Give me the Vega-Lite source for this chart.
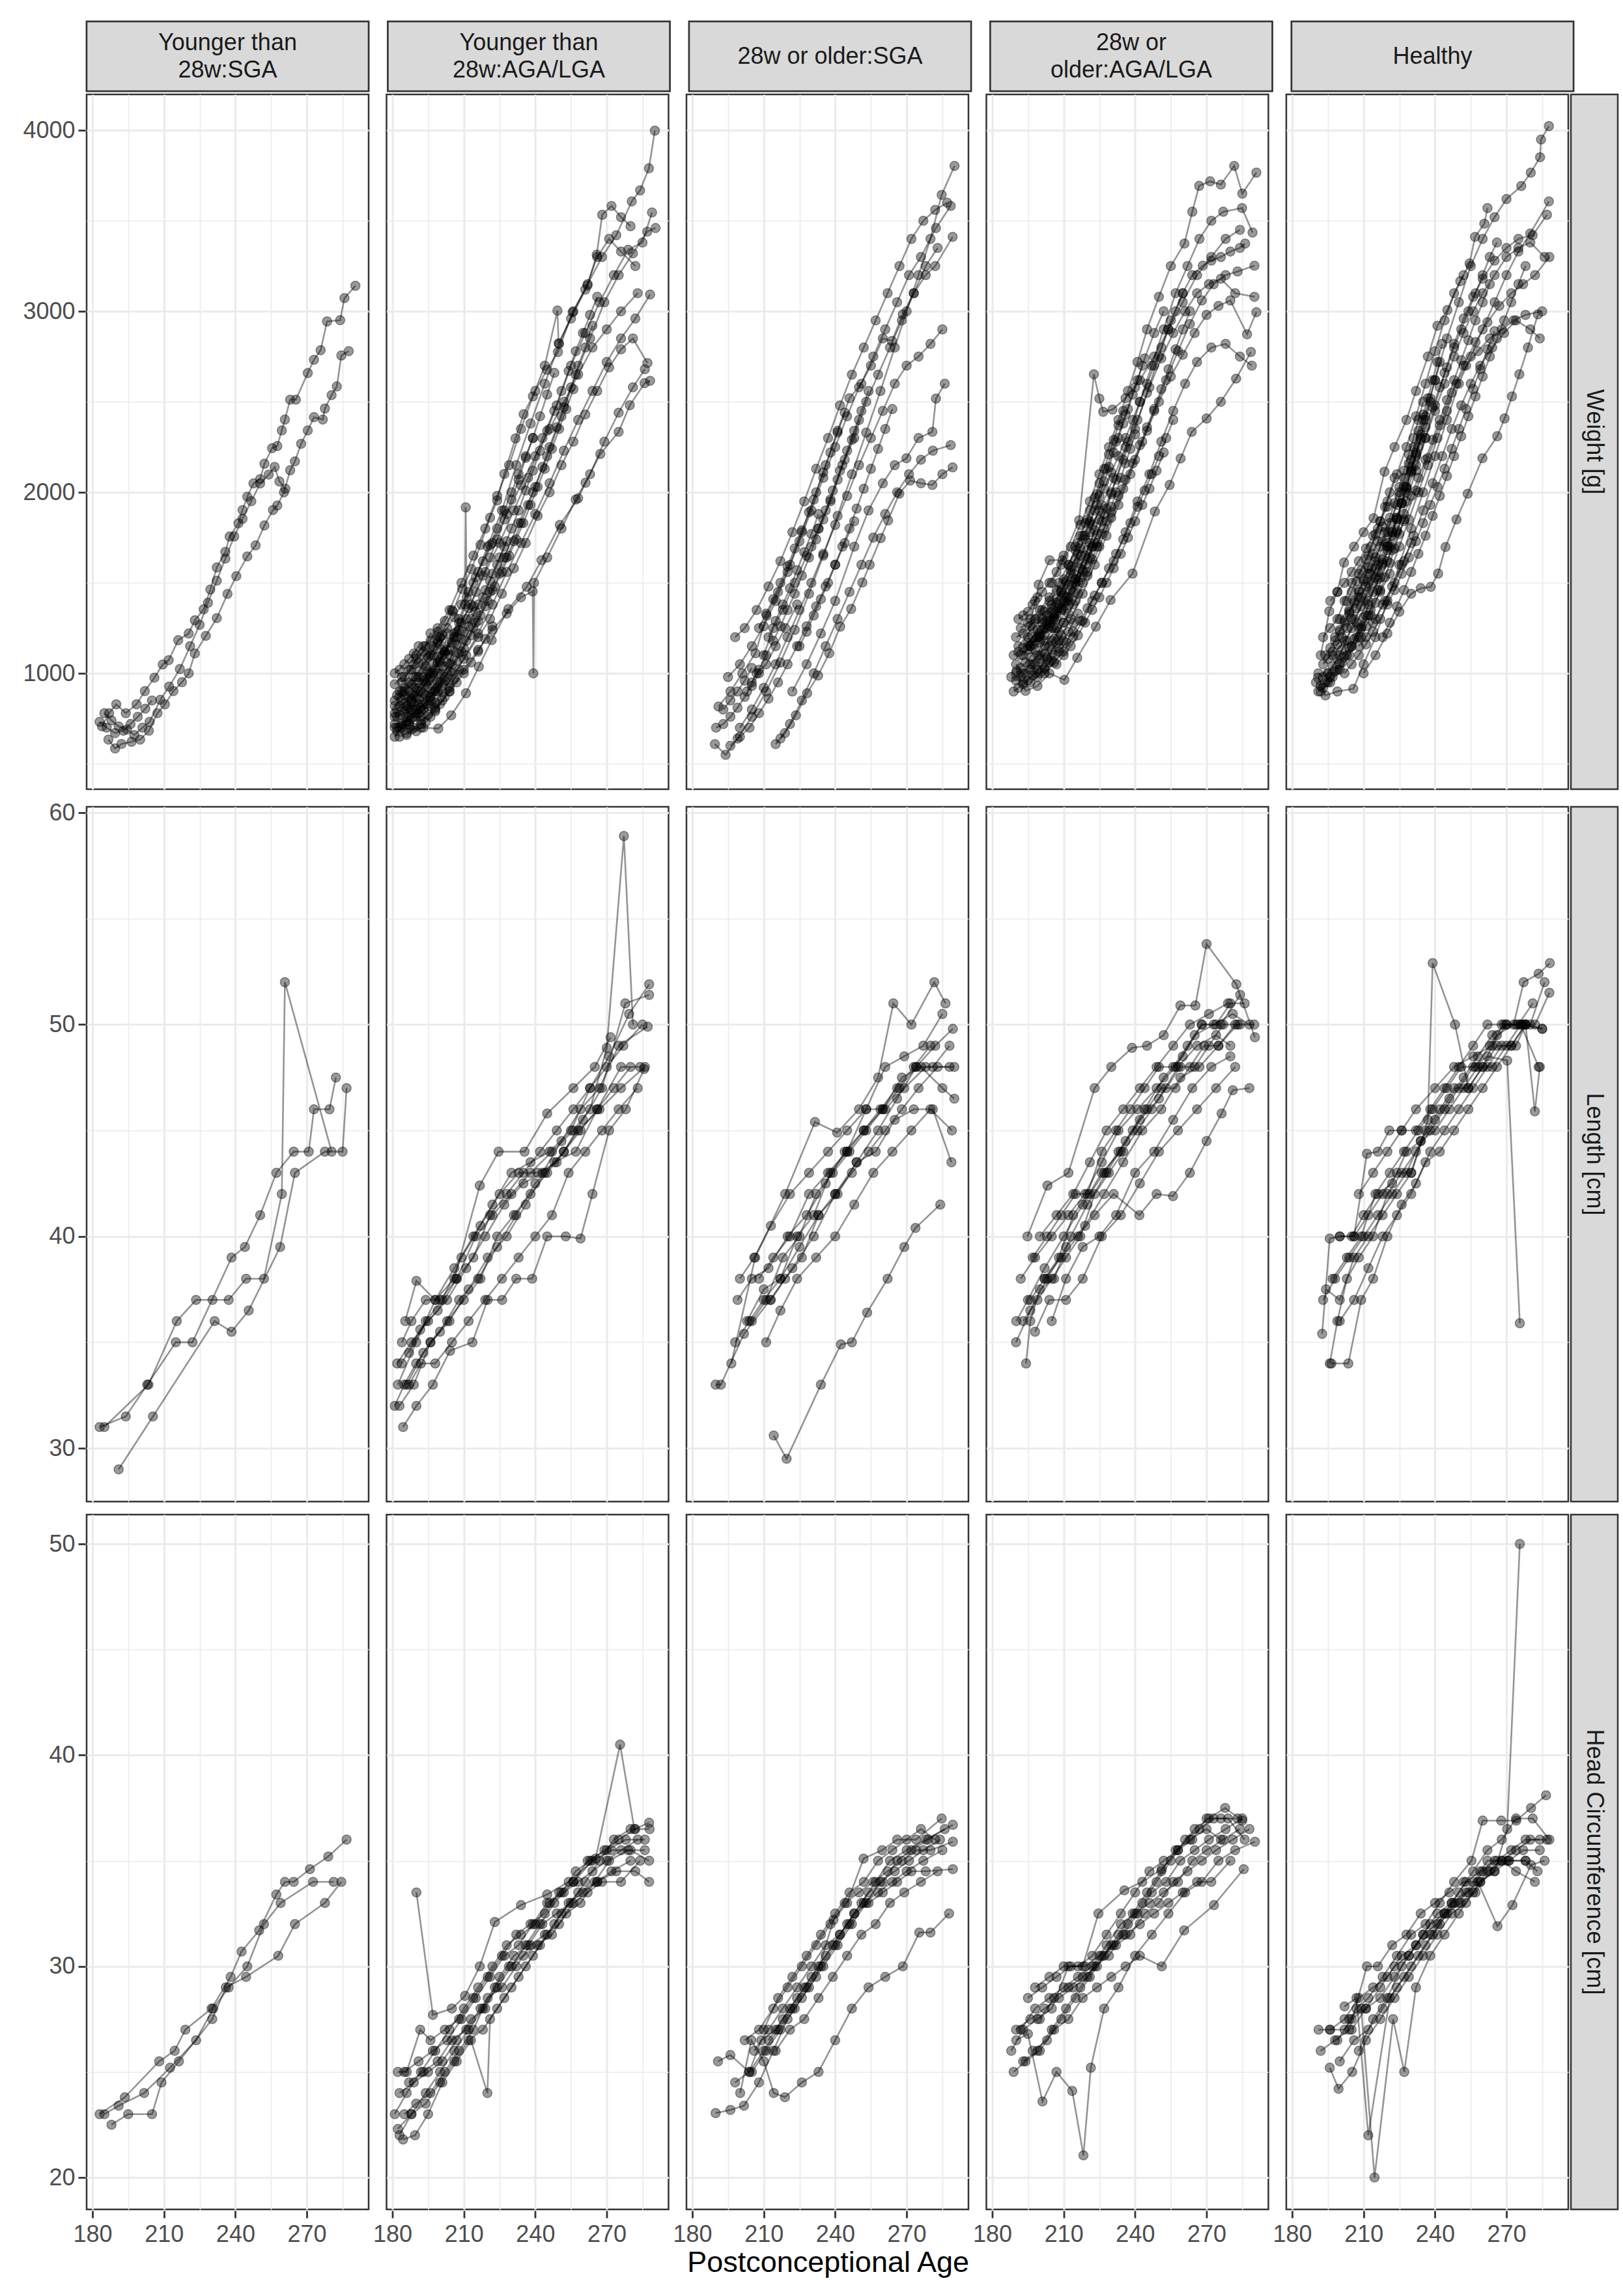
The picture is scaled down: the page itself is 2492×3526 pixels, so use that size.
{
"$schema":"https://vega.github.io/schema/vega-lite/v6.json",
"background":"white",
"padding":{"left":30,"top":30,"right":0,"bottom":0},
"config":{"font":"Liberation Sans","view":{"stroke":"#333333","strokeWidth":2.5},
"axis":{"gridColor":"#ebebeb","labelFont":"Liberation Sans","labelFontSize":36,"labelColor":"#4d4d4d","tickColor":"#333333","tickWidth":2.8,"tickSize":11,"domain":false,"labelOverlap":false,"labelFlush":false,"labelPadding":5}},
"title":{"text":"Postconceptional Age","orient":"bottom","anchor":"middle","fontSize":45,"fontWeight":"normal","color":"#000000","font":"Liberation Sans","offset":4,"dx":14},
"datasets":{
"top":[{"c":1,"lab":"Younger than\n28w:SGA"},{"c":2,"lab":"Younger than\n28w:AGA/LGA"},{"c":3,"lab":"28w or older:SGA"},{"c":4,"lab":"28w or\nolder:AGA/LGA"},{"c":5,"lab":"Healthy"}],
"side":[{"m":1,"lab":"Weight [g]"},{"m":2,"lab":"Length [cm]"},{"m":3,"lab":"Head Circumference [cm]"}],
"pts":[
{"c":1,"m":1,"s":1,"x":184,"y":707},{"c":1,"m":1,"s":1,"x":187,"y":780},{"c":1,"m":1,"s":1,"x":190,"y":829},{"c":1,"m":1,"s":1,"x":194,"y":780},{"c":1,"m":1,"s":1,"x":198.5,"y":829},{"c":1,"m":1,"s":1,"x":202,"y":902},{"c":1,"m":1,"s":1,"x":206,"y":976},{"c":1,"m":1,"s":1,"x":209.5,"y":1049},{"c":1,"m":1,"s":1,"x":212,"y":1073},{"c":1,"m":1,"s":1,"x":216,"y":1183},{"c":1,"m":1,"s":1,"x":220.4,"y":1220},{"c":1,"m":1,"s":1,"x":223,"y":1293},{"c":1,"m":1,"s":1,"x":226.7,"y":1354},{"c":1,"m":1,"s":1,"x":229.5,"y":1463},{"c":1,"m":1,"s":1,"x":232.2,"y":1585},{"c":1,"m":1,"s":1,"x":235.8,"y":1671},{"c":1,"m":1,"s":1,"x":237.6,"y":1756},{"c":1,"m":1,"s":1,"x":241.3,"y":1829},{"c":1,"m":1,"s":1,"x":243,"y":1902},{"c":1,"m":1,"s":1,"x":245,"y":1976},{"c":1,"m":1,"s":1,"x":247.6,"y":2049},{"c":1,"m":1,"s":1,"x":250.4,"y":2073},{"c":1,"m":1,"s":1,"x":252.2,"y":2158},{"c":1,"m":1,"s":1,"x":255.4,"y":2244},{"c":1,"m":1,"s":1,"x":257.6,"y":2256},{"c":1,"m":1,"s":1,"x":259.5,"y":2342},{"c":1,"m":1,"s":1,"x":260.8,"y":2402},{"c":1,"m":1,"s":1,"x":263,"y":2512},{"c":1,"m":1,"s":1,"x":265.4,"y":2512},{"c":1,"m":1,"s":1,"x":270.4,"y":2659},{"c":1,"m":1,"s":1,"x":273,"y":2732},{"c":1,"m":1,"s":1,"x":275.8,"y":2785},{"c":1,"m":1,"s":1,"x":278.5,"y":2944},{"c":1,"m":1,"s":1,"x":284,"y":2951},{"c":1,"m":1,"s":1,"x":285.8,"y":3073},{"c":1,"m":1,"s":1,"x":290.4,"y":3141},
{"c":1,"m":1,"s":2,"x":186.7,"y":634},{"c":1,"m":1,"s":2,"x":189.5,"y":585},{"c":1,"m":1,"s":2,"x":192.2,"y":610},{"c":1,"m":1,"s":2,"x":196.4,"y":622},{"c":1,"m":1,"s":2,"x":200,"y":634},{"c":1,"m":1,"s":2,"x":203.7,"y":683},{"c":1,"m":1,"s":2,"x":207.3,"y":780},{"c":1,"m":1,"s":2,"x":210.4,"y":829},{"c":1,"m":1,"s":2,"x":214,"y":902},{"c":1,"m":1,"s":2,"x":217.6,"y":951},{"c":1,"m":1,"s":2,"x":220.4,"y":1000},{"c":1,"m":1,"s":2,"x":223,"y":1110},{"c":1,"m":1,"s":2,"x":227.6,"y":1207},{"c":1,"m":1,"s":2,"x":232.2,"y":1305},{"c":1,"m":1,"s":2,"x":236.7,"y":1439},{"c":1,"m":1,"s":2,"x":240.4,"y":1537},{"c":1,"m":1,"s":2,"x":245,"y":1646},{"c":1,"m":1,"s":2,"x":248.5,"y":1707},{"c":1,"m":1,"s":2,"x":252.2,"y":1817},{"c":1,"m":1,"s":2,"x":255.8,"y":1902},{"c":1,"m":1,"s":2,"x":257.6,"y":1927},{"c":1,"m":1,"s":2,"x":260.4,"y":2000},{"c":1,"m":1,"s":2,"x":263,"y":2122},{"c":1,"m":1,"s":2,"x":265,"y":2171},{"c":1,"m":1,"s":2,"x":267.6,"y":2268},{"c":1,"m":1,"s":2,"x":270.4,"y":2342},{"c":1,"m":1,"s":2,"x":273,"y":2415},{"c":1,"m":1,"s":2,"x":276.7,"y":2402},{"c":1,"m":1,"s":2,"x":277.6,"y":2463},{"c":1,"m":1,"s":2,"x":280.4,"y":2537},{"c":1,"m":1,"s":2,"x":282.6,"y":2585},{"c":1,"m":1,"s":2,"x":284.5,"y":2756},{"c":1,"m":1,"s":2,"x":287.6,"y":2780},
{"c":1,"m":1,"s":3,"x":185,"y":780},{"c":1,"m":1,"s":3,"x":188,"y":740},{"c":1,"m":1,"s":3,"x":191,"y":707},{"c":1,"m":1,"s":3,"x":194.5,"y":690},{"c":1,"m":1,"s":3,"x":197.6,"y":659},{"c":1,"m":1,"s":3,"x":201,"y":700},{"c":1,"m":1,"s":3,"x":204,"y":732},{"c":1,"m":1,"s":3,"x":208.5,"y":854},{"c":1,"m":1,"s":3,"x":212.2,"y":927},{"c":1,"m":1,"s":3,"x":216.7,"y":1024},{"c":1,"m":1,"s":3,"x":221,"y":1150},{"c":1,"m":1,"s":3,"x":225,"y":1268},{"c":1,"m":1,"s":3,"x":228.5,"y":1390},{"c":1,"m":1,"s":3,"x":232.2,"y":1512},{"c":1,"m":1,"s":3,"x":235.8,"y":1634},{"c":1,"m":1,"s":3,"x":239.5,"y":1756},{"c":1,"m":1,"s":3,"x":243,"y":1854},{"c":1,"m":1,"s":3,"x":246.7,"y":1951},{"c":1,"m":1,"s":3,"x":250.4,"y":2049},{"c":1,"m":1,"s":3,"x":254,"y":2098},{"c":1,"m":1,"s":3,"x":256.5,"y":2140},{"c":1,"m":1,"s":3,"x":258.5,"y":2060},{"c":1,"m":1,"s":3,"x":261,"y":2020},
{"c":1,"m":1,"s":4,"x":183,"y":732},{"c":1,"m":1,"s":4,"x":186,"y":700},{"c":1,"m":1,"s":4,"x":189.5,"y":670},{"c":1,"m":1,"s":4,"x":193,"y":683},{"c":1,"m":1,"s":4,"x":196,"y":720},{"c":1,"m":1,"s":4,"x":199,"y":760},{"c":1,"m":1,"s":4,"x":202.2,"y":805},{"c":1,"m":1,"s":4,"x":205,"y":850},
{"c":1,"m":2,"s":1,"x":183,"y":31},{"c":1,"m":2,"s":1,"x":194,"y":31.5},{"c":1,"m":2,"s":1,"x":203,"y":33},{"c":1,"m":2,"s":1,"x":215,"y":35},{"c":1,"m":2,"s":1,"x":222,"y":35},{"c":1,"m":2,"s":1,"x":238.4,"y":39},{"c":1,"m":2,"s":1,"x":244,"y":39.5},{"c":1,"m":2,"s":1,"x":250.4,"y":41},{"c":1,"m":2,"s":1,"x":257.2,"y":43},{"c":1,"m":2,"s":1,"x":264.5,"y":44},{"c":1,"m":2,"s":1,"x":270.8,"y":44},{"c":1,"m":2,"s":1,"x":273,"y":46},{"c":1,"m":2,"s":1,"x":279.5,"y":46},{"c":1,"m":2,"s":1,"x":282.2,"y":47.5},
{"c":1,"m":2,"s":2,"x":185,"y":31},{"c":1,"m":2,"s":2,"x":203.5,"y":33},{"c":1,"m":2,"s":2,"x":215.4,"y":36},{"c":1,"m":2,"s":2,"x":223.5,"y":37},{"c":1,"m":2,"s":2,"x":230.4,"y":37},{"c":1,"m":2,"s":2,"x":237.2,"y":37},{"c":1,"m":2,"s":2,"x":244.5,"y":38},{"c":1,"m":2,"s":2,"x":252,"y":38},{"c":1,"m":2,"s":2,"x":259.5,"y":42},{"c":1,"m":2,"s":2,"x":260.8,"y":52},{"c":1,"m":2,"s":2,"x":280.4,"y":44},
{"c":1,"m":2,"s":3,"x":191,"y":29},{"c":1,"m":2,"s":3,"x":205.4,"y":31.5},{"c":1,"m":2,"s":3,"x":231.3,"y":36},{"c":1,"m":2,"s":3,"x":238.4,"y":35.5},{"c":1,"m":2,"s":3,"x":245.6,"y":36.5},{"c":1,"m":2,"s":3,"x":258.8,"y":39.5},{"c":1,"m":2,"s":3,"x":265,"y":43},{"c":1,"m":2,"s":3,"x":277.6,"y":44},{"c":1,"m":2,"s":3,"x":285,"y":44},{"c":1,"m":2,"s":3,"x":286.7,"y":47},
{"c":1,"m":3,"s":1,"x":183,"y":23},{"c":1,"m":3,"s":1,"x":193.6,"y":23.8},{"c":1,"m":3,"s":1,"x":208,"y":25.5},{"c":1,"m":3,"s":1,"x":214.5,"y":26},{"c":1,"m":3,"s":1,"x":219,"y":27},{"c":1,"m":3,"s":1,"x":230,"y":28},{"c":1,"m":3,"s":1,"x":238,"y":29.5},{"c":1,"m":3,"s":1,"x":242.6,"y":30.7},{"c":1,"m":3,"s":1,"x":250,"y":31.7},{"c":1,"m":3,"s":1,"x":257.2,"y":33.4},{"c":1,"m":3,"s":1,"x":260.8,"y":34},{"c":1,"m":3,"s":1,"x":264.5,"y":34},{"c":1,"m":3,"s":1,"x":271.3,"y":34.6},{"c":1,"m":3,"s":1,"x":279,"y":35.2},{"c":1,"m":3,"s":1,"x":286.7,"y":36},
{"c":1,"m":3,"s":2,"x":185,"y":23},{"c":1,"m":3,"s":2,"x":191,"y":23.4},{"c":1,"m":3,"s":2,"x":201.7,"y":24},{"c":1,"m":3,"s":2,"x":212.6,"y":25.2},{"c":1,"m":3,"s":2,"x":223.5,"y":26.5},{"c":1,"m":3,"s":2,"x":230.7,"y":28},{"c":1,"m":3,"s":2,"x":237.2,"y":29},{"c":1,"m":3,"s":2,"x":245,"y":30},{"c":1,"m":3,"s":2,"x":252,"y":32},{"c":1,"m":3,"s":2,"x":259,"y":33},{"c":1,"m":3,"s":2,"x":272.6,"y":34},{"c":1,"m":3,"s":2,"x":281.3,"y":34},
{"c":1,"m":3,"s":3,"x":188,"y":22.5},{"c":1,"m":3,"s":3,"x":195,"y":23},{"c":1,"m":3,"s":3,"x":205,"y":23},{"c":1,"m":3,"s":3,"x":209,"y":24.5},{"c":1,"m":3,"s":3,"x":216.3,"y":25.5},{"c":1,"m":3,"s":3,"x":230.3,"y":27.5},{"c":1,"m":3,"s":3,"x":236,"y":29},{"c":1,"m":3,"s":3,"x":244.5,"y":29.5},{"c":1,"m":3,"s":3,"x":258,"y":30.5},{"c":1,"m":3,"s":3,"x":265,"y":32},{"c":1,"m":3,"s":3,"x":277.6,"y":33},{"c":1,"m":3,"s":3,"x":284.5,"y":34},
{"c":2,"m":1,"s":1,"x":184,"y":900},{"c":2,"m":1,"s":1,"x":190,"y":980},{"c":2,"m":1,"s":1,"x":196,"y":1100},{"c":2,"m":1,"s":1,"x":200,"y":1200},{"c":2,"m":1,"s":1,"x":205.4,"y":1343},{"c":2,"m":1,"s":1,"x":209.3,"y":1466},{"c":2,"m":1,"s":1,"x":213.2,"y":1576},{"c":2,"m":1,"s":1,"x":217,"y":1710},{"c":2,"m":1,"s":1,"x":221,"y":1860},{"c":2,"m":1,"s":1,"x":224,"y":1955},{"c":2,"m":1,"s":1,"x":227,"y":2102},{"c":2,"m":1,"s":1,"x":231.7,"y":2298},{"c":2,"m":1,"s":1,"x":235.1,"y":2432},{"c":2,"m":1,"s":1,"x":240,"y":2560},{"c":2,"m":1,"s":1,"x":244.9,"y":2677},{"c":2,"m":1,"s":1,"x":249.5,"y":2775},{"c":2,"m":1,"s":1,"x":255.7,"y":2995},{"c":2,"m":1,"s":1,"x":261.9,"y":3142},{"c":2,"m":1,"s":1,"x":265.8,"y":3313},{"c":2,"m":1,"s":1,"x":268.1,"y":3533},{"c":2,"m":1,"s":1,"x":272,"y":3582},{"c":2,"m":1,"s":1,"x":276,"y":3520},{"c":2,"m":1,"s":1,"x":280,"y":3470},
{"c":2,"m":1,"s":2,"x":188,"y":850},{"c":2,"m":1,"s":2,"x":195,"y":960},{"c":2,"m":1,"s":2,"x":202,"y":1120},{"c":2,"m":1,"s":2,"x":208,"y":1300},{"c":2,"m":1,"s":2,"x":214,"y":1500},{"c":2,"m":1,"s":2,"x":220,"y":1700},{"c":2,"m":1,"s":2,"x":226,"y":1900},{"c":2,"m":1,"s":2,"x":232,"y":2150},{"c":2,"m":1,"s":2,"x":238,"y":2380},{"c":2,"m":1,"s":2,"x":244,"y":2600},{"c":2,"m":1,"s":2,"x":250,"y":2820},{"c":2,"m":1,"s":2,"x":256,"y":3000},{"c":2,"m":1,"s":2,"x":262,"y":3150},{"c":2,"m":1,"s":2,"x":268,"y":3300},{"c":2,"m":1,"s":2,"x":274,"y":3420},{"c":2,"m":1,"s":2,"x":280.5,"y":3607},{"c":2,"m":1,"s":2,"x":284,"y":3668},{"c":2,"m":1,"s":2,"x":287.7,"y":3790},{"c":2,"m":1,"s":2,"x":290.2,"y":3998},
{"c":2,"m":1,"s":3,"x":183,"y":700},{"c":2,"m":1,"s":3,"x":188,"y":690},{"c":2,"m":1,"s":3,"x":193,"y":700},{"c":2,"m":1,"s":3,"x":199.3,"y":695},{"c":2,"m":1,"s":3,"x":204.7,"y":768},{"c":2,"m":1,"s":3,"x":210.9,"y":890},{"c":2,"m":1,"s":3,"x":216.3,"y":1037},{"c":2,"m":1,"s":3,"x":221.7,"y":1184},{"c":2,"m":1,"s":3,"x":228.7,"y":1355},{"c":2,"m":1,"s":3,"x":236.4,"y":1478},{"c":2,"m":1,"s":3,"x":242.6,"y":1625},{"c":2,"m":1,"s":3,"x":250.3,"y":1820},{"c":2,"m":1,"s":3,"x":258,"y":1967},{"c":2,"m":1,"s":3,"x":261.1,"y":2053},{"c":2,"m":1,"s":3,"x":267.3,"y":2212},{"c":2,"m":1,"s":3,"x":275,"y":2334},{"c":2,"m":1,"s":3,"x":279.7,"y":2481},{"c":2,"m":1,"s":3,"x":285.9,"y":2603},{"c":2,"m":1,"s":3,"x":288.2,"y":2616},
{"c":2,"m":1,"s":4,"x":181,"y":780},{"c":2,"m":1,"s":4,"x":186,"y":800},{"c":2,"m":1,"s":4,"x":191,"y":830},{"c":2,"m":1,"s":4,"x":197,"y":900},{"c":2,"m":1,"s":4,"x":203,"y":1000},{"c":2,"m":1,"s":4,"x":209,"y":1120},{"c":2,"m":1,"s":4,"x":215,"y":1280},{"c":2,"m":1,"s":4,"x":221,"y":1450},{"c":2,"m":1,"s":4,"x":227,"y":1640},{"c":2,"m":1,"s":4,"x":233,"y":1830},{"c":2,"m":1,"s":4,"x":239,"y":2000},{"c":2,"m":1,"s":4,"x":245,"y":2200},{"c":2,"m":1,"s":4,"x":251,"y":2420},{"c":2,"m":1,"s":4,"x":257,"y":2650},{"c":2,"m":1,"s":4,"x":263,"y":2850},{"c":2,"m":1,"s":4,"x":269,"y":3050},{"c":2,"m":1,"s":4,"x":275,"y":3200},{"c":2,"m":1,"s":4,"x":281,"y":3320},{"c":2,"m":1,"s":4,"x":287,"y":3440},{"c":2,"m":1,"s":4,"x":290.5,"y":3460},
{"c":2,"m":1,"s":5,"x":182,"y":680},{"c":2,"m":1,"s":5,"x":187,"y":720},{"c":2,"m":1,"s":5,"x":192,"y":760},{"c":2,"m":1,"s":5,"x":198,"y":840},{"c":2,"m":1,"s":5,"x":204,"y":950},{"c":2,"m":1,"s":5,"x":210,"y":1080},{"c":2,"m":1,"s":5,"x":216,"y":1220},{"c":2,"m":1,"s":5,"x":222,"y":1380},{"c":2,"m":1,"s":5,"x":228,"y":1560},{"c":2,"m":1,"s":5,"x":234,"y":1720},{"c":2,"m":1,"s":5,"x":240,"y":1880},{"c":2,"m":1,"s":5,"x":246,"y":2050},{"c":2,"m":1,"s":5,"x":252,"y":2230},{"c":2,"m":1,"s":5,"x":258,"y":2400},{"c":2,"m":1,"s":5,"x":264,"y":2560},{"c":2,"m":1,"s":5,"x":270,"y":2720},{"c":2,"m":1,"s":5,"x":276,"y":2850},{"c":2,"m":1,"s":5,"x":282,"y":2960},{"c":2,"m":1,"s":5,"x":288.2,"y":3093},
{"c":2,"m":1,"s":6,"x":183,"y":820},{"c":2,"m":1,"s":6,"x":189,"y":880},{"c":2,"m":1,"s":6,"x":195,"y":1000},{"c":2,"m":1,"s":6,"x":201,"y":1100},{"c":2,"m":1,"s":6,"x":207,"y":1230},{"c":2,"m":1,"s":6,"x":213,"y":1380},{"c":2,"m":1,"s":6,"x":219,"y":1560},{"c":2,"m":1,"s":6,"x":225,"y":1720},{"c":2,"m":1,"s":6,"x":231,"y":1900},{"c":2,"m":1,"s":6,"x":237,"y":2080},{"c":2,"m":1,"s":6,"x":243,"y":2300},{"c":2,"m":1,"s":6,"x":249,"y":2480},{"c":2,"m":1,"s":6,"x":255,"y":2700},{"c":2,"m":1,"s":6,"x":261,"y":2880},{"c":2,"m":1,"s":6,"x":267,"y":3050},{"c":2,"m":1,"s":6,"x":273,"y":3200},{"c":2,"m":1,"s":6,"x":279,"y":3340},{"c":2,"m":1,"s":6,"x":285,"y":3380},{"c":2,"m":1,"s":6,"x":289,"y":3546},
{"c":2,"m":1,"s":7,"x":181,"y":720},{"c":2,"m":1,"s":7,"x":186,"y":740},{"c":2,"m":1,"s":7,"x":191,"y":780},{"c":2,"m":1,"s":7,"x":196,"y":820},{"c":2,"m":1,"s":7,"x":201,"y":900},{"c":2,"m":1,"s":7,"x":206,"y":1000},{"c":2,"m":1,"s":7,"x":211,"y":1100},{"c":2,"m":1,"s":7,"x":216,"y":1200},{"c":2,"m":1,"s":7,"x":221,"y":1300},{"c":2,"m":1,"s":7,"x":226,"y":1440},{"c":2,"m":1,"s":7,"x":231,"y":1580},{"c":2,"m":1,"s":7,"x":236,"y":1720},{"c":2,"m":1,"s":7,"x":241,"y":1870},{"c":2,"m":1,"s":7,"x":246,"y":2000},{"c":2,"m":1,"s":7,"x":251,"y":2150},{"c":2,"m":1,"s":7,"x":256,"y":2280},{"c":2,"m":1,"s":7,"x":261,"y":2430},{"c":2,"m":1,"s":7,"x":266,"y":2560},{"c":2,"m":1,"s":7,"x":271,"y":2690},{"c":2,"m":1,"s":7,"x":276,"y":2790},{"c":2,"m":1,"s":7,"x":281,"y":2850},{"c":2,"m":1,"s":7,"x":287.1,"y":2714},
{"c":2,"m":1,"s":8,"x":184,"y":950},{"c":2,"m":1,"s":8,"x":189,"y":1050},{"c":2,"m":1,"s":8,"x":194,"y":1150},{"c":2,"m":1,"s":8,"x":199,"y":1250},{"c":2,"m":1,"s":8,"x":204,"y":1350},{"c":2,"m":1,"s":8,"x":209,"y":1500},{"c":2,"m":1,"s":8,"x":214,"y":1650},{"c":2,"m":1,"s":8,"x":219,"y":1800},{"c":2,"m":1,"s":8,"x":224,"y":1980},{"c":2,"m":1,"s":8,"x":229,"y":2150},{"c":2,"m":1,"s":8,"x":234,"y":2350},{"c":2,"m":1,"s":8,"x":239,"y":2530},{"c":2,"m":1,"s":8,"x":244,"y":2700},{"c":2,"m":1,"s":8,"x":249.3,"y":3004},{"c":2,"m":1,"s":8,"x":249.8,"y":2824},{"c":2,"m":1,"s":8,"x":255,"y":2960},{"c":2,"m":1,"s":8,"x":261,"y":3120},{"c":2,"m":1,"s":8,"x":266,"y":3300},{"c":2,"m":1,"s":8,"x":271,"y":3400},{"c":2,"m":1,"s":8,"x":276,"y":3330},{"c":2,"m":1,"s":8,"x":282,"y":3250},
{"c":2,"m":1,"s":9,"x":182,"y":760},{"c":2,"m":1,"s":9,"x":188,"y":800},{"c":2,"m":1,"s":9,"x":194,"y":880},{"c":2,"m":1,"s":9,"x":199,"y":950},{"c":2,"m":1,"s":9,"x":204,"y":1050},{"c":2,"m":1,"s":9,"x":207,"y":1200},{"c":2,"m":1,"s":9,"x":210.5,"y":1381},{"c":2,"m":1,"s":9,"x":210.8,"y":1917},{"c":2,"m":1,"s":9,"x":211.2,"y":1420},{"c":2,"m":1,"s":9,"x":216,"y":1560},{"c":2,"m":1,"s":9,"x":222,"y":1720},{"c":2,"m":1,"s":9,"x":228,"y":1880},{"c":2,"m":1,"s":9,"x":234,"y":2040},{"c":2,"m":1,"s":9,"x":240,"y":2200},{"c":2,"m":1,"s":9,"x":246,"y":2350},{"c":2,"m":1,"s":9,"x":252,"y":2500},{"c":2,"m":1,"s":9,"x":258,"y":2650},{"c":2,"m":1,"s":9,"x":264,"y":2800},{"c":2,"m":1,"s":9,"x":270,"y":2900},{"c":2,"m":1,"s":9,"x":276,"y":3000},{"c":2,"m":1,"s":9,"x":283,"y":3100},
{"c":2,"m":1,"s":10,"x":186,"y":660},{"c":2,"m":1,"s":10,"x":192,"y":720},{"c":2,"m":1,"s":10,"x":198,"y":800},{"c":2,"m":1,"s":10,"x":204,"y":900},{"c":2,"m":1,"s":10,"x":210,"y":1020},{"c":2,"m":1,"s":10,"x":216,"y":1130},{"c":2,"m":1,"s":10,"x":222,"y":1240},{"c":2,"m":1,"s":10,"x":228,"y":1330},{"c":2,"m":1,"s":10,"x":234,"y":1420},{"c":2,"m":1,"s":10,"x":238.9,"y":1453},{"c":2,"m":1,"s":10,"x":239.2,"y":1000},{"c":2,"m":1,"s":10,"x":239.5,"y":1500},{"c":2,"m":1,"s":10,"x":245,"y":1640},{"c":2,"m":1,"s":10,"x":251,"y":1800},{"c":2,"m":1,"s":10,"x":257,"y":1960},{"c":2,"m":1,"s":10,"x":263,"y":2100},{"c":2,"m":1,"s":10,"x":269,"y":2280},{"c":2,"m":1,"s":10,"x":275,"y":2440},{"c":2,"m":1,"s":10,"x":281,"y":2580},{"c":2,"m":1,"s":10,"x":286,"y":2680},
{"c":2,"m":1,"s":11,"x":181,"y":650},{"c":2,"m":1,"s":11,"x":184,"y":700},{"c":2,"m":1,"s":11,"x":187,"y":720},{"c":2,"m":1,"s":11,"x":190,"y":760},{"c":2,"m":1,"s":11,"x":193,"y":800},{"c":2,"m":1,"s":11,"x":196,"y":850},{"c":2,"m":1,"s":11,"x":199,"y":900},{"c":2,"m":1,"s":11,"x":202,"y":960},
{"c":2,"m":1,"s":12,"x":182,"y":880},{"c":2,"m":1,"s":12,"x":185,"y":900},{"c":2,"m":1,"s":12,"x":188,"y":940},{"c":2,"m":1,"s":12,"x":191,"y":980},{"c":2,"m":1,"s":12,"x":194,"y":1040},{"c":2,"m":1,"s":12,"x":197,"y":1100},{"c":2,"m":1,"s":12,"x":200,"y":1160},{"c":2,"m":1,"s":12,"x":203,"y":1220},
{"c":2,"m":1,"s":13,"x":181,"y":940},{"c":2,"m":1,"s":13,"x":184,"y":980},{"c":2,"m":1,"s":13,"x":187,"y":1020},{"c":2,"m":1,"s":13,"x":190,"y":1080},{"c":2,"m":1,"s":13,"x":193,"y":1120},{"c":2,"m":1,"s":13,"x":196,"y":1221},{"c":2,"m":1,"s":13,"x":199,"y":1180},
{"c":2,"m":1,"s":14,"x":181,"y":700},{"c":2,"m":1,"s":14,"x":184,"y":720},{"c":2,"m":1,"s":14,"x":187,"y":760},{"c":2,"m":1,"s":14,"x":190,"y":800},{"c":2,"m":1,"s":14,"x":193,"y":830},{"c":2,"m":1,"s":14,"x":196,"y":870},{"c":2,"m":1,"s":14,"x":199,"y":920},{"c":2,"m":1,"s":14,"x":202,"y":980},{"c":2,"m":1,"s":14,"x":205,"y":1050},{"c":2,"m":1,"s":14,"x":208,"y":1110},{"c":2,"m":1,"s":14,"x":211,"y":1180},{"c":2,"m":1,"s":14,"x":214,"y":1250},{"c":2,"m":1,"s":14,"x":217,"y":1320},{"c":2,"m":1,"s":14,"x":220,"y":1400},{"c":2,"m":1,"s":14,"x":223,"y":1480},{"c":2,"m":1,"s":14,"x":226,"y":1560},{"c":2,"m":1,"s":14,"x":229,"y":1650},{"c":2,"m":1,"s":14,"x":232,"y":1740},{"c":2,"m":1,"s":14,"x":235,"y":1830},{"c":2,"m":1,"s":14,"x":238,"y":1930},{"c":2,"m":1,"s":14,"x":241,"y":2030},{"c":2,"m":1,"s":14,"x":244,"y":2130},{"c":2,"m":1,"s":14,"x":247,"y":2240},{"c":2,"m":1,"s":14,"x":250,"y":2350},{"c":2,"m":1,"s":14,"x":253,"y":2460},{"c":2,"m":1,"s":14,"x":256,"y":2570},
{"c":2,"m":1,"s":15,"x":182,"y":800},{"c":2,"m":1,"s":15,"x":185,"y":830},{"c":2,"m":1,"s":15,"x":188,"y":860},{"c":2,"m":1,"s":15,"x":191,"y":900},{"c":2,"m":1,"s":15,"x":194,"y":950},{"c":2,"m":1,"s":15,"x":197,"y":1000},{"c":2,"m":1,"s":15,"x":200,"y":1060},{"c":2,"m":1,"s":15,"x":203,"y":1130},{"c":2,"m":1,"s":15,"x":206,"y":1200},{"c":2,"m":1,"s":15,"x":209,"y":1280},{"c":2,"m":1,"s":15,"x":212,"y":1360},{"c":2,"m":1,"s":15,"x":215,"y":1450},{"c":2,"m":1,"s":15,"x":218,"y":1540},{"c":2,"m":1,"s":15,"x":221,"y":1640},{"c":2,"m":1,"s":15,"x":224,"y":1740},{"c":2,"m":1,"s":15,"x":227,"y":1850},{"c":2,"m":1,"s":15,"x":230,"y":1960},{"c":2,"m":1,"s":15,"x":233,"y":2070},{"c":2,"m":1,"s":15,"x":236,"y":2190},{"c":2,"m":1,"s":15,"x":239,"y":2300},
{"c":2,"m":1,"s":16,"x":183,"y":650},{"c":2,"m":1,"s":16,"x":186,"y":670},{"c":2,"m":1,"s":16,"x":189,"y":700},{"c":2,"m":1,"s":16,"x":192,"y":740},{"c":2,"m":1,"s":16,"x":195,"y":770},{"c":2,"m":1,"s":16,"x":198,"y":810},{"c":2,"m":1,"s":16,"x":201,"y":850},{"c":2,"m":1,"s":16,"x":204,"y":900},{"c":2,"m":1,"s":16,"x":207,"y":950},{"c":2,"m":1,"s":16,"x":210,"y":1000},{"c":2,"m":1,"s":16,"x":213,"y":1060},{"c":2,"m":1,"s":16,"x":216,"y":1120},{"c":2,"m":1,"s":16,"x":219,"y":1190},{"c":2,"m":1,"s":16,"x":222,"y":1260},
{"c":2,"m":1,"s":17,"x":185,"y":980},{"c":2,"m":1,"s":17,"x":188,"y":1020},{"c":2,"m":1,"s":17,"x":191,"y":1060},{"c":2,"m":1,"s":17,"x":194,"y":1100},{"c":2,"m":1,"s":17,"x":197,"y":1150},{"c":2,"m":1,"s":17,"x":200,"y":1200},{"c":2,"m":1,"s":17,"x":203,"y":1250},{"c":2,"m":1,"s":17,"x":206,"y":1310},{"c":2,"m":1,"s":17,"x":209,"y":1380},{"c":2,"m":1,"s":17,"x":212,"y":1450},{"c":2,"m":1,"s":17,"x":215,"y":1530},{"c":2,"m":1,"s":17,"x":218,"y":1620},{"c":2,"m":1,"s":17,"x":221,"y":1710},{"c":2,"m":1,"s":17,"x":224,"y":1800},{"c":2,"m":1,"s":17,"x":227,"y":1900},{"c":2,"m":1,"s":17,"x":230,"y":2000},{"c":2,"m":1,"s":17,"x":233,"y":2100},{"c":2,"m":1,"s":17,"x":236,"y":2200},{"c":2,"m":1,"s":17,"x":239,"y":2300},{"c":2,"m":1,"s":17,"x":242,"y":2420},{"c":2,"m":1,"s":17,"x":245,"y":2540},{"c":2,"m":1,"s":17,"x":248,"y":2660},
{"c":2,"m":1,"s":18,"x":181,"y":850},{"c":2,"m":1,"s":18,"x":183,"y":870},{"c":2,"m":1,"s":18,"x":185,"y":880},{"c":2,"m":1,"s":18,"x":187,"y":900},{"c":2,"m":1,"s":18,"x":189,"y":920},{"c":2,"m":1,"s":18,"x":191,"y":950},{"c":2,"m":1,"s":18,"x":193,"y":980},{"c":2,"m":1,"s":18,"x":195,"y":1010},{"c":2,"m":1,"s":18,"x":197,"y":1050},{"c":2,"m":1,"s":18,"x":199,"y":1090},{"c":2,"m":1,"s":18,"x":201,"y":1130},
{"c":2,"m":1,"s":19,"x":186,"y":760},{"c":2,"m":1,"s":19,"x":189,"y":780},{"c":2,"m":1,"s":19,"x":192,"y":810},{"c":2,"m":1,"s":19,"x":195,"y":850},{"c":2,"m":1,"s":19,"x":198,"y":900},{"c":2,"m":1,"s":19,"x":201,"y":950},{"c":2,"m":1,"s":19,"x":204,"y":1010},{"c":2,"m":1,"s":19,"x":207,"y":1070},{"c":2,"m":1,"s":19,"x":210,"y":1140},{"c":2,"m":1,"s":19,"x":213,"y":1210},{"c":2,"m":1,"s":19,"x":216,"y":1290},{"c":2,"m":1,"s":19,"x":219,"y":1370},{"c":2,"m":1,"s":19,"x":222,"y":1460},{"c":2,"m":1,"s":19,"x":225,"y":1550},{"c":2,"m":1,"s":19,"x":228,"y":1640},{"c":2,"m":1,"s":19,"x":231,"y":1730},{"c":2,"m":1,"s":19,"x":234,"y":1830},{"c":2,"m":1,"s":19,"x":237,"y":1930},{"c":2,"m":1,"s":19,"x":240,"y":2030},{"c":2,"m":1,"s":19,"x":243,"y":2140},{"c":2,"m":1,"s":19,"x":246,"y":2250},{"c":2,"m":1,"s":19,"x":249,"y":2360},{"c":2,"m":1,"s":19,"x":252,"y":2470},{"c":2,"m":1,"s":19,"x":255,"y":2580},{"c":2,"m":1,"s":19,"x":258,"y":2700},{"c":2,"m":1,"s":19,"x":261,"y":2800},{"c":2,"m":1,"s":19,"x":264,"y":2920},
{"c":2,"m":1,"s":20,"x":190,"y":1100},{"c":2,"m":1,"s":20,"x":193,"y":1150},{"c":2,"m":1,"s":20,"x":196,"y":1180},{"c":2,"m":1,"s":20,"x":199,"y":1230},{"c":2,"m":1,"s":20,"x":202,"y":1290},{"c":2,"m":1,"s":20,"x":205,"y":1350},
{"c":2,"m":1,"s":21,"x":200,"y":1000},{"c":2,"m":1,"s":21,"x":203,"y":1060},{"c":2,"m":1,"s":21,"x":206,"y":1120},{"c":2,"m":1,"s":21,"x":209,"y":1190},{"c":2,"m":1,"s":21,"x":212,"y":1260},{"c":2,"m":1,"s":21,"x":215,"y":1340},{"c":2,"m":1,"s":21,"x":218,"y":1420},{"c":2,"m":1,"s":21,"x":221,"y":1510},{"c":2,"m":1,"s":21,"x":224,"y":1600},{"c":2,"m":1,"s":21,"x":227,"y":1700},{"c":2,"m":1,"s":21,"x":230,"y":1800},{"c":2,"m":1,"s":21,"x":233,"y":1900},{"c":2,"m":1,"s":21,"x":236,"y":2010},{"c":2,"m":1,"s":21,"x":239,"y":2120},{"c":2,"m":1,"s":21,"x":242,"y":2230},{"c":2,"m":1,"s":21,"x":245,"y":2340},{"c":2,"m":1,"s":21,"x":248,"y":2450},{"c":2,"m":1,"s":21,"x":251,"y":2560},{"c":2,"m":1,"s":21,"x":254,"y":2670},{"c":2,"m":1,"s":21,"x":257,"y":2780},{"c":2,"m":1,"s":21,"x":260,"y":2880},{"c":2,"m":1,"s":21,"x":263,"y":2980},{"c":2,"m":1,"s":21,"x":266,"y":3080},
{"c":2,"m":1,"s":22,"x":181,"y":760},{"c":2,"m":1,"s":22,"x":183,"y":770},{"c":2,"m":1,"s":22,"x":185,"y":790},{"c":2,"m":1,"s":22,"x":187,"y":810},{"c":2,"m":1,"s":22,"x":189,"y":830},{"c":2,"m":1,"s":22,"x":191,"y":860},{"c":2,"m":1,"s":22,"x":193,"y":890},{"c":2,"m":1,"s":22,"x":195,"y":920},{"c":2,"m":1,"s":22,"x":197,"y":960},{"c":2,"m":1,"s":22,"x":199,"y":1000},{"c":2,"m":1,"s":22,"x":201,"y":1040},
{"c":2,"m":1,"s":23,"x":182,"y":700},{"c":2,"m":1,"s":23,"x":184,"y":710},{"c":2,"m":1,"s":23,"x":186,"y":730},{"c":2,"m":1,"s":23,"x":188,"y":750},{"c":2,"m":1,"s":23,"x":190,"y":780},{"c":2,"m":1,"s":23,"x":192,"y":800},{"c":2,"m":1,"s":23,"x":194,"y":830},{"c":2,"m":1,"s":23,"x":196,"y":870},{"c":2,"m":1,"s":23,"x":198,"y":910},{"c":2,"m":1,"s":23,"x":200,"y":950},
{"c":2,"m":1,"s":24,"x":183,"y":900},{"c":2,"m":1,"s":24,"x":185,"y":920},{"c":2,"m":1,"s":24,"x":187,"y":950},{"c":2,"m":1,"s":24,"x":189,"y":980},{"c":2,"m":1,"s":24,"x":191,"y":1010},{"c":2,"m":1,"s":24,"x":193,"y":1050},{"c":2,"m":1,"s":24,"x":195,"y":1090},{"c":2,"m":1,"s":24,"x":197,"y":1130},{"c":2,"m":1,"s":24,"x":199,"y":1170},{"c":2,"m":1,"s":24,"x":201,"y":1210},
{"c":2,"m":1,"s":25,"x":186,"y":820},{"c":2,"m":1,"s":25,"x":188,"y":840},{"c":2,"m":1,"s":25,"x":190,"y":870},{"c":2,"m":1,"s":25,"x":192,"y":900},{"c":2,"m":1,"s":25,"x":194,"y":940},{"c":2,"m":1,"s":25,"x":196,"y":980},{"c":2,"m":1,"s":25,"x":198,"y":1020},{"c":2,"m":1,"s":25,"x":200,"y":1070},{"c":2,"m":1,"s":25,"x":202,"y":1120},{"c":2,"m":1,"s":25,"x":204,"y":1170},{"c":2,"m":1,"s":25,"x":206,"y":1220},{"c":2,"m":1,"s":25,"x":208,"y":1280},
{"c":2,"m":1,"s":26,"x":190,"y":680},{"c":2,"m":1,"s":26,"x":192,"y":700},{"c":2,"m":1,"s":26,"x":194,"y":730},{"c":2,"m":1,"s":26,"x":196,"y":760},{"c":2,"m":1,"s":26,"x":198,"y":790},{"c":2,"m":1,"s":26,"x":200,"y":830},{"c":2,"m":1,"s":26,"x":202,"y":870},{"c":2,"m":1,"s":26,"x":204,"y":920},{"c":2,"m":1,"s":26,"x":206,"y":970},{"c":2,"m":1,"s":26,"x":208,"y":1020},
{"c":2,"m":1,"s":27,"x":181,"y":820},{"c":2,"m":1,"s":27,"x":184,"y":850},{"c":2,"m":1,"s":27,"x":187,"y":870},{"c":2,"m":1,"s":27,"x":190,"y":920},{"c":2,"m":1,"s":27,"x":193,"y":960},{"c":2,"m":1,"s":27,"x":196,"y":1000},{"c":2,"m":1,"s":27,"x":199,"y":1060},{"c":2,"m":1,"s":27,"x":202,"y":1110},{"c":2,"m":1,"s":27,"x":205,"y":1170},{"c":2,"m":1,"s":27,"x":208,"y":1240},{"c":2,"m":1,"s":27,"x":211,"y":1300},{"c":2,"m":1,"s":27,"x":214,"y":1370},
{"c":2,"m":1,"s":28,"x":204,"y":1100},{"c":2,"m":1,"s":28,"x":207,"y":1160},{"c":2,"m":1,"s":28,"x":210,"y":1230},{"c":2,"m":1,"s":28,"x":213,"y":1300},{"c":2,"m":1,"s":28,"x":216,"y":1380},{"c":2,"m":1,"s":28,"x":219,"y":1460},{"c":2,"m":1,"s":28,"x":222,"y":1550},{"c":2,"m":1,"s":28,"x":225,"y":1640},{"c":2,"m":1,"s":28,"x":228,"y":1730},
{"c":2,"m":1,"s":29,"x":181,"y":1000},{"c":2,"m":1,"s":29,"x":183,"y":1020},{"c":2,"m":1,"s":29,"x":185,"y":1050},{"c":2,"m":1,"s":29,"x":187,"y":1080},{"c":2,"m":1,"s":29,"x":189,"y":1110},{"c":2,"m":1,"s":29,"x":191,"y":1150},
{"c":2,"m":2,"s":1,"x":182.3,"y":33},{"c":2,"m":2,"s":1,"x":190,"y":35},{"c":2,"m":2,"s":1,"x":198,"y":37},{"c":2,"m":2,"s":1,"x":206,"y":38},{"c":2,"m":2,"s":1,"x":216.7,"y":42.4},{"c":2,"m":2,"s":1,"x":224.6,"y":44},{"c":2,"m":2,"s":1,"x":235.5,"y":44},{"c":2,"m":2,"s":1,"x":245,"y":45.8},{"c":2,"m":2,"s":1,"x":256,"y":47},{"c":2,"m":2,"s":1,"x":265,"y":48},{"c":2,"m":2,"s":1,"x":271.6,"y":49.4},
{"c":2,"m":2,"s":2,"x":183.9,"y":34},{"c":2,"m":2,"s":2,"x":191.7,"y":35.6},{"c":2,"m":2,"s":2,"x":199,"y":36.5},{"c":2,"m":2,"s":2,"x":207,"y":38},{"c":2,"m":2,"s":2,"x":215,"y":40},{"c":2,"m":2,"s":2,"x":222,"y":41},{"c":2,"m":2,"s":2,"x":230,"y":42},{"c":2,"m":2,"s":2,"x":238,"y":43},{"c":2,"m":2,"s":2,"x":247,"y":44},{"c":2,"m":2,"s":2,"x":256,"y":45},{"c":2,"m":2,"s":2,"x":263,"y":46},{"c":2,"m":2,"s":2,"x":270,"y":48.9},{"c":2,"m":2,"s":2,"x":277.2,"y":58.9},{"c":2,"m":2,"s":2,"x":281,"y":50},
{"c":2,"m":2,"s":3,"x":184.5,"y":31},{"c":2,"m":2,"s":3,"x":190.1,"y":32},{"c":2,"m":2,"s":3,"x":197,"y":33},{"c":2,"m":2,"s":3,"x":204.2,"y":34.6},{"c":2,"m":2,"s":3,"x":213.6,"y":35},{"c":2,"m":2,"s":3,"x":220,"y":37},{"c":2,"m":2,"s":3,"x":226.1,"y":37},{"c":2,"m":2,"s":3,"x":232,"y":38},{"c":2,"m":2,"s":3,"x":238.7,"y":38},{"c":2,"m":2,"s":3,"x":245,"y":40},{"c":2,"m":2,"s":3,"x":252.8,"y":40},{"c":2,"m":2,"s":3,"x":259,"y":39.9},{"c":2,"m":2,"s":3,"x":264,"y":42},{"c":2,"m":2,"s":3,"x":271,"y":45},{"c":2,"m":2,"s":3,"x":278,"y":46},{"c":2,"m":2,"s":3,"x":285.7,"y":47.9},
{"c":2,"m":2,"s":4,"x":185.4,"y":36},{"c":2,"m":2,"s":4,"x":190.1,"y":37.9},{"c":2,"m":2,"s":4,"x":198,"y":37},{"c":2,"m":2,"s":4,"x":206,"y":38.5},{"c":2,"m":2,"s":4,"x":214,"y":40},{"c":2,"m":2,"s":4,"x":222,"y":41.5},{"c":2,"m":2,"s":4,"x":230,"y":43},{"c":2,"m":2,"s":4,"x":238,"y":43.5},{"c":2,"m":2,"s":4,"x":246,"y":44},{"c":2,"m":2,"s":4,"x":255,"y":45},{"c":2,"m":2,"s":4,"x":263,"y":47},{"c":2,"m":2,"s":4,"x":271,"y":48.5},{"c":2,"m":2,"s":4,"x":279.4,"y":50.5},{"c":2,"m":2,"s":4,"x":287.8,"y":51.9},
{"c":2,"m":2,"s":5,"x":182,"y":34},{"c":2,"m":2,"s":5,"x":188,"y":35},{"c":2,"m":2,"s":5,"x":195,"y":36},{"c":2,"m":2,"s":5,"x":203,"y":37},{"c":2,"m":2,"s":5,"x":211,"y":38.5},{"c":2,"m":2,"s":5,"x":219,"y":40},{"c":2,"m":2,"s":5,"x":227,"y":41.5},{"c":2,"m":2,"s":5,"x":235,"y":42.5},{"c":2,"m":2,"s":5,"x":243,"y":43},{"c":2,"m":2,"s":5,"x":251,"y":44.5},{"c":2,"m":2,"s":5,"x":259,"y":46},{"c":2,"m":2,"s":5,"x":267,"y":47},{"c":2,"m":2,"s":5,"x":275,"y":49},{"c":2,"m":2,"s":5,"x":287.2,"y":49.9},
{"c":2,"m":2,"s":6,"x":183,"y":32},{"c":2,"m":2,"s":6,"x":189,"y":33},{"c":2,"m":2,"s":6,"x":196,"y":35},{"c":2,"m":2,"s":6,"x":204,"y":36},{"c":2,"m":2,"s":6,"x":212,"y":37.5},{"c":2,"m":2,"s":6,"x":220,"y":39},{"c":2,"m":2,"s":6,"x":228,"y":40},{"c":2,"m":2,"s":6,"x":236,"y":41.5},{"c":2,"m":2,"s":6,"x":244,"y":43},{"c":2,"m":2,"s":6,"x":252,"y":44},{"c":2,"m":2,"s":6,"x":260,"y":45.5},{"c":2,"m":2,"s":6,"x":268,"y":47},{"c":2,"m":2,"s":6,"x":277.8,"y":51},{"c":2,"m":2,"s":6,"x":287.8,"y":51.4},
{"c":2,"m":2,"s":7,"x":186,"y":33},{"c":2,"m":2,"s":7,"x":193,"y":34.5},{"c":2,"m":2,"s":7,"x":200,"y":35.5},{"c":2,"m":2,"s":7,"x":208,"y":37},{"c":2,"m":2,"s":7,"x":216,"y":38},{"c":2,"m":2,"s":7,"x":224,"y":39.5},{"c":2,"m":2,"s":7,"x":232,"y":41},{"c":2,"m":2,"s":7,"x":240,"y":42.5},{"c":2,"m":2,"s":7,"x":248,"y":43.5},{"c":2,"m":2,"s":7,"x":257,"y":44},{"c":2,"m":2,"s":7,"x":266,"y":46},{"c":2,"m":2,"s":7,"x":276,"y":48},{"c":2,"m":2,"s":7,"x":284,"y":48},
{"c":2,"m":2,"s":8,"x":187,"y":34.5},{"c":2,"m":2,"s":8,"x":194,"y":36},{"c":2,"m":2,"s":8,"x":201,"y":37},{"c":2,"m":2,"s":8,"x":209,"y":39},{"c":2,"m":2,"s":8,"x":217,"y":40.5},{"c":2,"m":2,"s":8,"x":225,"y":42},{"c":2,"m":2,"s":8,"x":233,"y":43},{"c":2,"m":2,"s":8,"x":241,"y":43},{"c":2,"m":2,"s":8,"x":249,"y":43.5},{"c":2,"m":2,"s":8,"x":258,"y":45},{"c":2,"m":2,"s":8,"x":267,"y":46},{"c":2,"m":2,"s":8,"x":276,"y":47},{"c":2,"m":2,"s":8,"x":286,"y":48},
{"c":2,"m":2,"s":9,"x":181,"y":32},{"c":2,"m":2,"s":9,"x":185,"y":33},{"c":2,"m":2,"s":9,"x":190,"y":34},{"c":2,"m":2,"s":9,"x":196,"y":35},{"c":2,"m":2,"s":9,"x":203,"y":36},{"c":2,"m":2,"s":9,"x":210,"y":37},{"c":2,"m":2,"s":9,"x":217,"y":38},{"c":2,"m":2,"s":9,"x":224,"y":40},{"c":2,"m":2,"s":9,"x":231,"y":41},{"c":2,"m":2,"s":9,"x":238,"y":42},{"c":2,"m":2,"s":9,"x":245,"y":43},{"c":2,"m":2,"s":9,"x":252,"y":44},{"c":2,"m":2,"s":9,"x":259,"y":45},{"c":2,"m":2,"s":9,"x":266,"y":46},{"c":2,"m":2,"s":9,"x":273,"y":47},{"c":2,"m":2,"s":9,"x":280,"y":48},
{"c":2,"m":2,"s":10,"x":184,"y":35},{"c":2,"m":2,"s":10,"x":188,"y":36},{"c":2,"m":2,"s":10,"x":194,"y":37},{"c":2,"m":2,"s":10,"x":200,"y":37},{"c":2,"m":2,"s":10,"x":207,"y":38},{"c":2,"m":2,"s":10,"x":214,"y":39},{"c":2,"m":2,"s":10,"x":221,"y":41},{"c":2,"m":2,"s":10,"x":228,"y":42},{"c":2,"m":2,"s":10,"x":235,"y":43},{"c":2,"m":2,"s":10,"x":242,"y":44},{"c":2,"m":2,"s":10,"x":249,"y":45},{"c":2,"m":2,"s":10,"x":256,"y":46},{"c":2,"m":2,"s":10,"x":263,"y":47},{"c":2,"m":2,"s":10,"x":270,"y":48},{"c":2,"m":2,"s":10,"x":277,"y":49},{"c":2,"m":2,"s":10,"x":285,"y":50},
{"c":2,"m":2,"s":11,"x":187,"y":33},{"c":2,"m":2,"s":11,"x":192,"y":34},{"c":2,"m":2,"s":11,"x":198,"y":34},{"c":2,"m":2,"s":11,"x":205,"y":35},{"c":2,"m":2,"s":11,"x":212,"y":36},{"c":2,"m":2,"s":11,"x":219,"y":37},{"c":2,"m":2,"s":11,"x":226,"y":38},{"c":2,"m":2,"s":11,"x":233,"y":39},{"c":2,"m":2,"s":11,"x":240,"y":40},{"c":2,"m":2,"s":11,"x":247,"y":41},{"c":2,"m":2,"s":11,"x":254,"y":43},{"c":2,"m":2,"s":11,"x":261,"y":44},{"c":2,"m":2,"s":11,"x":268,"y":45},{"c":2,"m":2,"s":11,"x":275,"y":46},{"c":2,"m":2,"s":11,"x":283,"y":47},
{"c":2,"m":3,"s":1,"x":190.1,"y":33.5},{"c":2,"m":3,"s":1,"x":197,"y":27.7},{"c":2,"m":3,"s":1,"x":205,"y":28},{"c":2,"m":3,"s":1,"x":210.5,"y":28.6},{"c":2,"m":3,"s":1,"x":216.7,"y":30},{"c":2,"m":3,"s":1,"x":223,"y":32.1},{"c":2,"m":3,"s":1,"x":234,"y":32.9},{"c":2,"m":3,"s":1,"x":245,"y":33.4},{"c":2,"m":3,"s":1,"x":254,"y":34},{"c":2,"m":3,"s":1,"x":265.3,"y":35.1},{"c":2,"m":3,"s":1,"x":275.6,"y":40.5},{"c":2,"m":3,"s":1,"x":281.6,"y":36.5},{"c":2,"m":3,"s":1,"x":287.8,"y":36.8},
{"c":2,"m":3,"s":2,"x":182.3,"y":22.3},{"c":2,"m":3,"s":2,"x":188,"y":23},{"c":2,"m":3,"s":2,"x":194,"y":24},{"c":2,"m":3,"s":2,"x":200,"y":25},{"c":2,"m":3,"s":2,"x":206,"y":26},{"c":2,"m":3,"s":2,"x":212,"y":27},{"c":2,"m":3,"s":2,"x":218,"y":28},{"c":2,"m":3,"s":2,"x":224,"y":29},{"c":2,"m":3,"s":2,"x":230,"y":30},{"c":2,"m":3,"s":2,"x":236,"y":31},{"c":2,"m":3,"s":2,"x":242,"y":32},{"c":2,"m":3,"s":2,"x":248,"y":33},{"c":2,"m":3,"s":2,"x":256,"y":34},{"c":2,"m":3,"s":2,"x":264,"y":35},{"c":2,"m":3,"s":2,"x":272,"y":35.5},{"c":2,"m":3,"s":2,"x":280,"y":35.5},{"c":2,"m":3,"s":2,"x":287.8,"y":35},
{"c":2,"m":3,"s":3,"x":184.5,"y":21.8},{"c":2,"m":3,"s":3,"x":189.5,"y":22},{"c":2,"m":3,"s":3,"x":195,"y":23},{"c":2,"m":3,"s":3,"x":201,"y":24.5},{"c":2,"m":3,"s":3,"x":207,"y":25.5},{"c":2,"m":3,"s":3,"x":213,"y":26.5},{"c":2,"m":3,"s":3,"x":219.9,"y":24},{"c":2,"m":3,"s":3,"x":221,"y":27.5},{"c":2,"m":3,"s":3,"x":227,"y":28.5},{"c":2,"m":3,"s":3,"x":233,"y":29.5},{"c":2,"m":3,"s":3,"x":239,"y":30.5},{"c":2,"m":3,"s":3,"x":245,"y":31.5},{"c":2,"m":3,"s":3,"x":251,"y":32.5},{"c":2,"m":3,"s":3,"x":258,"y":33.5},{"c":2,"m":3,"s":3,"x":266,"y":34},{"c":2,"m":3,"s":3,"x":274,"y":34.5},{"c":2,"m":3,"s":3,"x":282,"y":34.5},{"c":2,"m":3,"s":3,"x":287.8,"y":34},
{"c":2,"m":3,"s":4,"x":182.3,"y":25},{"c":2,"m":3,"s":4,"x":186,"y":25},{"c":2,"m":3,"s":4,"x":191.7,"y":27},{"c":2,"m":3,"s":4,"x":196,"y":26.5},{"c":2,"m":3,"s":4,"x":202,"y":27},{"c":2,"m":3,"s":4,"x":208,"y":27.5},{"c":2,"m":3,"s":4,"x":214,"y":28.5},{"c":2,"m":3,"s":4,"x":220,"y":29.5},{"c":2,"m":3,"s":4,"x":226,"y":30.5},{"c":2,"m":3,"s":4,"x":232,"y":31.5},{"c":2,"m":3,"s":4,"x":238,"y":32},{"c":2,"m":3,"s":4,"x":244,"y":32.5},{"c":2,"m":3,"s":4,"x":250,"y":33.5},{"c":2,"m":3,"s":4,"x":256,"y":34},{"c":2,"m":3,"s":4,"x":262,"y":35},{"c":2,"m":3,"s":4,"x":270,"y":35.5},{"c":2,"m":3,"s":4,"x":278,"y":36},{"c":2,"m":3,"s":4,"x":286,"y":36},
{"c":2,"m":3,"s":5,"x":183,"y":24},{"c":2,"m":3,"s":5,"x":189,"y":24.5},{"c":2,"m":3,"s":5,"x":195,"y":25},{"c":2,"m":3,"s":5,"x":201,"y":25.5},{"c":2,"m":3,"s":5,"x":207,"y":26.5},{"c":2,"m":3,"s":5,"x":213,"y":27.5},{"c":2,"m":3,"s":5,"x":219,"y":28},{"c":2,"m":3,"s":5,"x":225,"y":29.5},{"c":2,"m":3,"s":5,"x":231,"y":30.5},{"c":2,"m":3,"s":5,"x":237,"y":31},{"c":2,"m":3,"s":5,"x":243,"y":32},{"c":2,"m":3,"s":5,"x":249,"y":32.5},{"c":2,"m":3,"s":5,"x":255,"y":33},{"c":2,"m":3,"s":5,"x":261,"y":34},{"c":2,"m":3,"s":5,"x":267,"y":35},{"c":2,"m":3,"s":5,"x":273,"y":36},{"c":2,"m":3,"s":5,"x":280,"y":36.5},{"c":2,"m":3,"s":5,"x":288,"y":36.5},
{"c":2,"m":3,"s":6,"x":185,"y":23},{"c":2,"m":3,"s":6,"x":190,"y":23.5},{"c":2,"m":3,"s":6,"x":196,"y":24},{"c":2,"m":3,"s":6,"x":202,"y":25},{"c":2,"m":3,"s":6,"x":208,"y":26},{"c":2,"m":3,"s":6,"x":214,"y":27},{"c":2,"m":3,"s":6,"x":220,"y":28.5},{"c":2,"m":3,"s":6,"x":226,"y":29},{"c":2,"m":3,"s":6,"x":232,"y":30},{"c":2,"m":3,"s":6,"x":238,"y":31},{"c":2,"m":3,"s":6,"x":244,"y":31.5},{"c":2,"m":3,"s":6,"x":250,"y":32},{"c":2,"m":3,"s":6,"x":256,"y":33},{"c":2,"m":3,"s":6,"x":262,"y":33.5},{"c":2,"m":3,"s":6,"x":268,"y":34},{"c":2,"m":3,"s":6,"x":276,"y":34},{"c":2,"m":3,"s":6,"x":284,"y":35},
{"c":2,"m":3,"s":7,"x":187,"y":24.5},{"c":2,"m":3,"s":7,"x":193,"y":25},{"c":2,"m":3,"s":7,"x":199,"y":25.5},{"c":2,"m":3,"s":7,"x":205,"y":26.5},{"c":2,"m":3,"s":7,"x":211,"y":27},{"c":2,"m":3,"s":7,"x":217,"y":28},{"c":2,"m":3,"s":7,"x":223,"y":29},{"c":2,"m":3,"s":7,"x":229,"y":30},{"c":2,"m":3,"s":7,"x":235,"y":30.5},{"c":2,"m":3,"s":7,"x":241,"y":31},{"c":2,"m":3,"s":7,"x":247,"y":31.5},{"c":2,"m":3,"s":7,"x":253,"y":32.5},{"c":2,"m":3,"s":7,"x":259,"y":33},{"c":2,"m":3,"s":7,"x":265,"y":34},{"c":2,"m":3,"s":7,"x":271,"y":35},{"c":2,"m":3,"s":7,"x":279,"y":35.5},{"c":2,"m":3,"s":7,"x":286,"y":35.5},
{"c":2,"m":3,"s":8,"x":181,"y":23},{"c":2,"m":3,"s":8,"x":186,"y":24},{"c":2,"m":3,"s":8,"x":192,"y":25},{"c":2,"m":3,"s":8,"x":198,"y":26},{"c":2,"m":3,"s":8,"x":204,"y":27},{"c":2,"m":3,"s":8,"x":210,"y":28},{"c":2,"m":3,"s":8,"x":216,"y":29},{"c":2,"m":3,"s":8,"x":222,"y":30},{"c":2,"m":3,"s":8,"x":228,"y":31},{"c":2,"m":3,"s":8,"x":234,"y":31.5},{"c":2,"m":3,"s":8,"x":240,"y":32},{"c":2,"m":3,"s":8,"x":246,"y":33},{"c":2,"m":3,"s":8,"x":252,"y":33.5},{"c":2,"m":3,"s":8,"x":258,"y":34},{"c":2,"m":3,"s":8,"x":264,"y":34.5},{"c":2,"m":3,"s":8,"x":270,"y":35},{"c":2,"m":3,"s":8,"x":276,"y":35.5},{"c":2,"m":3,"s":8,"x":283,"y":36},
{"c":2,"m":3,"s":9,"x":183,"y":22},{"c":2,"m":3,"s":9,"x":188,"y":23},{"c":2,"m":3,"s":9,"x":194,"y":23.5},{"c":2,"m":3,"s":9,"x":200,"y":24.5},{"c":2,"m":3,"s":9,"x":206,"y":25.5},{"c":2,"m":3,"s":9,"x":212,"y":26.5},{"c":2,"m":3,"s":9,"x":218,"y":27},{"c":2,"m":3,"s":9,"x":224,"y":28},{"c":2,"m":3,"s":9,"x":230,"y":29},{"c":2,"m":3,"s":9,"x":236,"y":30},{"c":2,"m":3,"s":9,"x":242,"y":31},{"c":2,"m":3,"s":9,"x":248,"y":32},{"c":2,"m":3,"s":9,"x":254,"y":33},{"c":2,"m":3,"s":9,"x":260,"y":33.5},{"c":2,"m":3,"s":9,"x":266,"y":34},{"c":2,"m":3,"s":9,"x":272,"y":34.5},{"c":2,"m":3,"s":9,"x":280,"y":35},
{"c":2,"m":3,"s":10,"x":185,"y":25},{"c":2,"m":3,"s":10,"x":191,"y":25.5},{"c":2,"m":3,"s":10,"x":197,"y":26},{"c":2,"m":3,"s":10,"x":203,"y":26.5},{"c":2,"m":3,"s":10,"x":209,"y":27.5},{"c":2,"m":3,"s":10,"x":215,"y":28.5},{"c":2,"m":3,"s":10,"x":221,"y":29.5},{"c":2,"m":3,"s":10,"x":227,"y":30.5},{"c":2,"m":3,"s":10,"x":233,"y":31},{"c":2,"m":3,"s":10,"x":239,"y":32},{"c":2,"m":3,"s":10,"x":245,"y":33},{"c":2,"m":3,"s":10,"x":251,"y":33.5},{"c":2,"m":3,"s":10,"x":257,"y":34.5},{"c":2,"m":3,"s":10,"x":263,"y":35},{"c":2,"m":3,"s":10,"x":269,"y":35.5},{"c":2,"m":3,"s":10,"x":275,"y":36},{"c":2,"m":3,"s":10,"x":282,"y":36.5},
{"c":3,"m":1,"s":1,"x":189.5,"y":609},{"c":3,"m":1,"s":1,"x":194,"y":550},{"c":3,"m":1,"s":1,"x":199,"y":640},{"c":3,"m":1,"s":1,"x":205,"y":760},{"c":3,"m":1,"s":1,"x":211,"y":900},{"c":3,"m":1,"s":1,"x":217,"y":1060},{"c":3,"m":1,"s":1,"x":223,"y":1240},{"c":3,"m":1,"s":1,"x":229,"y":1440},{"c":3,"m":1,"s":1,"x":235,"y":1650},{"c":3,"m":1,"s":1,"x":241,"y":1870},{"c":3,"m":1,"s":1,"x":247,"y":2100},{"c":3,"m":1,"s":1,"x":253,"y":2330},{"c":3,"m":1,"s":1,"x":259,"y":2560},{"c":3,"m":1,"s":1,"x":265,"y":2800},{"c":3,"m":1,"s":1,"x":270,"y":3000},{"c":3,"m":1,"s":1,"x":275,"y":3200},{"c":3,"m":1,"s":1,"x":280,"y":3400},{"c":3,"m":1,"s":1,"x":284.7,"y":3643},{"c":3,"m":1,"s":1,"x":290.1,"y":3803},
{"c":3,"m":1,"s":2,"x":191,"y":817},{"c":3,"m":1,"s":2,"x":196,"y":900},{"c":3,"m":1,"s":2,"x":201,"y":1000},{"c":3,"m":1,"s":2,"x":206.5,"y":1111},{"c":3,"m":1,"s":2,"x":211.2,"y":1319},{"c":3,"m":1,"s":2,"x":216,"y":1450},{"c":3,"m":1,"s":2,"x":221,"y":1600},{"c":3,"m":1,"s":2,"x":226,"y":1780},{"c":3,"m":1,"s":2,"x":231,"y":1960},{"c":3,"m":1,"s":2,"x":236,"y":2150},{"c":3,"m":1,"s":2,"x":241,"y":2340},{"c":3,"m":1,"s":2,"x":246,"y":2520},{"c":3,"m":1,"s":2,"x":251,"y":2600},{"c":3,"m":1,"s":2,"x":256,"y":2750},{"c":3,"m":1,"s":2,"x":261,"y":2900},{"c":3,"m":1,"s":2,"x":266,"y":3050},{"c":3,"m":1,"s":2,"x":271,"y":3200},{"c":3,"m":1,"s":2,"x":276,"y":3300},{"c":3,"m":1,"s":2,"x":282.3,"y":3460},{"c":3,"m":1,"s":2,"x":288.5,"y":3582},
{"c":3,"m":1,"s":3,"x":215,"y":609},{"c":3,"m":1,"s":3,"x":218.9,"y":670},{"c":3,"m":1,"s":3,"x":223.5,"y":768},{"c":3,"m":1,"s":3,"x":228.2,"y":890},{"c":3,"m":1,"s":3,"x":232.8,"y":988},{"c":3,"m":1,"s":3,"x":237.5,"y":1111},{"c":3,"m":1,"s":3,"x":242.1,"y":1258},{"c":3,"m":1,"s":3,"x":246.7,"y":1356},{"c":3,"m":1,"s":3,"x":251.4,"y":1502},{"c":3,"m":1,"s":3,"x":254.5,"y":1600},{"c":3,"m":1,"s":3,"x":259.1,"y":1747},{"c":3,"m":1,"s":3,"x":262.2,"y":1845},{"c":3,"m":1,"s":3,"x":266.9,"y":1992},{"c":3,"m":1,"s":3,"x":271.5,"y":2065},{"c":3,"m":1,"s":3,"x":276,"y":2050},{"c":3,"m":1,"s":3,"x":280.8,"y":2041},{"c":3,"m":1,"s":3,"x":285,"y":2100},{"c":3,"m":1,"s":3,"x":289.3,"y":2138},
{"c":3,"m":1,"s":4,"x":217,"y":640},{"c":3,"m":1,"s":4,"x":221,"y":720},{"c":3,"m":1,"s":4,"x":226,"y":850},{"c":3,"m":1,"s":4,"x":231,"y":1000},{"c":3,"m":1,"s":4,"x":236,"y":1150},{"c":3,"m":1,"s":4,"x":241,"y":1300},{"c":3,"m":1,"s":4,"x":246,"y":1450},{"c":3,"m":1,"s":4,"x":251,"y":1600},{"c":3,"m":1,"s":4,"x":256,"y":1750},{"c":3,"m":1,"s":4,"x":261,"y":1880},{"c":3,"m":1,"s":4,"x":266,"y":2000},{"c":3,"m":1,"s":4,"x":271,"y":2100},{"c":3,"m":1,"s":4,"x":276,"y":2180},{"c":3,"m":1,"s":4,"x":281,"y":2230},{"c":3,"m":1,"s":4,"x":288.5,"y":2261},
{"c":3,"m":1,"s":5,"x":195,"y":980},{"c":3,"m":1,"s":5,"x":200,"y":1050},{"c":3,"m":1,"s":5,"x":205,"y":1150},{"c":3,"m":1,"s":5,"x":210,"y":1260},{"c":3,"m":1,"s":5,"x":215,"y":1400},{"c":3,"m":1,"s":5,"x":220,"y":1560},{"c":3,"m":1,"s":5,"x":225,"y":1730},{"c":3,"m":1,"s":5,"x":230,"y":1900},{"c":3,"m":1,"s":5,"x":235,"y":2080},{"c":3,"m":1,"s":5,"x":240,"y":2250},{"c":3,"m":1,"s":5,"x":245,"y":2420},{"c":3,"m":1,"s":5,"x":250,"y":2580},{"c":3,"m":1,"s":5,"x":255,"y":2700},{"c":3,"m":1,"s":5,"x":260,"y":2850},{"c":3,"m":1,"s":5,"x":263.8,"y":2836},{"c":3,"m":1,"s":5,"x":268.4,"y":2983},{"c":3,"m":1,"s":5,"x":273,"y":3100},{"c":3,"m":1,"s":5,"x":278,"y":3200},{"c":3,"m":1,"s":5,"x":282,"y":3250},{"c":3,"m":1,"s":5,"x":289.3,"y":3411},
{"c":3,"m":1,"s":6,"x":198,"y":1200},{"c":3,"m":1,"s":6,"x":202,"y":1250},{"c":3,"m":1,"s":6,"x":207,"y":1350},{"c":3,"m":1,"s":6,"x":212,"y":1480},{"c":3,"m":1,"s":6,"x":217,"y":1620},{"c":3,"m":1,"s":6,"x":222,"y":1780},{"c":3,"m":1,"s":6,"x":227,"y":1950},{"c":3,"m":1,"s":6,"x":232,"y":2130},{"c":3,"m":1,"s":6,"x":237,"y":2300},{"c":3,"m":1,"s":6,"x":242,"y":2480},{"c":3,"m":1,"s":6,"x":247,"y":2650},{"c":3,"m":1,"s":6,"x":252,"y":2800},{"c":3,"m":1,"s":6,"x":257,"y":2950},{"c":3,"m":1,"s":6,"x":262,"y":3100},{"c":3,"m":1,"s":6,"x":267,"y":3250},{"c":3,"m":1,"s":6,"x":272,"y":3400},{"c":3,"m":1,"s":6,"x":277,"y":3500},{"c":3,"m":1,"s":6,"x":282,"y":3560},{"c":3,"m":1,"s":6,"x":287,"y":3600},
{"c":3,"m":1,"s":7,"x":200,"y":700},{"c":3,"m":1,"s":7,"x":205,"y":800},{"c":3,"m":1,"s":7,"x":210,"y":920},{"c":3,"m":1,"s":7,"x":215,"y":1050},{"c":3,"m":1,"s":7,"x":220,"y":1200},{"c":3,"m":1,"s":7,"x":225,"y":1350},{"c":3,"m":1,"s":7,"x":230,"y":1500},{"c":3,"m":1,"s":7,"x":235,"y":1660},{"c":3,"m":1,"s":7,"x":240,"y":1820},{"c":3,"m":1,"s":7,"x":245,"y":1980},{"c":3,"m":1,"s":7,"x":250,"y":2150},{"c":3,"m":1,"s":7,"x":255,"y":2300},{"c":3,"m":1,"s":7,"x":260,"y":2450},{"c":3,"m":1,"s":7,"x":265,"y":2600},{"c":3,"m":1,"s":7,"x":270,"y":2700},{"c":3,"m":1,"s":7,"x":275,"y":2750},{"c":3,"m":1,"s":7,"x":280,"y":2820},{"c":3,"m":1,"s":7,"x":285,"y":2900},
{"c":3,"m":1,"s":8,"x":222,"y":900},{"c":3,"m":1,"s":8,"x":228,"y":1050},{"c":3,"m":1,"s":8,"x":234,"y":1220},{"c":3,"m":1,"s":8,"x":240,"y":1400},{"c":3,"m":1,"s":8,"x":248,"y":1700},{"c":3,"m":1,"s":8,"x":254,"y":1900},{"c":3,"m":1,"s":8,"x":260,"y":2050},{"c":3,"m":1,"s":8,"x":265,"y":2150},{"c":3,"m":1,"s":8,"x":269.9,"y":2188},{"c":3,"m":1,"s":8,"x":275,"y":2300},{"c":3,"m":1,"s":8,"x":280.8,"y":2334},{"c":3,"m":1,"s":8,"x":282.3,"y":2518},{"c":3,"m":1,"s":8,"x":286,"y":2600},
{"c":3,"m":1,"s":9,"x":203,"y":900},{"c":3,"m":1,"s":9,"x":207,"y":1000},{"c":3,"m":1,"s":9,"x":211,"y":1050},{"c":3,"m":1,"s":9,"x":215,"y":1150},{"c":3,"m":1,"s":9,"x":219,"y":1250},{"c":3,"m":1,"s":9,"x":224,"y":1380},
{"c":3,"m":1,"s":10,"x":210,"y":1100},{"c":3,"m":1,"s":10,"x":214,"y":1250},{"c":3,"m":1,"s":10,"x":218,"y":1350},{"c":3,"m":1,"s":10,"x":223,"y":1500},{"c":3,"m":1,"s":10,"x":228,"y":1650},{"c":3,"m":1,"s":10,"x":233,"y":1800},{"c":3,"m":1,"s":10,"x":238,"y":1950},{"c":3,"m":1,"s":10,"x":243,"y":2150},{"c":3,"m":1,"s":10,"x":248,"y":2300},{"c":3,"m":1,"s":10,"x":253,"y":2500},{"c":3,"m":1,"s":10,"x":258,"y":2650},{"c":3,"m":1,"s":10,"x":263,"y":2800},{"c":3,"m":1,"s":10,"x":268,"y":2950},{"c":3,"m":1,"s":10,"x":273,"y":3100},{"c":3,"m":1,"s":10,"x":278,"y":3250},{"c":3,"m":1,"s":10,"x":283,"y":3350},
{"c":3,"m":1,"s":11,"x":205,"y":950},{"c":3,"m":1,"s":11,"x":208,"y":1020},{"c":3,"m":1,"s":11,"x":211,"y":1100},{"c":3,"m":1,"s":11,"x":214,"y":1180},{"c":3,"m":1,"s":11,"x":217,"y":1260},{"c":3,"m":1,"s":11,"x":220,"y":1350},{"c":3,"m":1,"s":11,"x":223,"y":1440},{"c":3,"m":1,"s":11,"x":226,"y":1540},{"c":3,"m":1,"s":11,"x":229,"y":1640},{"c":3,"m":1,"s":11,"x":232,"y":1740},{"c":3,"m":1,"s":11,"x":235,"y":1850},{"c":3,"m":1,"s":11,"x":238,"y":1960},{"c":3,"m":1,"s":11,"x":241,"y":2070},{"c":3,"m":1,"s":11,"x":244,"y":2180},{"c":3,"m":1,"s":11,"x":247,"y":2290},{"c":3,"m":1,"s":11,"x":250,"y":2400},
{"c":3,"m":1,"s":12,"x":208,"y":1250},{"c":3,"m":1,"s":12,"x":211,"y":1330},{"c":3,"m":1,"s":12,"x":214,"y":1410},{"c":3,"m":1,"s":12,"x":217,"y":1500},{"c":3,"m":1,"s":12,"x":220,"y":1590},{"c":3,"m":1,"s":12,"x":223,"y":1690},{"c":3,"m":1,"s":12,"x":226,"y":1790},{"c":3,"m":1,"s":12,"x":229,"y":1890},{"c":3,"m":1,"s":12,"x":232,"y":2000},{"c":3,"m":1,"s":12,"x":235,"y":2110},{"c":3,"m":1,"s":12,"x":238,"y":2220},{"c":3,"m":1,"s":12,"x":241,"y":2330},{"c":3,"m":1,"s":12,"x":244,"y":2440},
{"c":3,"m":1,"s":13,"x":196,"y":600},{"c":3,"m":1,"s":13,"x":200,"y":650},{"c":3,"m":1,"s":13,"x":204,"y":700},{"c":3,"m":1,"s":13,"x":208,"y":780},{"c":3,"m":1,"s":13,"x":212,"y":860},{"c":3,"m":1,"s":13,"x":216,"y":950},{"c":3,"m":1,"s":13,"x":220,"y":1050},{"c":3,"m":1,"s":13,"x":224,"y":1150},{"c":3,"m":1,"s":13,"x":228,"y":1260},{"c":3,"m":1,"s":13,"x":232,"y":1370},{"c":3,"m":1,"s":13,"x":236,"y":1480},{"c":3,"m":1,"s":13,"x":240,"y":1600},{"c":3,"m":1,"s":13,"x":244,"y":1720},{"c":3,"m":1,"s":13,"x":248,"y":1840},
{"c":3,"m":1,"s":14,"x":225,"y":1150},{"c":3,"m":1,"s":14,"x":228,"y":1230},{"c":3,"m":1,"s":14,"x":231,"y":1320},{"c":3,"m":1,"s":14,"x":234,"y":1410},{"c":3,"m":1,"s":14,"x":237,"y":1500},{"c":3,"m":1,"s":14,"x":240,"y":1600},{"c":3,"m":1,"s":14,"x":243,"y":1700},{"c":3,"m":1,"s":14,"x":246,"y":1800},{"c":3,"m":1,"s":14,"x":249,"y":1910},{"c":3,"m":1,"s":14,"x":252,"y":2020},{"c":3,"m":1,"s":14,"x":255,"y":2130},{"c":3,"m":1,"s":14,"x":258,"y":2240},{"c":3,"m":1,"s":14,"x":261,"y":2350},{"c":3,"m":1,"s":14,"x":264,"y":2460},
{"c":3,"m":1,"s":15,"x":193,"y":800},{"c":3,"m":1,"s":15,"x":196,"y":850},{"c":3,"m":1,"s":15,"x":199,"y":900},{"c":3,"m":1,"s":15,"x":202,"y":960},{"c":3,"m":1,"s":15,"x":205,"y":1030},
{"c":3,"m":1,"s":16,"x":190,"y":700},{"c":3,"m":1,"s":16,"x":193,"y":720},{"c":3,"m":1,"s":16,"x":196,"y":760},{"c":3,"m":1,"s":16,"x":199,"y":810},{"c":3,"m":1,"s":16,"x":202,"y":870},{"c":3,"m":1,"s":16,"x":205,"y":930},{"c":3,"m":1,"s":16,"x":208,"y":1000},
{"c":3,"m":1,"s":17,"x":212,"y":1200},{"c":3,"m":1,"s":17,"x":215,"y":1290},{"c":3,"m":1,"s":17,"x":218,"y":1380},{"c":3,"m":1,"s":17,"x":221,"y":1470},{"c":3,"m":1,"s":17,"x":224,"y":1570},{"c":3,"m":1,"s":17,"x":227,"y":1670},{"c":3,"m":1,"s":17,"x":230,"y":1770},{"c":3,"m":1,"s":17,"x":233,"y":1880},
{"c":3,"m":1,"s":18,"x":230,"y":1700},{"c":3,"m":1,"s":18,"x":233,"y":1800},{"c":3,"m":1,"s":18,"x":236,"y":1900},{"c":3,"m":1,"s":18,"x":239,"y":2010},{"c":3,"m":1,"s":18,"x":242,"y":2120},{"c":3,"m":1,"s":18,"x":245,"y":2230},{"c":3,"m":1,"s":18,"x":248,"y":2340},{"c":3,"m":1,"s":18,"x":251,"y":2450},{"c":3,"m":1,"s":18,"x":254,"y":2560},
{"c":3,"m":2,"s":1,"x":189.8,"y":33},{"c":3,"m":2,"s":1,"x":192,"y":33},{"c":3,"m":2,"s":1,"x":201.7,"y":35.4},{"c":3,"m":2,"s":1,"x":212.7,"y":37},{"c":3,"m":2,"s":1,"x":222,"y":38.5},{"c":3,"m":2,"s":1,"x":231,"y":40},{"c":3,"m":2,"s":1,"x":240,"y":42},{"c":3,"m":2,"s":1,"x":249,"y":43.5},{"c":3,"m":2,"s":1,"x":258,"y":45},{"c":3,"m":2,"s":1,"x":266,"y":46.5},{"c":3,"m":2,"s":1,"x":274,"y":48},{"c":3,"m":2,"s":1,"x":282,"y":49},{"c":3,"m":2,"s":1,"x":289.4,"y":49.8},
{"c":3,"m":2,"s":2,"x":196.4,"y":34},{"c":3,"m":2,"s":2,"x":206.4,"y":39},{"c":3,"m":2,"s":2,"x":219,"y":42},{"c":3,"m":2,"s":2,"x":231.5,"y":45.4},{"c":3,"m":2,"s":2,"x":240.8,"y":44.9},{"c":3,"m":2,"s":2,"x":250,"y":46},{"c":3,"m":2,"s":2,"x":258,"y":47.5},{"c":3,"m":2,"s":2,"x":264.4,"y":51},{"c":3,"m":2,"s":2,"x":272,"y":50},{"c":3,"m":2,"s":2,"x":281.6,"y":52},{"c":3,"m":2,"s":2,"x":286.3,"y":51},
{"c":3,"m":2,"s":3,"x":214.2,"y":30.6},{"c":3,"m":2,"s":3,"x":219.6,"y":29.5},{"c":3,"m":2,"s":3,"x":234,"y":33},{"c":3,"m":2,"s":3,"x":242.4,"y":34.9},{"c":3,"m":2,"s":3,"x":247,"y":35},{"c":3,"m":2,"s":3,"x":253.4,"y":36.4},{"c":3,"m":2,"s":3,"x":262,"y":38},{"c":3,"m":2,"s":3,"x":269,"y":39.5},{"c":3,"m":2,"s":3,"x":273.7,"y":40.4},{"c":3,"m":2,"s":3,"x":284.1,"y":41.5},
{"c":3,"m":2,"s":4,"x":199,"y":37},{"c":3,"m":2,"s":4,"x":205,"y":38},{"c":3,"m":2,"s":4,"x":212,"y":38.5},{"c":3,"m":2,"s":4,"x":220,"y":40},{"c":3,"m":2,"s":4,"x":228,"y":41},{"c":3,"m":2,"s":4,"x":236,"y":42.5},{"c":3,"m":2,"s":4,"x":244,"y":44},{"c":3,"m":2,"s":4,"x":252,"y":45},{"c":3,"m":2,"s":4,"x":260,"y":46},{"c":3,"m":2,"s":4,"x":268,"y":47.5},{"c":3,"m":2,"s":4,"x":276,"y":48},{"c":3,"m":2,"s":4,"x":285,"y":47},{"c":3,"m":2,"s":4,"x":290,"y":46.5},
{"c":3,"m":2,"s":5,"x":203,"y":36},{"c":3,"m":2,"s":5,"x":210,"y":37.5},{"c":3,"m":2,"s":5,"x":217,"y":38},{"c":3,"m":2,"s":5,"x":225,"y":39.5},{"c":3,"m":2,"s":5,"x":233,"y":41},{"c":3,"m":2,"s":5,"x":241,"y":42},{"c":3,"m":2,"s":5,"x":249,"y":43.5},{"c":3,"m":2,"s":5,"x":257,"y":44},{"c":3,"m":2,"s":5,"x":265,"y":45.5},{"c":3,"m":2,"s":5,"x":273,"y":46},{"c":3,"m":2,"s":5,"x":281,"y":46},{"c":3,"m":2,"s":5,"x":288.8,"y":43.5},
{"c":3,"m":2,"s":6,"x":208,"y":38},{"c":3,"m":2,"s":6,"x":214,"y":39},{"c":3,"m":2,"s":6,"x":221,"y":40},{"c":3,"m":2,"s":6,"x":229,"y":42},{"c":3,"m":2,"s":6,"x":237,"y":43},{"c":3,"m":2,"s":6,"x":245,"y":44},{"c":3,"m":2,"s":6,"x":253,"y":46},{"c":3,"m":2,"s":6,"x":261,"y":48},{"c":3,"m":2,"s":6,"x":269,"y":48.5},{"c":3,"m":2,"s":6,"x":277,"y":49},{"c":3,"m":2,"s":6,"x":285,"y":50.5},
{"c":3,"m":2,"s":7,"x":211,"y":35},{"c":3,"m":2,"s":7,"x":217,"y":36.5},{"c":3,"m":2,"s":7,"x":224,"y":38},{"c":3,"m":2,"s":7,"x":232,"y":39},{"c":3,"m":2,"s":7,"x":240,"y":40},{"c":3,"m":2,"s":7,"x":248,"y":41.5},{"c":3,"m":2,"s":7,"x":256,"y":43},{"c":3,"m":2,"s":7,"x":264,"y":44},{"c":3,"m":2,"s":7,"x":272,"y":45},{"c":3,"m":2,"s":7,"x":280,"y":46},{"c":3,"m":2,"s":7,"x":289,"y":45},
{"c":3,"m":2,"s":8,"x":200,"y":38},{"c":3,"m":2,"s":8,"x":206,"y":39},{"c":3,"m":2,"s":8,"x":213,"y":40.5},{"c":3,"m":2,"s":8,"x":221,"y":42},{"c":3,"m":2,"s":8,"x":229,"y":43},{"c":3,"m":2,"s":8,"x":237,"y":44},{"c":3,"m":2,"s":8,"x":245,"y":45},{"c":3,"m":2,"s":8,"x":253,"y":46},{"c":3,"m":2,"s":8,"x":261,"y":46},{"c":3,"m":2,"s":8,"x":269,"y":47},{"c":3,"m":2,"s":8,"x":278,"y":48},{"c":3,"m":2,"s":8,"x":288,"y":48},
{"c":3,"m":2,"s":9,"x":205,"y":36},{"c":3,"m":2,"s":9,"x":211,"y":37},{"c":3,"m":2,"s":9,"x":218,"y":39},{"c":3,"m":2,"s":9,"x":225,"y":40},{"c":3,"m":2,"s":9,"x":232,"y":42},{"c":3,"m":2,"s":9,"x":239,"y":43},{"c":3,"m":2,"s":9,"x":246,"y":44},{"c":3,"m":2,"s":9,"x":253,"y":45},{"c":3,"m":2,"s":9,"x":260,"y":46},{"c":3,"m":2,"s":9,"x":267,"y":47},{"c":3,"m":2,"s":9,"x":274,"y":48},{"c":3,"m":2,"s":9,"x":281,"y":48},{"c":3,"m":2,"s":9,"x":288,"y":49},
{"c":3,"m":2,"s":10,"x":213,"y":37},{"c":3,"m":2,"s":10,"x":219,"y":38},{"c":3,"m":2,"s":10,"x":226,"y":39},{"c":3,"m":2,"s":10,"x":233,"y":41},{"c":3,"m":2,"s":10,"x":240,"y":42},{"c":3,"m":2,"s":10,"x":247,"y":43},{"c":3,"m":2,"s":10,"x":254,"y":44},{"c":3,"m":2,"s":10,"x":261,"y":45},{"c":3,"m":2,"s":10,"x":268,"y":46},{"c":3,"m":2,"s":10,"x":275,"y":47},{"c":3,"m":2,"s":10,"x":283,"y":48},{"c":3,"m":2,"s":10,"x":290,"y":48},
{"c":3,"m":2,"s":11,"x":198,"y":35},{"c":3,"m":2,"s":11,"x":204,"y":36},{"c":3,"m":2,"s":11,"x":210,"y":37},{"c":3,"m":2,"s":11,"x":217,"y":38},{"c":3,"m":2,"s":11,"x":224,"y":40},{"c":3,"m":2,"s":11,"x":231,"y":41},{"c":3,"m":2,"s":11,"x":238,"y":43},{"c":3,"m":2,"s":11,"x":245,"y":44},{"c":3,"m":2,"s":11,"x":252,"y":45},{"c":3,"m":2,"s":11,"x":259,"y":46},{"c":3,"m":2,"s":11,"x":266,"y":47},{"c":3,"m":2,"s":11,"x":273,"y":48},{"c":3,"m":2,"s":11,"x":280,"y":49},
{"c":3,"m":3,"s":1,"x":189.8,"y":23.05},{"c":3,"m":3,"s":1,"x":196,"y":23.2},{"c":3,"m":3,"s":1,"x":201.7,"y":23.4},{"c":3,"m":3,"s":1,"x":208,"y":24.5},{"c":3,"m":3,"s":1,"x":214,"y":26},{"c":3,"m":3,"s":1,"x":220,"y":27.5},{"c":3,"m":3,"s":1,"x":226,"y":28.5},{"c":3,"m":3,"s":1,"x":232,"y":29.5},{"c":3,"m":3,"s":1,"x":239.3,"y":32.2},{"c":3,"m":3,"s":1,"x":245,"y":33},{"c":3,"m":3,"s":1,"x":251.9,"y":35.1},{"c":3,"m":3,"s":1,"x":259.7,"y":35.5},{"c":3,"m":3,"s":1,"x":266,"y":36},{"c":3,"m":3,"s":1,"x":274,"y":36},{"c":3,"m":3,"s":1,"x":284.7,"y":37},
{"c":3,"m":3,"s":2,"x":190.8,"y":25.5},{"c":3,"m":3,"s":2,"x":196,"y":25.8},{"c":3,"m":3,"s":2,"x":203.9,"y":25},{"c":3,"m":3,"s":2,"x":209,"y":26.5},{"c":3,"m":3,"s":2,"x":215,"y":27},{"c":3,"m":3,"s":2,"x":221,"y":28},{"c":3,"m":3,"s":2,"x":227,"y":29},{"c":3,"m":3,"s":2,"x":233,"y":30},{"c":3,"m":3,"s":2,"x":239,"y":31},{"c":3,"m":3,"s":2,"x":245,"y":32},{"c":3,"m":3,"s":2,"x":251,"y":33},{"c":3,"m":3,"s":2,"x":257,"y":34},{"c":3,"m":3,"s":2,"x":263,"y":35},{"c":3,"m":3,"s":2,"x":270,"y":35.5},{"c":3,"m":3,"s":2,"x":278,"y":36},{"c":3,"m":3,"s":2,"x":289.4,"y":36.7},
{"c":3,"m":3,"s":3,"x":200.1,"y":24},{"c":3,"m":3,"s":3,"x":204.8,"y":26.5},{"c":3,"m":3,"s":3,"x":210,"y":25.5},{"c":3,"m":3,"s":3,"x":214.2,"y":24},{"c":3,"m":3,"s":3,"x":218.9,"y":23.8},{"c":3,"m":3,"s":3,"x":226,"y":24.5},{"c":3,"m":3,"s":3,"x":233,"y":25},{"c":3,"m":3,"s":3,"x":240,"y":26.5},{"c":3,"m":3,"s":3,"x":247,"y":28},{"c":3,"m":3,"s":3,"x":254,"y":29},{"c":3,"m":3,"s":3,"x":261,"y":29.5},{"c":3,"m":3,"s":3,"x":268.4,"y":30},{"c":3,"m":3,"s":3,"x":275.3,"y":31.6},{"c":3,"m":3,"s":3,"x":280,"y":31.6},{"c":3,"m":3,"s":3,"x":287.8,"y":32.5},
{"c":3,"m":3,"s":4,"x":202,"y":26.5},{"c":3,"m":3,"s":4,"x":208,"y":27},{"c":3,"m":3,"s":4,"x":214,"y":28},{"c":3,"m":3,"s":4,"x":220,"y":29},{"c":3,"m":3,"s":4,"x":226,"y":30},{"c":3,"m":3,"s":4,"x":232,"y":31},{"c":3,"m":3,"s":4,"x":238,"y":32},{"c":3,"m":3,"s":4,"x":244,"y":33},{"c":3,"m":3,"s":4,"x":250,"y":33.5},{"c":3,"m":3,"s":4,"x":256,"y":34},{"c":3,"m":3,"s":4,"x":262,"y":34.5},{"c":3,"m":3,"s":4,"x":268,"y":35},{"c":3,"m":3,"s":4,"x":274,"y":35.5},{"c":3,"m":3,"s":4,"x":280,"y":35.5},{"c":3,"m":3,"s":4,"x":289.4,"y":35.9},
{"c":3,"m":3,"s":5,"x":206,"y":26},{"c":3,"m":3,"s":5,"x":212,"y":27},{"c":3,"m":3,"s":5,"x":218,"y":28},{"c":3,"m":3,"s":5,"x":224,"y":29},{"c":3,"m":3,"s":5,"x":230,"y":30},{"c":3,"m":3,"s":5,"x":236,"y":31},{"c":3,"m":3,"s":5,"x":242,"y":31.5},{"c":3,"m":3,"s":5,"x":248,"y":32.5},{"c":3,"m":3,"s":5,"x":254,"y":33},{"c":3,"m":3,"s":5,"x":260,"y":33.5},{"c":3,"m":3,"s":5,"x":266,"y":34},{"c":3,"m":3,"s":5,"x":272,"y":34.5},{"c":3,"m":3,"s":5,"x":278,"y":34.5},{"c":3,"m":3,"s":5,"x":289.4,"y":34.6},
{"c":3,"m":3,"s":6,"x":210,"y":27},{"c":3,"m":3,"s":6,"x":216,"y":28.5},{"c":3,"m":3,"s":6,"x":222,"y":29.5},{"c":3,"m":3,"s":6,"x":228,"y":30.5},{"c":3,"m":3,"s":6,"x":234,"y":31.5},{"c":3,"m":3,"s":6,"x":240,"y":32.5},{"c":3,"m":3,"s":6,"x":246,"y":33.5},{"c":3,"m":3,"s":6,"x":252,"y":34},{"c":3,"m":3,"s":6,"x":258,"y":35},{"c":3,"m":3,"s":6,"x":264,"y":35.5},{"c":3,"m":3,"s":6,"x":270,"y":36},{"c":3,"m":3,"s":6,"x":276,"y":36.5},{"c":3,"m":3,"s":6,"x":282,"y":36},
{"c":3,"m":3,"s":7,"x":215,"y":26},{"c":3,"m":3,"s":7,"x":221,"y":27},{"c":3,"m":3,"s":7,"x":227,"y":27.5},{"c":3,"m":3,"s":7,"x":233,"y":28.5},{"c":3,"m":3,"s":7,"x":239,"y":29.5},{"c":3,"m":3,"s":7,"x":245,"y":30.5},{"c":3,"m":3,"s":7,"x":251,"y":31.5},{"c":3,"m":3,"s":7,"x":257,"y":32},{"c":3,"m":3,"s":7,"x":263,"y":33},{"c":3,"m":3,"s":7,"x":269,"y":33.5},{"c":3,"m":3,"s":7,"x":276,"y":34},{"c":3,"m":3,"s":7,"x":283,"y":34.5},
{"c":3,"m":3,"s":8,"x":205,"y":25},{"c":3,"m":3,"s":8,"x":211,"y":26},{"c":3,"m":3,"s":8,"x":217,"y":27},{"c":3,"m":3,"s":8,"x":223,"y":28},{"c":3,"m":3,"s":8,"x":229,"y":29},{"c":3,"m":3,"s":8,"x":235,"y":30},{"c":3,"m":3,"s":8,"x":241,"y":31},{"c":3,"m":3,"s":8,"x":247,"y":32},{"c":3,"m":3,"s":8,"x":253,"y":33},{"c":3,"m":3,"s":8,"x":259,"y":34},{"c":3,"m":3,"s":8,"x":265,"y":34.5},{"c":3,"m":3,"s":8,"x":271,"y":35},{"c":3,"m":3,"s":8,"x":277,"y":35.5},{"c":3,"m":3,"s":8,"x":284,"y":36},
{"c":3,"m":3,"s":9,"x":212,"y":26.5},{"c":3,"m":3,"s":9,"x":218,"y":27.5},{"c":3,"m":3,"s":9,"x":224,"y":28.5},{"c":3,"m":3,"s":9,"x":230,"y":29.5},{"c":3,"m":3,"s":9,"x":236,"y":30.5},{"c":3,"m":3,"s":9,"x":242,"y":31.5},{"c":3,"m":3,"s":9,"x":248,"y":32.5},{"c":3,"m":3,"s":9,"x":254,"y":33.5},{"c":3,"m":3,"s":9,"x":260,"y":34},{"c":3,"m":3,"s":9,"x":266,"y":35},{"c":3,"m":3,"s":9,"x":272,"y":35.5},{"c":3,"m":3,"s":9,"x":279,"y":36},{"c":3,"m":3,"s":9,"x":286,"y":36.5},
{"c":3,"m":3,"s":10,"x":198,"y":24.5},{"c":3,"m":3,"s":10,"x":204,"y":25},{"c":3,"m":3,"s":10,"x":210,"y":26},{"c":3,"m":3,"s":10,"x":216,"y":27},{"c":3,"m":3,"s":10,"x":222,"y":28},{"c":3,"m":3,"s":10,"x":228,"y":29},{"c":3,"m":3,"s":10,"x":234,"y":30},{"c":3,"m":3,"s":10,"x":240,"y":31},{"c":3,"m":3,"s":10,"x":246,"y":32},{"c":3,"m":3,"s":10,"x":252,"y":33},{"c":3,"m":3,"s":10,"x":258,"y":33.5},{"c":3,"m":3,"s":10,"x":264,"y":34},{"c":3,"m":3,"s":10,"x":270,"y":34.5},{"c":3,"m":3,"s":10,"x":277,"y":35},{"c":3,"m":3,"s":10,"x":285,"y":35.5},
{"c":4,"m":1,"s":1,"x":190.2,"y":1013},{"c":4,"m":1,"s":1,"x":194,"y":903},{"c":4,"m":1,"s":1,"x":199,"y":930},{"c":4,"m":1,"s":1,"x":204,"y":1000},{"c":4,"m":1,"s":1,"x":210.3,"y":964},{"c":4,"m":1,"s":1,"x":215.7,"y":1086},{"c":4,"m":1,"s":1,"x":223.5,"y":1258},{"c":4,"m":1,"s":1,"x":229.7,"y":1405},{"c":4,"m":1,"s":1,"x":238.9,"y":1551},{"c":4,"m":1,"s":1,"x":248.3,"y":1894},{"c":4,"m":1,"s":1,"x":254.5,"y":2041},{"c":4,"m":1,"s":1,"x":259.1,"y":2187},{"c":4,"m":1,"s":1,"x":263.8,"y":2334},{"c":4,"m":1,"s":1,"x":270,"y":2408},{"c":4,"m":1,"s":1,"x":276,"y":2500},{"c":4,"m":1,"s":1,"x":282.4,"y":2628},{"c":4,"m":1,"s":1,"x":288.6,"y":2775},
{"c":4,"m":1,"s":2,"x":192,"y":1100},{"c":4,"m":1,"s":2,"x":196,"y":1150},{"c":4,"m":1,"s":2,"x":200,"y":1220},{"c":4,"m":1,"s":2,"x":205,"y":1300},{"c":4,"m":1,"s":2,"x":210,"y":1400},{"c":4,"m":1,"s":2,"x":215,"y":1520},{"c":4,"m":1,"s":2,"x":220,"y":1680},{"c":4,"m":1,"s":2,"x":225,"y":1850},{"c":4,"m":1,"s":2,"x":230,"y":2000},{"c":4,"m":1,"s":2,"x":235,"y":2180},{"c":4,"m":1,"s":2,"x":240,"y":2350},{"c":4,"m":1,"s":2,"x":245,"y":2550},{"c":4,"m":1,"s":2,"x":250,"y":2750},{"c":4,"m":1,"s":2,"x":255,"y":2950},{"c":4,"m":1,"s":2,"x":260,"y":3100},{"c":4,"m":1,"s":2,"x":264,"y":3200},{"c":4,"m":1,"s":2,"x":268.4,"y":3252},{"c":4,"m":1,"s":2,"x":272,"y":3280},{"c":4,"m":1,"s":2,"x":276,"y":3300},{"c":4,"m":1,"s":2,"x":280,"y":3330},{"c":4,"m":1,"s":2,"x":284,"y":3350},{"c":4,"m":1,"s":2,"x":286.2,"y":3374},
{"c":4,"m":1,"s":3,"x":195,"y":1200},{"c":4,"m":1,"s":3,"x":199.5,"y":1490},{"c":4,"m":1,"s":3,"x":204.1,"y":1625},{"c":4,"m":1,"s":3,"x":209.5,"y":1625},{"c":4,"m":1,"s":3,"x":216.5,"y":1845},{"c":4,"m":1,"s":3,"x":222.7,"y":2652},{"c":4,"m":1,"s":3,"x":225,"y":2518},{"c":4,"m":1,"s":3,"x":226.6,"y":2445},{"c":4,"m":1,"s":3,"x":230.5,"y":2457},{"c":4,"m":1,"s":3,"x":236,"y":2520},{"c":4,"m":1,"s":3,"x":242,"y":2620},{"c":4,"m":1,"s":3,"x":248,"y":2750},{"c":4,"m":1,"s":3,"x":254,"y":2900},{"c":4,"m":1,"s":3,"x":260,"y":3050},{"c":4,"m":1,"s":3,"x":266,"y":3200},{"c":4,"m":1,"s":3,"x":272,"y":3300},{"c":4,"m":1,"s":3,"x":278,"y":3400},{"c":4,"m":1,"s":3,"x":284,"y":3450},
{"c":4,"m":1,"s":4,"x":197,"y":1050},{"c":4,"m":1,"s":4,"x":202,"y":1150},{"c":4,"m":1,"s":4,"x":207,"y":1250},{"c":4,"m":1,"s":4,"x":212,"y":1380},{"c":4,"m":1,"s":4,"x":217,"y":1530},{"c":4,"m":1,"s":4,"x":222,"y":1700},{"c":4,"m":1,"s":4,"x":227,"y":1880},{"c":4,"m":1,"s":4,"x":232,"y":2070},{"c":4,"m":1,"s":4,"x":237,"y":2280},{"c":4,"m":1,"s":4,"x":242,"y":2500},{"c":4,"m":1,"s":4,"x":247,"y":2700},{"c":4,"m":1,"s":4,"x":252,"y":2900},{"c":4,"m":1,"s":4,"x":257,"y":3100},{"c":4,"m":1,"s":4,"x":262,"y":3250},{"c":4,"m":1,"s":4,"x":267,"y":3400},{"c":4,"m":1,"s":4,"x":272,"y":3500},{"c":4,"m":1,"s":4,"x":277,"y":3550},{"c":4,"m":1,"s":4,"x":284.9,"y":3570},{"c":4,"m":1,"s":4,"x":289.3,"y":3435},
{"c":4,"m":1,"s":5,"x":193,"y":950},{"c":4,"m":1,"s":5,"x":198,"y":1000},{"c":4,"m":1,"s":5,"x":203,"y":1080},{"c":4,"m":1,"s":5,"x":208,"y":1180},{"c":4,"m":1,"s":5,"x":213,"y":1300},{"c":4,"m":1,"s":5,"x":218,"y":1440},{"c":4,"m":1,"s":5,"x":223,"y":1600},{"c":4,"m":1,"s":5,"x":228,"y":1760},{"c":4,"m":1,"s":5,"x":233,"y":1930},{"c":4,"m":1,"s":5,"x":238,"y":2100},{"c":4,"m":1,"s":5,"x":243,"y":2280},{"c":4,"m":1,"s":5,"x":248,"y":2450},{"c":4,"m":1,"s":5,"x":253,"y":2620},{"c":4,"m":1,"s":5,"x":258,"y":2780},{"c":4,"m":1,"s":5,"x":263,"y":2930},{"c":4,"m":1,"s":5,"x":268,"y":3060},{"c":4,"m":1,"s":5,"x":273,"y":3150},{"c":4,"m":1,"s":5,"x":278,"y":3200},{"c":4,"m":1,"s":5,"x":283,"y":3220},{"c":4,"m":1,"s":5,"x":290.1,"y":3252},
{"c":4,"m":1,"s":6,"x":196,"y":1300},{"c":4,"m":1,"s":6,"x":200,"y":1350},{"c":4,"m":1,"s":6,"x":204,"y":1420},{"c":4,"m":1,"s":6,"x":208,"y":1500},{"c":4,"m":1,"s":6,"x":212,"y":1600},{"c":4,"m":1,"s":6,"x":216,"y":1720},{"c":4,"m":1,"s":6,"x":220,"y":1850},{"c":4,"m":1,"s":6,"x":224,"y":1990},{"c":4,"m":1,"s":6,"x":228,"y":2130},{"c":4,"m":1,"s":6,"x":232,"y":2280},{"c":4,"m":1,"s":6,"x":236,"y":2430},{"c":4,"m":1,"s":6,"x":240,"y":2580},{"c":4,"m":1,"s":6,"x":244,"y":2740},{"c":4,"m":1,"s":6,"x":248,"y":2880},{"c":4,"m":1,"s":6,"x":252,"y":3000},
{"c":4,"m":1,"s":7,"x":200,"y":1100},{"c":4,"m":1,"s":7,"x":205,"y":1180},{"c":4,"m":1,"s":7,"x":210,"y":1280},{"c":4,"m":1,"s":7,"x":215,"y":1400},{"c":4,"m":1,"s":7,"x":220,"y":1540},{"c":4,"m":1,"s":7,"x":225,"y":1700},{"c":4,"m":1,"s":7,"x":230,"y":1860},{"c":4,"m":1,"s":7,"x":235,"y":2020},{"c":4,"m":1,"s":7,"x":240,"y":2180},{"c":4,"m":1,"s":7,"x":245,"y":2340},{"c":4,"m":1,"s":7,"x":250,"y":2500},{"c":4,"m":1,"s":7,"x":255,"y":2640},{"c":4,"m":1,"s":7,"x":260,"y":2760},{"c":4,"m":1,"s":7,"x":265,"y":2880},{"c":4,"m":1,"s":7,"x":270,"y":2980},{"c":4,"m":1,"s":7,"x":275,"y":3030},{"c":4,"m":1,"s":7,"x":280,"y":3060},{"c":4,"m":1,"s":7,"x":287,"y":2873},{"c":4,"m":1,"s":7,"x":290.9,"y":2995},
{"c":4,"m":1,"s":8,"x":191,"y":1150},{"c":4,"m":1,"s":8,"x":197,"y":1250},{"c":4,"m":1,"s":8,"x":201,"y":1300},{"c":4,"m":1,"s":8,"x":205,"y":1380},{"c":4,"m":1,"s":8,"x":209,"y":1450},{"c":4,"m":1,"s":8,"x":213,"y":1550},{"c":4,"m":1,"s":8,"x":217,"y":1650},{"c":4,"m":1,"s":8,"x":221,"y":1780},{"c":4,"m":1,"s":8,"x":226,"y":1930},{"c":4,"m":1,"s":8,"x":231,"y":2080},{"c":4,"m":1,"s":8,"x":236,"y":2250},{"c":4,"m":1,"s":8,"x":241,"y":2400},{"c":4,"m":1,"s":8,"x":246,"y":2580},{"c":4,"m":1,"s":8,"x":251,"y":2740},{"c":4,"m":1,"s":8,"x":256,"y":2880},{"c":4,"m":1,"s":8,"x":261,"y":3000},{"c":4,"m":1,"s":8,"x":266,"y":3100},{"c":4,"m":1,"s":8,"x":271,"y":3150},{"c":4,"m":1,"s":8,"x":276,"y":3180},{"c":4,"m":1,"s":8,"x":282,"y":3100},{"c":4,"m":1,"s":8,"x":290.1,"y":3080},
{"c":4,"m":1,"s":9,"x":202,"y":1000},{"c":4,"m":1,"s":9,"x":206,"y":1060},{"c":4,"m":1,"s":9,"x":210,"y":1120},{"c":4,"m":1,"s":9,"x":214,"y":1200},{"c":4,"m":1,"s":9,"x":218,"y":1290},{"c":4,"m":1,"s":9,"x":222,"y":1400},{"c":4,"m":1,"s":9,"x":226,"y":1500},{"c":4,"m":1,"s":9,"x":231,"y":1620},{"c":4,"m":1,"s":9,"x":236,"y":1780},{"c":4,"m":1,"s":9,"x":241,"y":1950},{"c":4,"m":1,"s":9,"x":246,"y":2100},{"c":4,"m":1,"s":9,"x":251,"y":2280},{"c":4,"m":1,"s":9,"x":256,"y":2450},{"c":4,"m":1,"s":9,"x":261,"y":2600},{"c":4,"m":1,"s":9,"x":266,"y":2720},{"c":4,"m":1,"s":9,"x":272,"y":2800},{"c":4,"m":1,"s":9,"x":278,"y":2820},{"c":4,"m":1,"s":9,"x":284,"y":2750},{"c":4,"m":1,"s":9,"x":289,"y":2700},
{"c":4,"m":1,"s":10,"x":198,"y":1400},{"c":4,"m":1,"s":10,"x":201,"y":1450},{"c":4,"m":1,"s":10,"x":204,"y":1500},{"c":4,"m":1,"s":10,"x":207,"y":1560},{"c":4,"m":1,"s":10,"x":210,"y":1650},
{"c":4,"m":1,"s":11,"x":205,"y":1500},{"c":4,"m":1,"s":11,"x":209,"y":1600},{"c":4,"m":1,"s":11,"x":213,"y":1700},{"c":4,"m":1,"s":11,"x":217,"y":1820},{"c":4,"m":1,"s":11,"x":221,"y":1950},{"c":4,"m":1,"s":11,"x":225,"y":2100},{"c":4,"m":1,"s":11,"x":229,"y":2250},{"c":4,"m":1,"s":11,"x":233,"y":2400},{"c":4,"m":1,"s":11,"x":237,"y":2560},{"c":4,"m":1,"s":11,"x":241,"y":2720},{"c":4,"m":1,"s":11,"x":245,"y":2900},{"c":4,"m":1,"s":11,"x":250,"y":3080},{"c":4,"m":1,"s":11,"x":255,"y":3250},{"c":4,"m":1,"s":11,"x":260.7,"y":3374},{"c":4,"m":1,"s":11,"x":264,"y":3550},{"c":4,"m":1,"s":11,"x":266.9,"y":3693},{"c":4,"m":1,"s":11,"x":271.5,"y":3718},{"c":4,"m":1,"s":11,"x":276,"y":3700},{"c":4,"m":1,"s":11,"x":281.6,"y":3803},{"c":4,"m":1,"s":11,"x":285,"y":3650},{"c":4,"m":1,"s":11,"x":290.9,"y":3766},
{"c":4,"m":1,"s":12,"x":190,"y":1050},{"c":4,"m":1,"s":12,"x":193,"y":1000},{"c":4,"m":1,"s":12,"x":196,"y":1050},{"c":4,"m":1,"s":12,"x":199,"y":1100},{"c":4,"m":1,"s":12,"x":202,"y":1180},{"c":4,"m":1,"s":12,"x":206,"y":1250},
{"c":4,"m":1,"s":13,"x":195,"y":1150},{"c":4,"m":1,"s":13,"x":199,"y":1200},{"c":4,"m":1,"s":13,"x":203,"y":1270},{"c":4,"m":1,"s":13,"x":207,"y":1330},{"c":4,"m":1,"s":13,"x":211,"y":1420},{"c":4,"m":1,"s":13,"x":215,"y":1500},{"c":4,"m":1,"s":13,"x":219,"y":1600},{"c":4,"m":1,"s":13,"x":223,"y":1720},
{"c":4,"m":1,"s":14,"x":188,"y":980},{"c":4,"m":1,"s":14,"x":190,"y":960},{"c":4,"m":1,"s":14,"x":192,"y":980},{"c":4,"m":1,"s":14,"x":194,"y":1000},{"c":4,"m":1,"s":14,"x":196,"y":1020},{"c":4,"m":1,"s":14,"x":198,"y":1050},{"c":4,"m":1,"s":14,"x":200,"y":1080},{"c":4,"m":1,"s":14,"x":202,"y":1110},{"c":4,"m":1,"s":14,"x":204,"y":1150},{"c":4,"m":1,"s":14,"x":206,"y":1190},{"c":4,"m":1,"s":14,"x":208,"y":1230},{"c":4,"m":1,"s":14,"x":210,"y":1280},{"c":4,"m":1,"s":14,"x":212,"y":1330},{"c":4,"m":1,"s":14,"x":214,"y":1380},{"c":4,"m":1,"s":14,"x":216,"y":1440},{"c":4,"m":1,"s":14,"x":218,"y":1500},{"c":4,"m":1,"s":14,"x":220,"y":1560},{"c":4,"m":1,"s":14,"x":222,"y":1630},{"c":4,"m":1,"s":14,"x":224,"y":1700},{"c":4,"m":1,"s":14,"x":226,"y":1770},{"c":4,"m":1,"s":14,"x":228,"y":1840},{"c":4,"m":1,"s":14,"x":230,"y":1920},{"c":4,"m":1,"s":14,"x":232,"y":2000},{"c":4,"m":1,"s":14,"x":234,"y":2080},{"c":4,"m":1,"s":14,"x":236,"y":2160},{"c":4,"m":1,"s":14,"x":238,"y":2240},{"c":4,"m":1,"s":14,"x":240,"y":2320},
{"c":4,"m":1,"s":15,"x":189,"y":1100},{"c":4,"m":1,"s":15,"x":191,"y":1120},{"c":4,"m":1,"s":15,"x":193,"y":1140},{"c":4,"m":1,"s":15,"x":195,"y":1170},{"c":4,"m":1,"s":15,"x":197,"y":1200},{"c":4,"m":1,"s":15,"x":199,"y":1240},{"c":4,"m":1,"s":15,"x":201,"y":1280},{"c":4,"m":1,"s":15,"x":203,"y":1320},{"c":4,"m":1,"s":15,"x":205,"y":1360},{"c":4,"m":1,"s":15,"x":207,"y":1410},{"c":4,"m":1,"s":15,"x":209,"y":1460},{"c":4,"m":1,"s":15,"x":211,"y":1510},{"c":4,"m":1,"s":15,"x":213,"y":1570},{"c":4,"m":1,"s":15,"x":215,"y":1630},{"c":4,"m":1,"s":15,"x":217,"y":1690},{"c":4,"m":1,"s":15,"x":219,"y":1760},{"c":4,"m":1,"s":15,"x":221,"y":1830},{"c":4,"m":1,"s":15,"x":223,"y":1900},{"c":4,"m":1,"s":15,"x":225,"y":1980},{"c":4,"m":1,"s":15,"x":227,"y":2060},{"c":4,"m":1,"s":15,"x":229,"y":2140},{"c":4,"m":1,"s":15,"x":231,"y":2220},{"c":4,"m":1,"s":15,"x":233,"y":2300},{"c":4,"m":1,"s":15,"x":235,"y":2380},{"c":4,"m":1,"s":15,"x":237,"y":2460},{"c":4,"m":1,"s":15,"x":239,"y":2540},{"c":4,"m":1,"s":15,"x":241,"y":2620},{"c":4,"m":1,"s":15,"x":243,"y":2700},
{"c":4,"m":1,"s":16,"x":192,"y":1250},{"c":4,"m":1,"s":16,"x":195,"y":1280},{"c":4,"m":1,"s":16,"x":198,"y":1300},{"c":4,"m":1,"s":16,"x":201,"y":1350},{"c":4,"m":1,"s":16,"x":204,"y":1400},{"c":4,"m":1,"s":16,"x":207,"y":1460},{"c":4,"m":1,"s":16,"x":210,"y":1520},{"c":4,"m":1,"s":16,"x":213,"y":1590},{"c":4,"m":1,"s":16,"x":216,"y":1660},{"c":4,"m":1,"s":16,"x":219,"y":1740},{"c":4,"m":1,"s":16,"x":222,"y":1820},{"c":4,"m":1,"s":16,"x":225,"y":1900},
{"c":4,"m":1,"s":17,"x":196,"y":950},{"c":4,"m":1,"s":17,"x":199,"y":980},{"c":4,"m":1,"s":17,"x":202,"y":1020},{"c":4,"m":1,"s":17,"x":205,"y":1070},{"c":4,"m":1,"s":17,"x":208,"y":1120},{"c":4,"m":1,"s":17,"x":211,"y":1170},{"c":4,"m":1,"s":17,"x":214,"y":1230},{"c":4,"m":1,"s":17,"x":217,"y":1290},{"c":4,"m":1,"s":17,"x":220,"y":1360},{"c":4,"m":1,"s":17,"x":223,"y":1430},{"c":4,"m":1,"s":17,"x":226,"y":1500},{"c":4,"m":1,"s":17,"x":229,"y":1580},{"c":4,"m":1,"s":17,"x":232,"y":1660},{"c":4,"m":1,"s":17,"x":235,"y":1740},{"c":4,"m":1,"s":17,"x":238,"y":1830},{"c":4,"m":1,"s":17,"x":241,"y":1920},{"c":4,"m":1,"s":17,"x":244,"y":2010},{"c":4,"m":1,"s":17,"x":247,"y":2100},{"c":4,"m":1,"s":17,"x":250,"y":2200},{"c":4,"m":1,"s":17,"x":253,"y":2300},{"c":4,"m":1,"s":17,"x":256,"y":2400},
{"c":4,"m":1,"s":18,"x":200,"y":1200},{"c":4,"m":1,"s":18,"x":203,"y":1250},{"c":4,"m":1,"s":18,"x":206,"y":1300},{"c":4,"m":1,"s":18,"x":209,"y":1360},{"c":4,"m":1,"s":18,"x":212,"y":1420},{"c":4,"m":1,"s":18,"x":215,"y":1490},{"c":4,"m":1,"s":18,"x":218,"y":1560},{"c":4,"m":1,"s":18,"x":221,"y":1640},{"c":4,"m":1,"s":18,"x":224,"y":1720},{"c":4,"m":1,"s":18,"x":227,"y":1800},{"c":4,"m":1,"s":18,"x":230,"y":1890},{"c":4,"m":1,"s":18,"x":233,"y":1980},{"c":4,"m":1,"s":18,"x":236,"y":2070},{"c":4,"m":1,"s":18,"x":239,"y":2160},{"c":4,"m":1,"s":18,"x":242,"y":2260},{"c":4,"m":1,"s":18,"x":245,"y":2360},{"c":4,"m":1,"s":18,"x":248,"y":2460},{"c":4,"m":1,"s":18,"x":251,"y":2570},{"c":4,"m":1,"s":18,"x":254,"y":2680},{"c":4,"m":1,"s":18,"x":257,"y":2790},{"c":4,"m":1,"s":18,"x":260,"y":2900},{"c":4,"m":1,"s":18,"x":263,"y":3000},
{"c":4,"m":1,"s":19,"x":190,"y":1200},{"c":4,"m":1,"s":19,"x":193,"y":1220},{"c":4,"m":1,"s":19,"x":196,"y":1260},{"c":4,"m":1,"s":19,"x":199,"y":1300},{"c":4,"m":1,"s":19,"x":202,"y":1340},
{"c":4,"m":1,"s":20,"x":207,"y":1050},{"c":4,"m":1,"s":20,"x":210,"y":1100},{"c":4,"m":1,"s":20,"x":213,"y":1150},{"c":4,"m":1,"s":20,"x":216,"y":1210},{"c":4,"m":1,"s":20,"x":219,"y":1280},{"c":4,"m":1,"s":20,"x":222,"y":1350},{"c":4,"m":1,"s":20,"x":225,"y":1420},{"c":4,"m":1,"s":20,"x":228,"y":1500},{"c":4,"m":1,"s":20,"x":231,"y":1580},{"c":4,"m":1,"s":20,"x":234,"y":1660},{"c":4,"m":1,"s":20,"x":237,"y":1750},{"c":4,"m":1,"s":20,"x":240,"y":1840},{"c":4,"m":1,"s":20,"x":243,"y":1930},{"c":4,"m":1,"s":20,"x":246,"y":2020},{"c":4,"m":1,"s":20,"x":249,"y":2120},{"c":4,"m":1,"s":20,"x":252,"y":2220},
{"c":4,"m":1,"s":21,"x":212,"y":1600},{"c":4,"m":1,"s":21,"x":215,"y":1680},{"c":4,"m":1,"s":21,"x":218,"y":1760},{"c":4,"m":1,"s":21,"x":221,"y":1840},{"c":4,"m":1,"s":21,"x":224,"y":1930},{"c":4,"m":1,"s":21,"x":227,"y":2020},{"c":4,"m":1,"s":21,"x":230,"y":2110},{"c":4,"m":1,"s":21,"x":233,"y":2200},{"c":4,"m":1,"s":21,"x":236,"y":2300},{"c":4,"m":1,"s":21,"x":239,"y":2400},{"c":4,"m":1,"s":21,"x":242,"y":2500},{"c":4,"m":1,"s":21,"x":245,"y":2600},{"c":4,"m":1,"s":21,"x":248,"y":2700},{"c":4,"m":1,"s":21,"x":251,"y":2800},{"c":4,"m":1,"s":21,"x":254,"y":2900},{"c":4,"m":1,"s":21,"x":257,"y":3000},{"c":4,"m":1,"s":21,"x":260,"y":3100},
{"c":4,"m":1,"s":22,"x":189,"y":900},{"c":4,"m":1,"s":22,"x":191,"y":920},{"c":4,"m":1,"s":22,"x":193,"y":940},{"c":4,"m":1,"s":22,"x":195,"y":960},{"c":4,"m":1,"s":22,"x":197,"y":990},{"c":4,"m":1,"s":22,"x":199,"y":1020},{"c":4,"m":1,"s":22,"x":201,"y":1050},{"c":4,"m":1,"s":22,"x":203,"y":1090},{"c":4,"m":1,"s":22,"x":205,"y":1130},{"c":4,"m":1,"s":22,"x":207,"y":1170},{"c":4,"m":1,"s":22,"x":209,"y":1210},
{"c":4,"m":1,"s":23,"x":190,"y":1000},{"c":4,"m":1,"s":23,"x":192,"y":1030},{"c":4,"m":1,"s":23,"x":194,"y":1060},{"c":4,"m":1,"s":23,"x":196,"y":1090},{"c":4,"m":1,"s":23,"x":198,"y":1130},{"c":4,"m":1,"s":23,"x":200,"y":1170},{"c":4,"m":1,"s":23,"x":202,"y":1210},{"c":4,"m":1,"s":23,"x":204,"y":1260},{"c":4,"m":1,"s":23,"x":206,"y":1310},{"c":4,"m":1,"s":23,"x":208,"y":1360},
{"c":4,"m":1,"s":24,"x":193,"y":1100},{"c":4,"m":1,"s":24,"x":195,"y":1130},{"c":4,"m":1,"s":24,"x":197,"y":1160},{"c":4,"m":1,"s":24,"x":199,"y":1200},{"c":4,"m":1,"s":24,"x":201,"y":1240},{"c":4,"m":1,"s":24,"x":203,"y":1290},{"c":4,"m":1,"s":24,"x":205,"y":1340},{"c":4,"m":1,"s":24,"x":207,"y":1390},{"c":4,"m":1,"s":24,"x":209,"y":1450},{"c":4,"m":1,"s":24,"x":211,"y":1500},
{"c":4,"m":1,"s":25,"x":196,"y":1150},{"c":4,"m":1,"s":25,"x":198,"y":1180},{"c":4,"m":1,"s":25,"x":200,"y":1210},{"c":4,"m":1,"s":25,"x":202,"y":1250},{"c":4,"m":1,"s":25,"x":204,"y":1290},{"c":4,"m":1,"s":25,"x":206,"y":1330},{"c":4,"m":1,"s":25,"x":208,"y":1380},{"c":4,"m":1,"s":25,"x":210,"y":1430},{"c":4,"m":1,"s":25,"x":212,"y":1490},{"c":4,"m":1,"s":25,"x":214,"y":1550},{"c":4,"m":1,"s":25,"x":216,"y":1610},
{"c":4,"m":1,"s":26,"x":200,"y":1000},{"c":4,"m":1,"s":26,"x":202,"y":1030},{"c":4,"m":1,"s":26,"x":204,"y":1060},{"c":4,"m":1,"s":26,"x":206,"y":1100},{"c":4,"m":1,"s":26,"x":208,"y":1140},{"c":4,"m":1,"s":26,"x":210,"y":1180},{"c":4,"m":1,"s":26,"x":212,"y":1230},{"c":4,"m":1,"s":26,"x":214,"y":1280},{"c":4,"m":1,"s":26,"x":216,"y":1330},
{"c":4,"m":1,"s":27,"x":205,"y":1250},{"c":4,"m":1,"s":27,"x":207,"y":1300},{"c":4,"m":1,"s":27,"x":209,"y":1350},{"c":4,"m":1,"s":27,"x":211,"y":1400},{"c":4,"m":1,"s":27,"x":213,"y":1460},{"c":4,"m":1,"s":27,"x":215,"y":1520},{"c":4,"m":1,"s":27,"x":217,"y":1580},{"c":4,"m":1,"s":27,"x":219,"y":1650},{"c":4,"m":1,"s":27,"x":221,"y":1720},{"c":4,"m":1,"s":27,"x":223,"y":1790},
{"c":4,"m":1,"s":28,"x":210,"y":1350},{"c":4,"m":1,"s":28,"x":212,"y":1400},{"c":4,"m":1,"s":28,"x":214,"y":1450},{"c":4,"m":1,"s":28,"x":216,"y":1510},{"c":4,"m":1,"s":28,"x":218,"y":1570},{"c":4,"m":1,"s":28,"x":220,"y":1630},{"c":4,"m":1,"s":28,"x":222,"y":1700},{"c":4,"m":1,"s":28,"x":224,"y":1770},{"c":4,"m":1,"s":28,"x":226,"y":1840},{"c":4,"m":1,"s":28,"x":228,"y":1910},{"c":4,"m":1,"s":28,"x":230,"y":1990},
{"c":4,"m":1,"s":29,"x":215,"y":1700},{"c":4,"m":1,"s":29,"x":217,"y":1760},{"c":4,"m":1,"s":29,"x":219,"y":1830},{"c":4,"m":1,"s":29,"x":221,"y":1900},{"c":4,"m":1,"s":29,"x":223,"y":1970},{"c":4,"m":1,"s":29,"x":225,"y":2050},{"c":4,"m":1,"s":29,"x":227,"y":2130},{"c":4,"m":1,"s":29,"x":229,"y":2210},{"c":4,"m":1,"s":29,"x":231,"y":2290},{"c":4,"m":1,"s":29,"x":233,"y":2370},{"c":4,"m":1,"s":29,"x":235,"y":2450},
{"c":4,"m":1,"s":30,"x":191,"y":1300},{"c":4,"m":1,"s":30,"x":193,"y":1320},{"c":4,"m":1,"s":30,"x":195,"y":1340},{"c":4,"m":1,"s":30,"x":197,"y":1380},{"c":4,"m":1,"s":30,"x":199,"y":1420},
{"c":4,"m":2,"s":1,"x":194.2,"y":34},{"c":4,"m":2,"s":1,"x":196,"y":36},{"c":4,"m":2,"s":1,"x":200,"y":37.5},{"c":4,"m":2,"s":1,"x":206,"y":38},{"c":4,"m":2,"s":1,"x":213,"y":40},{"c":4,"m":2,"s":1,"x":220,"y":41.5},{"c":4,"m":2,"s":1,"x":228,"y":43},{"c":4,"m":2,"s":1,"x":236,"y":44.5},{"c":4,"m":2,"s":1,"x":244,"y":46},{"c":4,"m":2,"s":1,"x":252,"y":47.5},{"c":4,"m":2,"s":1,"x":260,"y":48.5},{"c":4,"m":2,"s":1,"x":268,"y":50},{"c":4,"m":2,"s":1,"x":276,"y":50},{"c":4,"m":2,"s":1,"x":284.1,"y":51.4},
{"c":4,"m":2,"s":2,"x":190.1,"y":36},{"c":4,"m":2,"s":2,"x":195,"y":37},{"c":4,"m":2,"s":2,"x":202,"y":38.5},{"c":4,"m":2,"s":2,"x":210,"y":40},{"c":4,"m":2,"s":2,"x":218,"y":41.5},{"c":4,"m":2,"s":2,"x":226,"y":43},{"c":4,"m":2,"s":2,"x":234,"y":44},{"c":4,"m":2,"s":2,"x":242,"y":45.5},{"c":4,"m":2,"s":2,"x":250,"y":46.5},{"c":4,"m":2,"s":2,"x":258,"y":48},{"c":4,"m":2,"s":2,"x":266,"y":49},{"c":4,"m":2,"s":2,"x":274,"y":49.5},{"c":4,"m":2,"s":2,"x":280,"y":49},
{"c":4,"m":2,"s":3,"x":194.8,"y":40},{"c":4,"m":2,"s":3,"x":203.2,"y":42.4},{"c":4,"m":2,"s":3,"x":212,"y":43},{"c":4,"m":2,"s":3,"x":223,"y":47},{"c":4,"m":2,"s":3,"x":230,"y":48},{"c":4,"m":2,"s":3,"x":238.7,"y":48.9},{"c":4,"m":2,"s":3,"x":245,"y":49},{"c":4,"m":2,"s":3,"x":252,"y":49.5},{"c":4,"m":2,"s":3,"x":259,"y":50.9},{"c":4,"m":2,"s":3,"x":265.3,"y":50.9},{"c":4,"m":2,"s":3,"x":270,"y":53.8},{"c":4,"m":2,"s":3,"x":282.5,"y":51.9},{"c":4,"m":2,"s":3,"x":290.3,"y":49.4},
{"c":4,"m":2,"s":4,"x":192,"y":38},{"c":4,"m":2,"s":4,"x":198,"y":39},{"c":4,"m":2,"s":4,"x":205,"y":40},{"c":4,"m":2,"s":4,"x":212,"y":41},{"c":4,"m":2,"s":4,"x":219,"y":42},{"c":4,"m":2,"s":4,"x":226,"y":43.5},{"c":4,"m":2,"s":4,"x":233,"y":45},{"c":4,"m":2,"s":4,"x":241,"y":46},{"c":4,"m":2,"s":4,"x":249,"y":47},{"c":4,"m":2,"s":4,"x":257,"y":48},{"c":4,"m":2,"s":4,"x":265,"y":49.5},{"c":4,"m":2,"s":4,"x":273,"y":50},{"c":4,"m":2,"s":4,"x":281,"y":50.5},{"c":4,"m":2,"s":4,"x":288,"y":50},
{"c":4,"m":2,"s":5,"x":196,"y":37},{"c":4,"m":2,"s":5,"x":202,"y":38},{"c":4,"m":2,"s":5,"x":209,"y":39},{"c":4,"m":2,"s":5,"x":216,"y":40},{"c":4,"m":2,"s":5,"x":223,"y":41},{"c":4,"m":2,"s":5,"x":231,"y":42},{"c":4,"m":2,"s":5,"x":241.8,"y":41},{"c":4,"m":2,"s":5,"x":249,"y":42},{"c":4,"m":2,"s":5,"x":255.9,"y":41.9},{"c":4,"m":2,"s":5,"x":263,"y":43},{"c":4,"m":2,"s":5,"x":270,"y":44.5},{"c":4,"m":2,"s":5,"x":276.3,"y":45.8},{"c":4,"m":2,"s":5,"x":281,"y":46.9},{"c":4,"m":2,"s":5,"x":288,"y":47},
{"c":4,"m":2,"s":6,"x":190,"y":35},{"c":4,"m":2,"s":6,"x":196,"y":36.5},{"c":4,"m":2,"s":6,"x":203,"y":38},{"c":4,"m":2,"s":6,"x":211,"y":39.5},{"c":4,"m":2,"s":6,"x":219,"y":40.5},{"c":4,"m":2,"s":6,"x":227,"y":42},{"c":4,"m":2,"s":6,"x":235,"y":43.5},{"c":4,"m":2,"s":6,"x":243,"y":45},{"c":4,"m":2,"s":6,"x":251,"y":46},{"c":4,"m":2,"s":6,"x":259,"y":47.5},{"c":4,"m":2,"s":6,"x":267,"y":48},{"c":4,"m":2,"s":6,"x":275,"y":49},{"c":4,"m":2,"s":6,"x":283,"y":50},{"c":4,"m":2,"s":6,"x":290,"y":50},
{"c":4,"m":2,"s":7,"x":200,"y":40},{"c":4,"m":2,"s":7,"x":207,"y":41},{"c":4,"m":2,"s":7,"x":214,"y":42},{"c":4,"m":2,"s":7,"x":221,"y":43.5},{"c":4,"m":2,"s":7,"x":228,"y":45},{"c":4,"m":2,"s":7,"x":235,"y":46},{"c":4,"m":2,"s":7,"x":242,"y":47},{"c":4,"m":2,"s":7,"x":249,"y":48},{"c":4,"m":2,"s":7,"x":256,"y":49},{"c":4,"m":2,"s":7,"x":263,"y":50},{"c":4,"m":2,"s":7,"x":271,"y":50.5},{"c":4,"m":2,"s":7,"x":279,"y":51},{"c":4,"m":2,"s":7,"x":286,"y":51},
{"c":4,"m":2,"s":8,"x":205,"y":36},{"c":4,"m":2,"s":8,"x":211,"y":38},{"c":4,"m":2,"s":8,"x":218,"y":39.5},{"c":4,"m":2,"s":8,"x":225,"y":40},{"c":4,"m":2,"s":8,"x":232,"y":41},{"c":4,"m":2,"s":8,"x":240,"y":43},{"c":4,"m":2,"s":8,"x":248,"y":44},{"c":4,"m":2,"s":8,"x":256,"y":45.5},{"c":4,"m":2,"s":8,"x":264,"y":47},{"c":4,"m":2,"s":8,"x":272,"y":48},{"c":4,"m":2,"s":8,"x":280,"y":48.5},
{"c":4,"m":2,"s":9,"x":198,"y":35.5},{"c":4,"m":2,"s":9,"x":204,"y":37},{"c":4,"m":2,"s":9,"x":211,"y":37},{"c":4,"m":2,"s":9,"x":218,"y":38},{"c":4,"m":2,"s":9,"x":226,"y":40},{"c":4,"m":2,"s":9,"x":234,"y":41},{"c":4,"m":2,"s":9,"x":242,"y":42.5},{"c":4,"m":2,"s":9,"x":250,"y":44},{"c":4,"m":2,"s":9,"x":258,"y":45},{"c":4,"m":2,"s":9,"x":266,"y":46},{"c":4,"m":2,"s":9,"x":274,"y":47},{"c":4,"m":2,"s":9,"x":282,"y":48},
{"c":4,"m":2,"s":10,"x":193,"y":36},{"c":4,"m":2,"s":10,"x":199,"y":37},{"c":4,"m":2,"s":10,"x":205,"y":38},{"c":4,"m":2,"s":10,"x":211,"y":39},{"c":4,"m":2,"s":10,"x":217,"y":40},{"c":4,"m":2,"s":10,"x":223,"y":42},{"c":4,"m":2,"s":10,"x":229,"y":43},{"c":4,"m":2,"s":10,"x":235,"y":44},{"c":4,"m":2,"s":10,"x":241,"y":45},{"c":4,"m":2,"s":10,"x":247,"y":46},{"c":4,"m":2,"s":10,"x":253,"y":47},{"c":4,"m":2,"s":10,"x":259,"y":48},{"c":4,"m":2,"s":10,"x":265,"y":48},{"c":4,"m":2,"s":10,"x":271,"y":49},{"c":4,"m":2,"s":10,"x":277,"y":50},{"c":4,"m":2,"s":10,"x":284,"y":50},
{"c":4,"m":2,"s":11,"x":197,"y":39},{"c":4,"m":2,"s":11,"x":203,"y":40},{"c":4,"m":2,"s":11,"x":209,"y":41},{"c":4,"m":2,"s":11,"x":215,"y":42},{"c":4,"m":2,"s":11,"x":221,"y":42},{"c":4,"m":2,"s":11,"x":227,"y":43},{"c":4,"m":2,"s":11,"x":233,"y":44},{"c":4,"m":2,"s":11,"x":239,"y":45},{"c":4,"m":2,"s":11,"x":245,"y":46},{"c":4,"m":2,"s":11,"x":251,"y":47},{"c":4,"m":2,"s":11,"x":257,"y":47},{"c":4,"m":2,"s":11,"x":263,"y":48},{"c":4,"m":2,"s":11,"x":269,"y":49},{"c":4,"m":2,"s":11,"x":275,"y":49},{"c":4,"m":2,"s":11,"x":282,"y":50},
{"c":4,"m":2,"s":12,"x":202,"y":38},{"c":4,"m":2,"s":12,"x":208,"y":39},{"c":4,"m":2,"s":12,"x":214,"y":41},{"c":4,"m":2,"s":12,"x":220,"y":42},{"c":4,"m":2,"s":12,"x":226,"y":44},{"c":4,"m":2,"s":12,"x":232,"y":45},{"c":4,"m":2,"s":12,"x":238,"y":46},{"c":4,"m":2,"s":12,"x":244,"y":47},{"c":4,"m":2,"s":12,"x":250,"y":48},{"c":4,"m":2,"s":12,"x":256,"y":48},{"c":4,"m":2,"s":12,"x":262,"y":49},{"c":4,"m":2,"s":12,"x":268,"y":50},{"c":4,"m":2,"s":12,"x":274,"y":50},{"c":4,"m":2,"s":12,"x":280,"y":51},
{"c":4,"m":3,"s":1,"x":190.1,"y":26.5},{"c":4,"m":3,"s":1,"x":195,"y":26.8},{"c":4,"m":3,"s":1,"x":201.1,"y":23.6},{"c":4,"m":3,"s":1,"x":207,"y":25},{"c":4,"m":3,"s":1,"x":213.6,"y":24.1},{"c":4,"m":3,"s":1,"x":218.3,"y":21.05},{"c":4,"m":3,"s":1,"x":221.4,"y":25.2},{"c":4,"m":3,"s":1,"x":227,"y":28},{"c":4,"m":3,"s":1,"x":233,"y":29},{"c":4,"m":3,"s":1,"x":240,"y":30.5},{"c":4,"m":3,"s":1,"x":247,"y":31.5},{"c":4,"m":3,"s":1,"x":254,"y":32.5},{"c":4,"m":3,"s":1,"x":261,"y":33.5},{"c":4,"m":3,"s":1,"x":268,"y":34},{"c":4,"m":3,"s":1,"x":275,"y":35},{"c":4,"m":3,"s":1,"x":282,"y":35.5},{"c":4,"m":3,"s":1,"x":290.3,"y":35.9},
{"c":4,"m":3,"s":2,"x":188,"y":26},{"c":4,"m":3,"s":2,"x":193,"y":27},{"c":4,"m":3,"s":2,"x":199,"y":27.5},{"c":4,"m":3,"s":2,"x":205,"y":28},{"c":4,"m":3,"s":2,"x":212,"y":30},{"c":4,"m":3,"s":2,"x":218,"y":30},{"c":4,"m":3,"s":2,"x":224.6,"y":32.5},{"c":4,"m":3,"s":2,"x":235.5,"y":33.6},{"c":4,"m":3,"s":2,"x":243,"y":34},{"c":4,"m":3,"s":2,"x":251.2,"y":34.6},{"c":4,"m":3,"s":2,"x":258,"y":35.5},{"c":4,"m":3,"s":2,"x":265,"y":36.5},{"c":4,"m":3,"s":2,"x":271,"y":37},{"c":4,"m":3,"s":2,"x":277.8,"y":37.5},{"c":4,"m":3,"s":2,"x":285,"y":36.9},
{"c":4,"m":3,"s":3,"x":189,"y":25},{"c":4,"m":3,"s":3,"x":194,"y":25.5},{"c":4,"m":3,"s":3,"x":200,"y":26},{"c":4,"m":3,"s":3,"x":206,"y":27},{"c":4,"m":3,"s":3,"x":212,"y":27.5},{"c":4,"m":3,"s":3,"x":218,"y":28.5},{"c":4,"m":3,"s":3,"x":224,"y":29},{"c":4,"m":3,"s":3,"x":230,"y":29.5},{"c":4,"m":3,"s":3,"x":236,"y":30},{"c":4,"m":3,"s":3,"x":242,"y":30.5},{"c":4,"m":3,"s":3,"x":251.2,"y":30},{"c":4,"m":3,"s":3,"x":260.6,"y":31.7},{"c":4,"m":3,"s":3,"x":273.1,"y":32.9},{"c":4,"m":3,"s":3,"x":285.6,"y":34.6},
{"c":4,"m":3,"s":4,"x":192,"y":27},{"c":4,"m":3,"s":4,"x":198,"y":28},{"c":4,"m":3,"s":4,"x":204,"y":28.5},{"c":4,"m":3,"s":4,"x":210,"y":29},{"c":4,"m":3,"s":4,"x":216,"y":29.5},{"c":4,"m":3,"s":4,"x":222,"y":30},{"c":4,"m":3,"s":4,"x":228,"y":31},{"c":4,"m":3,"s":4,"x":234,"y":32},{"c":4,"m":3,"s":4,"x":240,"y":32.5},{"c":4,"m":3,"s":4,"x":246,"y":33},{"c":4,"m":3,"s":4,"x":252,"y":33.5},{"c":4,"m":3,"s":4,"x":258,"y":34},{"c":4,"m":3,"s":4,"x":264,"y":35},{"c":4,"m":3,"s":4,"x":270,"y":35.5},{"c":4,"m":3,"s":4,"x":277,"y":36},{"c":4,"m":3,"s":4,"x":284,"y":36.5},
{"c":4,"m":3,"s":5,"x":195,"y":28.5},{"c":4,"m":3,"s":5,"x":201,"y":29},{"c":4,"m":3,"s":5,"x":207,"y":29.5},{"c":4,"m":3,"s":5,"x":213,"y":30},{"c":4,"m":3,"s":5,"x":219,"y":30},{"c":4,"m":3,"s":5,"x":225,"y":30.5},{"c":4,"m":3,"s":5,"x":231,"y":31},{"c":4,"m":3,"s":5,"x":237,"y":32},{"c":4,"m":3,"s":5,"x":243,"y":33},{"c":4,"m":3,"s":5,"x":249,"y":34},{"c":4,"m":3,"s":5,"x":255,"y":35},{"c":4,"m":3,"s":5,"x":261,"y":36},{"c":4,"m":3,"s":5,"x":267,"y":36.5},{"c":4,"m":3,"s":5,"x":273,"y":37},{"c":4,"m":3,"s":5,"x":279,"y":37},{"c":4,"m":3,"s":5,"x":286,"y":36},
{"c":4,"m":3,"s":6,"x":197,"y":26},{"c":4,"m":3,"s":6,"x":203,"y":26.5},{"c":4,"m":3,"s":6,"x":209,"y":27.5},{"c":4,"m":3,"s":6,"x":215,"y":28.5},{"c":4,"m":3,"s":6,"x":221,"y":29.5},{"c":4,"m":3,"s":6,"x":227,"y":30.5},{"c":4,"m":3,"s":6,"x":233,"y":31.5},{"c":4,"m":3,"s":6,"x":239,"y":32.5},{"c":4,"m":3,"s":6,"x":245,"y":33.5},{"c":4,"m":3,"s":6,"x":251,"y":34.5},{"c":4,"m":3,"s":6,"x":257,"y":35.5},{"c":4,"m":3,"s":6,"x":263,"y":36},{"c":4,"m":3,"s":6,"x":270,"y":36.5},{"c":4,"m":3,"s":6,"x":276,"y":36},
{"c":4,"m":3,"s":7,"x":200,"y":27.5},{"c":4,"m":3,"s":7,"x":206,"y":28.5},{"c":4,"m":3,"s":7,"x":212,"y":29},{"c":4,"m":3,"s":7,"x":218,"y":29.5},{"c":4,"m":3,"s":7,"x":224,"y":30},{"c":4,"m":3,"s":7,"x":230,"y":31},{"c":4,"m":3,"s":7,"x":236,"y":31.5},{"c":4,"m":3,"s":7,"x":242,"y":32},{"c":4,"m":3,"s":7,"x":248,"y":32.5},{"c":4,"m":3,"s":7,"x":254,"y":33},{"c":4,"m":3,"s":7,"x":260,"y":33.5},{"c":4,"m":3,"s":7,"x":266,"y":34},{"c":4,"m":3,"s":7,"x":272,"y":34},{"c":4,"m":3,"s":7,"x":280,"y":35},
{"c":4,"m":3,"s":8,"x":190,"y":27},{"c":4,"m":3,"s":8,"x":196,"y":27.5},{"c":4,"m":3,"s":8,"x":202,"y":28},{"c":4,"m":3,"s":8,"x":208,"y":28.5},{"c":4,"m":3,"s":8,"x":214,"y":29},{"c":4,"m":3,"s":8,"x":220,"y":29.5},{"c":4,"m":3,"s":8,"x":226,"y":30.5},{"c":4,"m":3,"s":8,"x":232,"y":31},{"c":4,"m":3,"s":8,"x":238,"y":31.5},{"c":4,"m":3,"s":8,"x":244,"y":32.5},{"c":4,"m":3,"s":8,"x":250,"y":33},{"c":4,"m":3,"s":8,"x":256,"y":34},{"c":4,"m":3,"s":8,"x":262,"y":34.5},{"c":4,"m":3,"s":8,"x":268,"y":35},{"c":4,"m":3,"s":8,"x":274,"y":35.5},{"c":4,"m":3,"s":8,"x":281,"y":36},{"c":4,"m":3,"s":8,"x":288,"y":36.5},
{"c":4,"m":3,"s":9,"x":193,"y":25.5},{"c":4,"m":3,"s":9,"x":199,"y":26},{"c":4,"m":3,"s":9,"x":205,"y":27},{"c":4,"m":3,"s":9,"x":211,"y":28},{"c":4,"m":3,"s":9,"x":217,"y":29},{"c":4,"m":3,"s":9,"x":223,"y":30},{"c":4,"m":3,"s":9,"x":229,"y":30.5},{"c":4,"m":3,"s":9,"x":235,"y":31.5},{"c":4,"m":3,"s":9,"x":241,"y":32.5},{"c":4,"m":3,"s":9,"x":247,"y":33.5},{"c":4,"m":3,"s":9,"x":253,"y":34},{"c":4,"m":3,"s":9,"x":259,"y":35},{"c":4,"m":3,"s":9,"x":265,"y":35.5},{"c":4,"m":3,"s":9,"x":271,"y":36},{"c":4,"m":3,"s":9,"x":278,"y":36.5},{"c":4,"m":3,"s":9,"x":285,"y":37},
{"c":4,"m":3,"s":10,"x":198,"y":29},{"c":4,"m":3,"s":10,"x":204,"y":29.5},{"c":4,"m":3,"s":10,"x":210,"y":30},{"c":4,"m":3,"s":10,"x":216,"y":30},{"c":4,"m":3,"s":10,"x":222,"y":30.5},{"c":4,"m":3,"s":10,"x":228,"y":31.5},{"c":4,"m":3,"s":10,"x":234,"y":32.5},{"c":4,"m":3,"s":10,"x":240,"y":33.5},{"c":4,"m":3,"s":10,"x":246,"y":34.5},{"c":4,"m":3,"s":10,"x":252,"y":35},{"c":4,"m":3,"s":10,"x":258,"y":35.5},{"c":4,"m":3,"s":10,"x":264,"y":36},{"c":4,"m":3,"s":10,"x":270,"y":37},{"c":4,"m":3,"s":10,"x":276,"y":37},{"c":4,"m":3,"s":10,"x":283,"y":37},
{"c":5,"m":1,"s":1,"x":192,"y":1100},{"c":5,"m":1,"s":1,"x":195.6,"y":1343},{"c":5,"m":1,"s":1,"x":199,"y":1450},{"c":5,"m":1,"s":1,"x":201.8,"y":1612},{"c":5,"m":1,"s":1,"x":206,"y":1700},{"c":5,"m":1,"s":1,"x":210,"y":1780},{"c":5,"m":1,"s":1,"x":214.2,"y":1857},{"c":5,"m":1,"s":1,"x":218.8,"y":2114},{"c":5,"m":1,"s":1,"x":223,"y":2250},{"c":5,"m":1,"s":1,"x":228,"y":2400},{"c":5,"m":1,"s":1,"x":232,"y":2560},{"c":5,"m":1,"s":1,"x":237,"y":2750},{"c":5,"m":1,"s":1,"x":241,"y":2920},{"c":5,"m":1,"s":1,"x":245.2,"y":3007},{"c":5,"m":1,"s":1,"x":250.6,"y":3166},{"c":5,"m":1,"s":1,"x":254.5,"y":3264},{"c":5,"m":1,"s":1,"x":256.8,"y":3411},{"c":5,"m":1,"s":1,"x":260.7,"y":3484},{"c":5,"m":1,"s":1,"x":262,"y":3570},
{"c":5,"m":1,"s":2,"x":195,"y":1000},{"c":5,"m":1,"s":2,"x":200,"y":1100},{"c":5,"m":1,"s":2,"x":205,"y":1250},{"c":5,"m":1,"s":2,"x":210,"y":1400},{"c":5,"m":1,"s":2,"x":215,"y":1580},{"c":5,"m":1,"s":2,"x":220,"y":1780},{"c":5,"m":1,"s":2,"x":225,"y":1980},{"c":5,"m":1,"s":2,"x":230,"y":2180},{"c":5,"m":1,"s":2,"x":235,"y":2400},{"c":5,"m":1,"s":2,"x":240,"y":2620},{"c":5,"m":1,"s":2,"x":245,"y":2850},{"c":5,"m":1,"s":2,"x":250,"y":3050},{"c":5,"m":1,"s":2,"x":255,"y":3250},{"c":5,"m":1,"s":2,"x":260,"y":3400},{"c":5,"m":1,"s":2,"x":265,"y":3520},{"c":5,"m":1,"s":2,"x":270,"y":3620},{"c":5,"m":1,"s":2,"x":276.2,"y":3692},{"c":5,"m":1,"s":2,"x":280.2,"y":3766},{"c":5,"m":1,"s":2,"x":284.1,"y":3851},{"c":5,"m":1,"s":2,"x":284.5,"y":3949},{"c":5,"m":1,"s":2,"x":287.8,"y":4023},
{"c":5,"m":1,"s":3,"x":190.9,"y":976},{"c":5,"m":1,"s":3,"x":194,"y":878},{"c":5,"m":1,"s":3,"x":199,"y":900},{"c":5,"m":1,"s":3,"x":205.7,"y":915},{"c":5,"m":1,"s":3,"x":210,"y":1050},{"c":5,"m":1,"s":3,"x":215,"y":1200},{"c":5,"m":1,"s":3,"x":220,"y":1400},{"c":5,"m":1,"s":3,"x":225,"y":1600},{"c":5,"m":1,"s":3,"x":230,"y":1800},{"c":5,"m":1,"s":3,"x":235,"y":2000},{"c":5,"m":1,"s":3,"x":240,"y":2200},{"c":5,"m":1,"s":3,"x":245,"y":2400},{"c":5,"m":1,"s":3,"x":250,"y":2600},{"c":5,"m":1,"s":3,"x":255,"y":2750},{"c":5,"m":1,"s":3,"x":260,"y":2900},{"c":5,"m":1,"s":3,"x":265,"y":3050},{"c":5,"m":1,"s":3,"x":270,"y":3200},{"c":5,"m":1,"s":3,"x":275,"y":3330},{"c":5,"m":1,"s":3,"x":280,"y":3430},{"c":5,"m":1,"s":3,"x":287.8,"y":3607},
{"c":5,"m":1,"s":4,"x":192,"y":900},{"c":5,"m":1,"s":4,"x":196,"y":950},{"c":5,"m":1,"s":4,"x":200,"y":1020},{"c":5,"m":1,"s":4,"x":204,"y":1100},{"c":5,"m":1,"s":4,"x":208,"y":1200},{"c":5,"m":1,"s":4,"x":212,"y":1320},{"c":5,"m":1,"s":4,"x":216,"y":1460},{"c":5,"m":1,"s":4,"x":220,"y":1620},{"c":5,"m":1,"s":4,"x":224,"y":1780},{"c":5,"m":1,"s":4,"x":228,"y":1950},{"c":5,"m":1,"s":4,"x":232,"y":2120},{"c":5,"m":1,"s":4,"x":236,"y":2300},{"c":5,"m":1,"s":4,"x":240,"y":2480},{"c":5,"m":1,"s":4,"x":244,"y":2660},{"c":5,"m":1,"s":4,"x":248,"y":2820},{"c":5,"m":1,"s":4,"x":252,"y":2960},{"c":5,"m":1,"s":4,"x":256,"y":3080},{"c":5,"m":1,"s":4,"x":260,"y":3180},{"c":5,"m":1,"s":4,"x":265,"y":3280},{"c":5,"m":1,"s":4,"x":270,"y":3350},{"c":5,"m":1,"s":4,"x":275,"y":3400},{"c":5,"m":1,"s":4,"x":281,"y":3420},{"c":5,"m":1,"s":4,"x":287,"y":3533},
{"c":5,"m":1,"s":5,"x":210,"y":1000},{"c":5,"m":1,"s":5,"x":215,"y":1100},{"c":5,"m":1,"s":5,"x":220,"y":1220},{"c":5,"m":1,"s":5,"x":225,"y":1340},{"c":5,"m":1,"s":5,"x":230,"y":1440},{"c":5,"m":1,"s":5,"x":234,"y":1470},{"c":5,"m":1,"s":5,"x":238.2,"y":1478},{"c":5,"m":1,"s":5,"x":241.3,"y":1551},{"c":5,"m":1,"s":5,"x":244.4,"y":1698},{"c":5,"m":1,"s":5,"x":249,"y":1850},{"c":5,"m":1,"s":5,"x":253.7,"y":1992},{"c":5,"m":1,"s":5,"x":259.9,"y":2188},{"c":5,"m":1,"s":5,"x":266.1,"y":2310},{"c":5,"m":1,"s":5,"x":269.2,"y":2408},{"c":5,"m":1,"s":5,"x":272.3,"y":2530},{"c":5,"m":1,"s":5,"x":275.4,"y":2652},{"c":5,"m":1,"s":5,"x":279,"y":2800},{"c":5,"m":1,"s":5,"x":283.2,"y":2983},
{"c":5,"m":1,"s":6,"x":200,"y":1300},{"c":5,"m":1,"s":6,"x":204,"y":1350},{"c":5,"m":1,"s":6,"x":208,"y":1420},{"c":5,"m":1,"s":6,"x":212,"y":1500},{"c":5,"m":1,"s":6,"x":216,"y":1600},{"c":5,"m":1,"s":6,"x":220,"y":1720},{"c":5,"m":1,"s":6,"x":224,"y":1850},{"c":5,"m":1,"s":6,"x":228,"y":2000},{"c":5,"m":1,"s":6,"x":232,"y":2150},{"c":5,"m":1,"s":6,"x":236,"y":2300},{"c":5,"m":1,"s":6,"x":240,"y":2450},{"c":5,"m":1,"s":6,"x":244,"y":2600},{"c":5,"m":1,"s":6,"x":248,"y":2750},{"c":5,"m":1,"s":6,"x":252,"y":2880},{"c":5,"m":1,"s":6,"x":256,"y":3000},{"c":5,"m":1,"s":6,"x":260,"y":3100},{"c":5,"m":1,"s":6,"x":265,"y":3200},{"c":5,"m":1,"s":6,"x":270,"y":3300},{"c":5,"m":1,"s":6,"x":275,"y":3350},{"c":5,"m":1,"s":6,"x":280,"y":3380},{"c":5,"m":1,"s":6,"x":286,"y":3300},
{"c":5,"m":1,"s":7,"x":197,"y":1100},{"c":5,"m":1,"s":7,"x":202,"y":1180},{"c":5,"m":1,"s":7,"x":207,"y":1280},{"c":5,"m":1,"s":7,"x":212,"y":1400},{"c":5,"m":1,"s":7,"x":217,"y":1530},{"c":5,"m":1,"s":7,"x":222,"y":1680},{"c":5,"m":1,"s":7,"x":227,"y":1840},{"c":5,"m":1,"s":7,"x":232,"y":2010},{"c":5,"m":1,"s":7,"x":237,"y":2190},{"c":5,"m":1,"s":7,"x":242,"y":2370},{"c":5,"m":1,"s":7,"x":247,"y":2550},{"c":5,"m":1,"s":7,"x":252,"y":2700},{"c":5,"m":1,"s":7,"x":257,"y":2830},{"c":5,"m":1,"s":7,"x":262,"y":2940},{"c":5,"m":1,"s":7,"x":267,"y":3030},{"c":5,"m":1,"s":7,"x":272,"y":3100},{"c":5,"m":1,"s":7,"x":277,"y":3150},{"c":5,"m":1,"s":7,"x":282,"y":3200},{"c":5,"m":1,"s":7,"x":288,"y":3300},
{"c":5,"m":1,"s":8,"x":205,"y":1150},{"c":5,"m":1,"s":8,"x":209,"y":1250},{"c":5,"m":1,"s":8,"x":213,"y":1350},{"c":5,"m":1,"s":8,"x":217,"y":1450},{"c":5,"m":1,"s":8,"x":221,"y":1550},{"c":5,"m":1,"s":8,"x":225,"y":1700},{"c":5,"m":1,"s":8,"x":229,"y":1850},{"c":5,"m":1,"s":8,"x":233,"y":2000},{"c":5,"m":1,"s":8,"x":237,"y":2150},{"c":5,"m":1,"s":8,"x":241,"y":2300},{"c":5,"m":1,"s":8,"x":245,"y":2450},{"c":5,"m":1,"s":8,"x":249,"y":2600},{"c":5,"m":1,"s":8,"x":253,"y":2700},{"c":5,"m":1,"s":8,"x":258,"y":2780},{"c":5,"m":1,"s":8,"x":263,"y":2850},{"c":5,"m":1,"s":8,"x":268,"y":2900},{"c":5,"m":1,"s":8,"x":273,"y":2950},{"c":5,"m":1,"s":8,"x":278,"y":2980},{"c":5,"m":1,"s":8,"x":285,"y":3000},
{"c":5,"m":1,"s":9,"x":193,"y":1200},{"c":5,"m":1,"s":9,"x":196,"y":1250},{"c":5,"m":1,"s":9,"x":199,"y":1300},{"c":5,"m":1,"s":9,"x":202,"y":1400},{"c":5,"m":1,"s":9,"x":205,"y":1500},{"c":5,"m":1,"s":9,"x":208,"y":1550},{"c":5,"m":1,"s":9,"x":212,"y":1650},{"c":5,"m":1,"s":9,"x":216,"y":1800},{"c":5,"m":1,"s":9,"x":220,"y":1950},{"c":5,"m":1,"s":9,"x":224,"y":2100},{"c":5,"m":1,"s":9,"x":228,"y":2250},{"c":5,"m":1,"s":9,"x":232,"y":2420},{"c":5,"m":1,"s":9,"x":236,"y":2600},{"c":5,"m":1,"s":9,"x":240,"y":2780},{"c":5,"m":1,"s":9,"x":244,"y":2950},{"c":5,"m":1,"s":9,"x":248,"y":3100},{"c":5,"m":1,"s":9,"x":252,"y":3200},
{"c":5,"m":1,"s":10,"x":215,"y":1300},{"c":5,"m":1,"s":10,"x":219,"y":1400},{"c":5,"m":1,"s":10,"x":223,"y":1500},{"c":5,"m":1,"s":10,"x":227,"y":1620},{"c":5,"m":1,"s":10,"x":231,"y":1760},{"c":5,"m":1,"s":10,"x":235,"y":1900},{"c":5,"m":1,"s":10,"x":239,"y":2050},{"c":5,"m":1,"s":10,"x":243,"y":2200},{"c":5,"m":1,"s":10,"x":247,"y":2350},{"c":5,"m":1,"s":10,"x":251,"y":2480},{"c":5,"m":1,"s":10,"x":255,"y":2600},{"c":5,"m":1,"s":10,"x":259,"y":2700},{"c":5,"m":1,"s":10,"x":264,"y":2800},{"c":5,"m":1,"s":10,"x":269,"y":2880},{"c":5,"m":1,"s":10,"x":274,"y":2950},{"c":5,"m":1,"s":10,"x":280,"y":2900},{"c":5,"m":1,"s":10,"x":284,"y":2850},
{"c":5,"m":1,"s":11,"x":208,"y":1150},{"c":5,"m":1,"s":11,"x":211,"y":1200},{"c":5,"m":1,"s":11,"x":214,"y":1280},{"c":5,"m":1,"s":11,"x":218,"y":1380},{"c":5,"m":1,"s":11,"x":222,"y":1480},{"c":5,"m":1,"s":11,"x":226,"y":1600},{"c":5,"m":1,"s":11,"x":230,"y":1720},
{"c":5,"m":1,"s":12,"x":190,"y":950},{"c":5,"m":1,"s":12,"x":192,"y":930},{"c":5,"m":1,"s":12,"x":194,"y":950},{"c":5,"m":1,"s":12,"x":196,"y":980},{"c":5,"m":1,"s":12,"x":198,"y":1010},{"c":5,"m":1,"s":12,"x":200,"y":1050},{"c":5,"m":1,"s":12,"x":202,"y":1090},{"c":5,"m":1,"s":12,"x":204,"y":1140},{"c":5,"m":1,"s":12,"x":206,"y":1190},{"c":5,"m":1,"s":12,"x":208,"y":1250},{"c":5,"m":1,"s":12,"x":210,"y":1310},{"c":5,"m":1,"s":12,"x":212,"y":1380},{"c":5,"m":1,"s":12,"x":214,"y":1450},{"c":5,"m":1,"s":12,"x":216,"y":1520},{"c":5,"m":1,"s":12,"x":218,"y":1600},{"c":5,"m":1,"s":12,"x":220,"y":1680},{"c":5,"m":1,"s":12,"x":222,"y":1760},{"c":5,"m":1,"s":12,"x":224,"y":1850},{"c":5,"m":1,"s":12,"x":226,"y":1940},{"c":5,"m":1,"s":12,"x":228,"y":2030},{"c":5,"m":1,"s":12,"x":230,"y":2120},{"c":5,"m":1,"s":12,"x":232,"y":2220},{"c":5,"m":1,"s":12,"x":234,"y":2320},{"c":5,"m":1,"s":12,"x":236,"y":2420},{"c":5,"m":1,"s":12,"x":238,"y":2520},{"c":5,"m":1,"s":12,"x":240,"y":2620},{"c":5,"m":1,"s":12,"x":242,"y":2720},
{"c":5,"m":1,"s":13,"x":193,"y":1050},{"c":5,"m":1,"s":13,"x":195,"y":1080},{"c":5,"m":1,"s":13,"x":197,"y":1120},{"c":5,"m":1,"s":13,"x":199,"y":1160},{"c":5,"m":1,"s":13,"x":201,"y":1200},{"c":5,"m":1,"s":13,"x":203,"y":1250},{"c":5,"m":1,"s":13,"x":205,"y":1300},{"c":5,"m":1,"s":13,"x":207,"y":1360},{"c":5,"m":1,"s":13,"x":209,"y":1420},{"c":5,"m":1,"s":13,"x":211,"y":1480},{"c":5,"m":1,"s":13,"x":213,"y":1550},{"c":5,"m":1,"s":13,"x":215,"y":1620},{"c":5,"m":1,"s":13,"x":217,"y":1700},{"c":5,"m":1,"s":13,"x":219,"y":1780},{"c":5,"m":1,"s":13,"x":221,"y":1860},{"c":5,"m":1,"s":13,"x":223,"y":1940},{"c":5,"m":1,"s":13,"x":225,"y":2030},{"c":5,"m":1,"s":13,"x":227,"y":2120},{"c":5,"m":1,"s":13,"x":229,"y":2210},{"c":5,"m":1,"s":13,"x":231,"y":2300},{"c":5,"m":1,"s":13,"x":233,"y":2400},{"c":5,"m":1,"s":13,"x":235,"y":2500},
{"c":5,"m":1,"s":14,"x":196,"y":1400},{"c":5,"m":1,"s":14,"x":199,"y":1450},{"c":5,"m":1,"s":14,"x":202,"y":1500},{"c":5,"m":1,"s":14,"x":205,"y":1560},{"c":5,"m":1,"s":14,"x":208,"y":1620},{"c":5,"m":1,"s":14,"x":211,"y":1690},{"c":5,"m":1,"s":14,"x":214,"y":1760},{"c":5,"m":1,"s":14,"x":217,"y":1840},{"c":5,"m":1,"s":14,"x":220,"y":1920},
{"c":5,"m":1,"s":15,"x":202,"y":1000},{"c":5,"m":1,"s":15,"x":205,"y":1050},{"c":5,"m":1,"s":15,"x":208,"y":1100},{"c":5,"m":1,"s":15,"x":211,"y":1160},{"c":5,"m":1,"s":15,"x":214,"y":1230},{"c":5,"m":1,"s":15,"x":217,"y":1300},{"c":5,"m":1,"s":15,"x":220,"y":1380},{"c":5,"m":1,"s":15,"x":223,"y":1460},{"c":5,"m":1,"s":15,"x":226,"y":1550},{"c":5,"m":1,"s":15,"x":229,"y":1640},{"c":5,"m":1,"s":15,"x":232,"y":1730},{"c":5,"m":1,"s":15,"x":235,"y":1830},{"c":5,"m":1,"s":15,"x":238,"y":1930},{"c":5,"m":1,"s":15,"x":241,"y":2030},{"c":5,"m":1,"s":15,"x":244,"y":2130},{"c":5,"m":1,"s":15,"x":247,"y":2240},{"c":5,"m":1,"s":15,"x":250,"y":2350},{"c":5,"m":1,"s":15,"x":253,"y":2460},{"c":5,"m":1,"s":15,"x":256,"y":2570},{"c":5,"m":1,"s":15,"x":259,"y":2680},{"c":5,"m":1,"s":15,"x":262,"y":2790},{"c":5,"m":1,"s":15,"x":265,"y":2890},
{"c":5,"m":1,"s":16,"x":206,"y":1300},{"c":5,"m":1,"s":16,"x":209,"y":1370},{"c":5,"m":1,"s":16,"x":212,"y":1450},{"c":5,"m":1,"s":16,"x":215,"y":1530},{"c":5,"m":1,"s":16,"x":218,"y":1610},{"c":5,"m":1,"s":16,"x":221,"y":1700},{"c":5,"m":1,"s":16,"x":224,"y":1790},{"c":5,"m":1,"s":16,"x":227,"y":1880},{"c":5,"m":1,"s":16,"x":230,"y":1980},{"c":5,"m":1,"s":16,"x":233,"y":2080},{"c":5,"m":1,"s":16,"x":236,"y":2180},{"c":5,"m":1,"s":16,"x":239,"y":2290},{"c":5,"m":1,"s":16,"x":242,"y":2400},{"c":5,"m":1,"s":16,"x":245,"y":2510},{"c":5,"m":1,"s":16,"x":248,"y":2620},{"c":5,"m":1,"s":16,"x":251,"y":2730},{"c":5,"m":1,"s":16,"x":254,"y":2840},{"c":5,"m":1,"s":16,"x":257,"y":2950},{"c":5,"m":1,"s":16,"x":260,"y":3050},{"c":5,"m":1,"s":16,"x":263,"y":3150},
{"c":5,"m":1,"s":17,"x":191,"y":1000},{"c":5,"m":1,"s":17,"x":193,"y":980},{"c":5,"m":1,"s":17,"x":195,"y":1000},{"c":5,"m":1,"s":17,"x":197,"y":1040},{"c":5,"m":1,"s":17,"x":199,"y":1080},{"c":5,"m":1,"s":17,"x":201,"y":1130},{"c":5,"m":1,"s":17,"x":203,"y":1180},
{"c":5,"m":1,"s":18,"x":212,"y":1550},{"c":5,"m":1,"s":18,"x":215,"y":1640},{"c":5,"m":1,"s":18,"x":218,"y":1730},{"c":5,"m":1,"s":18,"x":221,"y":1830},{"c":5,"m":1,"s":18,"x":224,"y":1930},{"c":5,"m":1,"s":18,"x":227,"y":2030},{"c":5,"m":1,"s":18,"x":230,"y":2140},{"c":5,"m":1,"s":18,"x":233,"y":2250},{"c":5,"m":1,"s":18,"x":236,"y":2360},{"c":5,"m":1,"s":18,"x":239,"y":2470},{"c":5,"m":1,"s":18,"x":242,"y":2580},{"c":5,"m":1,"s":18,"x":245,"y":2690},{"c":5,"m":1,"s":18,"x":248,"y":2800},{"c":5,"m":1,"s":18,"x":251,"y":2900},{"c":5,"m":1,"s":18,"x":254,"y":3000},{"c":5,"m":1,"s":18,"x":257,"y":3100},{"c":5,"m":1,"s":18,"x":260,"y":3200},{"c":5,"m":1,"s":18,"x":263,"y":3300},{"c":5,"m":1,"s":18,"x":266,"y":3380},
{"c":5,"m":1,"s":19,"x":218,"y":1200},{"c":5,"m":1,"s":19,"x":221,"y":1280},{"c":5,"m":1,"s":19,"x":224,"y":1370},{"c":5,"m":1,"s":19,"x":227,"y":1460},{"c":5,"m":1,"s":19,"x":230,"y":1560},{"c":5,"m":1,"s":19,"x":233,"y":1660},{"c":5,"m":1,"s":19,"x":236,"y":1760},{"c":5,"m":1,"s":19,"x":239,"y":1870},{"c":5,"m":1,"s":19,"x":242,"y":1980},{"c":5,"m":1,"s":19,"x":245,"y":2090},{"c":5,"m":1,"s":19,"x":248,"y":2200},{"c":5,"m":1,"s":19,"x":251,"y":2310},{"c":5,"m":1,"s":19,"x":254,"y":2420},{"c":5,"m":1,"s":19,"x":257,"y":2530},{"c":5,"m":1,"s":19,"x":260,"y":2640},{"c":5,"m":1,"s":19,"x":263,"y":2750},{"c":5,"m":1,"s":19,"x":266,"y":2850},{"c":5,"m":1,"s":19,"x":269,"y":2950},{"c":5,"m":1,"s":19,"x":272,"y":3050},{"c":5,"m":1,"s":19,"x":275,"y":3150},{"c":5,"m":1,"s":19,"x":278,"y":3250},
{"c":5,"m":1,"s":20,"x":191,"y":900},{"c":5,"m":1,"s":20,"x":193,"y":920},{"c":5,"m":1,"s":20,"x":195,"y":950},{"c":5,"m":1,"s":20,"x":197,"y":980},{"c":5,"m":1,"s":20,"x":199,"y":1020},{"c":5,"m":1,"s":20,"x":201,"y":1060},{"c":5,"m":1,"s":20,"x":203,"y":1100},{"c":5,"m":1,"s":20,"x":205,"y":1150},{"c":5,"m":1,"s":20,"x":207,"y":1200},{"c":5,"m":1,"s":20,"x":209,"y":1260},{"c":5,"m":1,"s":20,"x":211,"y":1320},
{"c":5,"m":1,"s":21,"x":194,"y":1100},{"c":5,"m":1,"s":21,"x":196,"y":1140},{"c":5,"m":1,"s":21,"x":198,"y":1180},{"c":5,"m":1,"s":21,"x":200,"y":1230},{"c":5,"m":1,"s":21,"x":202,"y":1280},{"c":5,"m":1,"s":21,"x":204,"y":1330},{"c":5,"m":1,"s":21,"x":206,"y":1390},{"c":5,"m":1,"s":21,"x":208,"y":1450},{"c":5,"m":1,"s":21,"x":210,"y":1510},{"c":5,"m":1,"s":21,"x":212,"y":1580},
{"c":5,"m":1,"s":22,"x":198,"y":1200},{"c":5,"m":1,"s":22,"x":200,"y":1240},{"c":5,"m":1,"s":22,"x":202,"y":1290},{"c":5,"m":1,"s":22,"x":204,"y":1340},{"c":5,"m":1,"s":22,"x":206,"y":1400},{"c":5,"m":1,"s":22,"x":208,"y":1460},{"c":5,"m":1,"s":22,"x":210,"y":1520},{"c":5,"m":1,"s":22,"x":212,"y":1590},{"c":5,"m":1,"s":22,"x":214,"y":1660},{"c":5,"m":1,"s":22,"x":216,"y":1730},{"c":5,"m":1,"s":22,"x":218,"y":1810},
{"c":5,"m":1,"s":23,"x":203,"y":1400},{"c":5,"m":1,"s":23,"x":205,"y":1450},{"c":5,"m":1,"s":23,"x":207,"y":1510},{"c":5,"m":1,"s":23,"x":209,"y":1570},{"c":5,"m":1,"s":23,"x":211,"y":1630},{"c":5,"m":1,"s":23,"x":213,"y":1700},{"c":5,"m":1,"s":23,"x":215,"y":1770},{"c":5,"m":1,"s":23,"x":217,"y":1840},{"c":5,"m":1,"s":23,"x":219,"y":1920},{"c":5,"m":1,"s":23,"x":221,"y":2000},{"c":5,"m":1,"s":23,"x":223,"y":2080},
{"c":5,"m":1,"s":24,"x":209,"y":1200},{"c":5,"m":1,"s":24,"x":211,"y":1260},{"c":5,"m":1,"s":24,"x":213,"y":1320},{"c":5,"m":1,"s":24,"x":215,"y":1390},{"c":5,"m":1,"s":24,"x":217,"y":1460},{"c":5,"m":1,"s":24,"x":219,"y":1530},{"c":5,"m":1,"s":24,"x":221,"y":1610},{"c":5,"m":1,"s":24,"x":223,"y":1690},{"c":5,"m":1,"s":24,"x":225,"y":1770},{"c":5,"m":1,"s":24,"x":227,"y":1850},
{"c":5,"m":1,"s":25,"x":214,"y":1500},{"c":5,"m":1,"s":25,"x":216,"y":1560},{"c":5,"m":1,"s":25,"x":218,"y":1630},{"c":5,"m":1,"s":25,"x":220,"y":1700},{"c":5,"m":1,"s":25,"x":222,"y":1780},{"c":5,"m":1,"s":25,"x":224,"y":1860},{"c":5,"m":1,"s":25,"x":226,"y":1940},{"c":5,"m":1,"s":25,"x":228,"y":2020},{"c":5,"m":1,"s":25,"x":230,"y":2110},{"c":5,"m":1,"s":25,"x":232,"y":2200},{"c":5,"m":1,"s":25,"x":234,"y":2290},
{"c":5,"m":1,"s":26,"x":220,"y":1700},{"c":5,"m":1,"s":26,"x":222,"y":1780},{"c":5,"m":1,"s":26,"x":224,"y":1860},{"c":5,"m":1,"s":26,"x":226,"y":1940},{"c":5,"m":1,"s":26,"x":228,"y":2030},{"c":5,"m":1,"s":26,"x":230,"y":2120},{"c":5,"m":1,"s":26,"x":232,"y":2210},{"c":5,"m":1,"s":26,"x":234,"y":2300},{"c":5,"m":1,"s":26,"x":236,"y":2400},{"c":5,"m":1,"s":26,"x":238,"y":2500},
{"c":5,"m":1,"s":27,"x":225,"y":2000},{"c":5,"m":1,"s":27,"x":227,"y":2080},{"c":5,"m":1,"s":27,"x":229,"y":2160},{"c":5,"m":1,"s":27,"x":231,"y":2250},{"c":5,"m":1,"s":27,"x":233,"y":2340},{"c":5,"m":1,"s":27,"x":235,"y":2430},{"c":5,"m":1,"s":27,"x":237,"y":2520},{"c":5,"m":1,"s":27,"x":239,"y":2620},{"c":5,"m":1,"s":27,"x":241,"y":2720},{"c":5,"m":1,"s":27,"x":243,"y":2820},
{"c":5,"m":2,"s":1,"x":195.8,"y":34},{"c":5,"m":2,"s":1,"x":199,"y":36},{"c":5,"m":2,"s":1,"x":203,"y":38},{"c":5,"m":2,"s":1,"x":208,"y":39},{"c":5,"m":2,"s":1,"x":214,"y":40},{"c":5,"m":2,"s":1,"x":220,"y":42},{"c":5,"m":2,"s":1,"x":226,"y":43},{"c":5,"m":2,"s":1,"x":232,"y":44},{"c":5,"m":2,"s":1,"x":238,"y":45},{"c":5,"m":2,"s":1,"x":244,"y":46},{"c":5,"m":2,"s":1,"x":250,"y":47},{"c":5,"m":2,"s":1,"x":256,"y":48},{"c":5,"m":2,"s":1,"x":262,"y":48.5},{"c":5,"m":2,"s":1,"x":270.3,"y":48.3},{"c":5,"m":2,"s":1,"x":275.6,"y":35.9},
{"c":5,"m":2,"s":2,"x":194.2,"y":37.5},{"c":5,"m":2,"s":2,"x":200,"y":37},{"c":5,"m":2,"s":2,"x":206,"y":39},{"c":5,"m":2,"s":2,"x":212,"y":40},{"c":5,"m":2,"s":2,"x":218,"y":41},{"c":5,"m":2,"s":2,"x":224,"y":42},{"c":5,"m":2,"s":2,"x":230,"y":43},{"c":5,"m":2,"s":2,"x":237,"y":45.5},{"c":5,"m":2,"s":2,"x":239,"y":52.9},{"c":5,"m":2,"s":2,"x":248.4,"y":50},{"c":5,"m":2,"s":2,"x":254,"y":47},{"c":5,"m":2,"s":2,"x":260,"y":48},{"c":5,"m":2,"s":2,"x":266,"y":49.5},{"c":5,"m":2,"s":2,"x":273,"y":50},{"c":5,"m":2,"s":2,"x":277.2,"y":52},{"c":5,"m":2,"s":2,"x":283.5,"y":52.4},{"c":5,"m":2,"s":2,"x":288.2,"y":52.9},
{"c":5,"m":2,"s":3,"x":192.6,"y":35.4},{"c":5,"m":2,"s":3,"x":195.8,"y":39.9},{"c":5,"m":2,"s":3,"x":200,"y":40},{"c":5,"m":2,"s":3,"x":206,"y":40},{"c":5,"m":2,"s":3,"x":211.4,"y":43.9},{"c":5,"m":2,"s":3,"x":216,"y":44},{"c":5,"m":2,"s":3,"x":220.8,"y":45},{"c":5,"m":2,"s":3,"x":226,"y":45},{"c":5,"m":2,"s":3,"x":232,"y":46},{"c":5,"m":2,"s":3,"x":240,"y":47},{"c":5,"m":2,"s":3,"x":248,"y":48},{"c":5,"m":2,"s":3,"x":256,"y":48.5},{"c":5,"m":2,"s":3,"x":264,"y":49},{"c":5,"m":2,"s":3,"x":270,"y":50},{"c":5,"m":2,"s":3,"x":277,"y":50},{"c":5,"m":2,"s":3,"x":285,"y":49.8},
{"c":5,"m":2,"s":4,"x":196.5,"y":34},{"c":5,"m":2,"s":4,"x":203.6,"y":34},{"c":5,"m":2,"s":4,"x":209,"y":37},{"c":5,"m":2,"s":4,"x":214,"y":38},{"c":5,"m":2,"s":4,"x":220,"y":40},{"c":5,"m":2,"s":4,"x":226,"y":41.5},{"c":5,"m":2,"s":4,"x":232,"y":42.5},{"c":5,"m":2,"s":4,"x":238,"y":44},{"c":5,"m":2,"s":4,"x":244,"y":45},{"c":5,"m":2,"s":4,"x":250,"y":46},{"c":5,"m":2,"s":4,"x":256,"y":47},{"c":5,"m":2,"s":4,"x":262,"y":48},{"c":5,"m":2,"s":4,"x":268,"y":49},{"c":5,"m":2,"s":4,"x":274,"y":49},{"c":5,"m":2,"s":4,"x":278,"y":50},{"c":5,"m":2,"s":4,"x":281.9,"y":45.9},{"c":5,"m":2,"s":4,"x":284,"y":48},
{"c":5,"m":2,"s":5,"x":193,"y":37},{"c":5,"m":2,"s":5,"x":198,"y":38},{"c":5,"m":2,"s":5,"x":204,"y":39},{"c":5,"m":2,"s":5,"x":210,"y":40},{"c":5,"m":2,"s":5,"x":216,"y":41},{"c":5,"m":2,"s":5,"x":222,"y":42},{"c":5,"m":2,"s":5,"x":228,"y":43},{"c":5,"m":2,"s":5,"x":234,"y":44.5},{"c":5,"m":2,"s":5,"x":240,"y":45.5},{"c":5,"m":2,"s":5,"x":246,"y":46.5},{"c":5,"m":2,"s":5,"x":252,"y":47.5},{"c":5,"m":2,"s":5,"x":258,"y":48.5},{"c":5,"m":2,"s":5,"x":264,"y":49.5},{"c":5,"m":2,"s":5,"x":270,"y":50},{"c":5,"m":2,"s":5,"x":276,"y":50},{"c":5,"m":2,"s":5,"x":283.5,"y":48},
{"c":5,"m":2,"s":6,"x":200,"y":36},{"c":5,"m":2,"s":6,"x":206,"y":37},{"c":5,"m":2,"s":6,"x":212,"y":38.5},{"c":5,"m":2,"s":6,"x":218,"y":40},{"c":5,"m":2,"s":6,"x":224,"y":41},{"c":5,"m":2,"s":6,"x":230,"y":42},{"c":5,"m":2,"s":6,"x":236,"y":43.5},{"c":5,"m":2,"s":6,"x":242,"y":44},{"c":5,"m":2,"s":6,"x":248,"y":45},{"c":5,"m":2,"s":6,"x":254,"y":46},{"c":5,"m":2,"s":6,"x":260,"y":47},{"c":5,"m":2,"s":6,"x":266,"y":48},{"c":5,"m":2,"s":6,"x":272,"y":49},{"c":5,"m":2,"s":6,"x":278,"y":50},{"c":5,"m":2,"s":6,"x":285,"y":49.8},
{"c":5,"m":2,"s":7,"x":205,"y":40},{"c":5,"m":2,"s":7,"x":210,"y":41},{"c":5,"m":2,"s":7,"x":216,"y":42},{"c":5,"m":2,"s":7,"x":222,"y":42.5},{"c":5,"m":2,"s":7,"x":228,"y":44},{"c":5,"m":2,"s":7,"x":234,"y":44.5},{"c":5,"m":2,"s":7,"x":240,"y":45},{"c":5,"m":2,"s":7,"x":246,"y":46},{"c":5,"m":2,"s":7,"x":252,"y":47},{"c":5,"m":2,"s":7,"x":258,"y":48},{"c":5,"m":2,"s":7,"x":264,"y":48},{"c":5,"m":2,"s":7,"x":270,"y":49},{"c":5,"m":2,"s":7,"x":276,"y":50},{"c":5,"m":2,"s":7,"x":282,"y":50},{"c":5,"m":2,"s":7,"x":288,"y":51.5},
{"c":5,"m":2,"s":8,"x":197,"y":38},{"c":5,"m":2,"s":8,"x":203,"y":39},{"c":5,"m":2,"s":8,"x":209,"y":40},{"c":5,"m":2,"s":8,"x":215,"y":42},{"c":5,"m":2,"s":8,"x":221,"y":43},{"c":5,"m":2,"s":8,"x":227,"y":44},{"c":5,"m":2,"s":8,"x":233,"y":45},{"c":5,"m":2,"s":8,"x":239,"y":46},{"c":5,"m":2,"s":8,"x":245,"y":47},{"c":5,"m":2,"s":8,"x":251,"y":48},{"c":5,"m":2,"s":8,"x":257,"y":48},{"c":5,"m":2,"s":8,"x":263,"y":49},{"c":5,"m":2,"s":8,"x":269,"y":50},{"c":5,"m":2,"s":8,"x":275,"y":50},{"c":5,"m":2,"s":8,"x":281,"y":51},
{"c":5,"m":2,"s":9,"x":200,"y":40},{"c":5,"m":2,"s":9,"x":206,"y":40},{"c":5,"m":2,"s":9,"x":212,"y":41},{"c":5,"m":2,"s":9,"x":218,"y":42},{"c":5,"m":2,"s":9,"x":224,"y":43},{"c":5,"m":2,"s":9,"x":230,"y":43},{"c":5,"m":2,"s":9,"x":236,"y":45},{"c":5,"m":2,"s":9,"x":242,"y":46},{"c":5,"m":2,"s":9,"x":248,"y":47},{"c":5,"m":2,"s":9,"x":254,"y":47},{"c":5,"m":2,"s":9,"x":260,"y":48},{"c":5,"m":2,"s":9,"x":266,"y":49},{"c":5,"m":2,"s":9,"x":272,"y":49},{"c":5,"m":2,"s":9,"x":278,"y":50},
{"c":5,"m":2,"s":10,"x":208,"y":42},{"c":5,"m":2,"s":10,"x":214,"y":43},{"c":5,"m":2,"s":10,"x":220,"y":44},{"c":5,"m":2,"s":10,"x":226,"y":45},{"c":5,"m":2,"s":10,"x":232,"y":45},{"c":5,"m":2,"s":10,"x":238,"y":46},{"c":5,"m":2,"s":10,"x":244,"y":47},{"c":5,"m":2,"s":10,"x":250,"y":48},{"c":5,"m":2,"s":10,"x":256,"y":49},{"c":5,"m":2,"s":10,"x":262,"y":50},{"c":5,"m":2,"s":10,"x":268,"y":50},{"c":5,"m":2,"s":10,"x":274,"y":50},{"c":5,"m":2,"s":10,"x":280,"y":50},{"c":5,"m":2,"s":10,"x":286,"y":52},
{"c":5,"m":3,"s":1,"x":191.1,"y":27},{"c":5,"m":3,"s":1,"x":195.8,"y":27},{"c":5,"m":3,"s":1,"x":202,"y":27},{"c":5,"m":3,"s":1,"x":207,"y":28},{"c":5,"m":3,"s":1,"x":212,"y":28.5},{"c":5,"m":3,"s":1,"x":218,"y":29.5},{"c":5,"m":3,"s":1,"x":224,"y":30.5},{"c":5,"m":3,"s":1,"x":230,"y":31.5},{"c":5,"m":3,"s":1,"x":236,"y":32},{"c":5,"m":3,"s":1,"x":242,"y":33},{"c":5,"m":3,"s":1,"x":248,"y":34},{"c":5,"m":3,"s":1,"x":255.3,"y":35},{"c":5,"m":3,"s":1,"x":260,"y":36.9},{"c":5,"m":3,"s":1,"x":267.8,"y":36.9},{"c":5,"m":3,"s":1,"x":274.1,"y":36.9},{"c":5,"m":3,"s":1,"x":280.3,"y":37.5},{"c":5,"m":3,"s":1,"x":286.6,"y":38.1},
{"c":5,"m":3,"s":2,"x":195.8,"y":25.2},{"c":5,"m":3,"s":2,"x":199.5,"y":24.2},{"c":5,"m":3,"s":2,"x":205.2,"y":25},{"c":5,"m":3,"s":2,"x":211,"y":26.5},{"c":5,"m":3,"s":2,"x":217,"y":27.5},{"c":5,"m":3,"s":2,"x":223,"y":28.5},{"c":5,"m":3,"s":2,"x":229,"y":29.5},{"c":5,"m":3,"s":2,"x":235,"y":30.5},{"c":5,"m":3,"s":2,"x":241,"y":31.5},{"c":5,"m":3,"s":2,"x":247,"y":32.5},{"c":5,"m":3,"s":2,"x":253,"y":33},{"c":5,"m":3,"s":2,"x":259,"y":34},{"c":5,"m":3,"s":2,"x":265,"y":34.5},{"c":5,"m":3,"s":2,"x":270.3,"y":36.5},{"c":5,"m":3,"s":2,"x":275.6,"y":50},
{"c":5,"m":3,"s":3,"x":202,"y":28.1},{"c":5,"m":3,"s":3,"x":207,"y":28.5},{"c":5,"m":3,"s":3,"x":212,"y":22},{"c":5,"m":3,"s":3,"x":221,"y":28.5},{"c":5,"m":3,"s":3,"x":227,"y":29.5},{"c":5,"m":3,"s":3,"x":233,"y":30.5},{"c":5,"m":3,"s":3,"x":239,"y":31.5},{"c":5,"m":3,"s":3,"x":245,"y":32.5},{"c":5,"m":3,"s":3,"x":251,"y":33},{"c":5,"m":3,"s":3,"x":257,"y":33.5},{"c":5,"m":3,"s":3,"x":263,"y":34.5},{"c":5,"m":3,"s":3,"x":270,"y":35},{"c":5,"m":3,"s":3,"x":278,"y":35},{"c":5,"m":3,"s":3,"x":283,"y":34.5},
{"c":5,"m":3,"s":4,"x":204,"y":27.5},{"c":5,"m":3,"s":4,"x":209,"y":28},{"c":5,"m":3,"s":4,"x":214.6,"y":20},{"c":5,"m":3,"s":4,"x":222.4,"y":27.5},{"c":5,"m":3,"s":4,"x":227.1,"y":25},{"c":5,"m":3,"s":4,"x":232,"y":29},{"c":5,"m":3,"s":4,"x":238,"y":30.5},{"c":5,"m":3,"s":4,"x":244,"y":31.5},{"c":5,"m":3,"s":4,"x":250,"y":32.5},{"c":5,"m":3,"s":4,"x":256,"y":33.5},{"c":5,"m":3,"s":4,"x":262,"y":34.5},{"c":5,"m":3,"s":4,"x":268,"y":35},{"c":5,"m":3,"s":4,"x":274,"y":34.5},{"c":5,"m":3,"s":4,"x":281.9,"y":34},
{"c":5,"m":3,"s":5,"x":192,"y":26},{"c":5,"m":3,"s":5,"x":198,"y":26.5},{"c":5,"m":3,"s":5,"x":204,"y":27},{"c":5,"m":3,"s":5,"x":211.4,"y":30},{"c":5,"m":3,"s":5,"x":216,"y":30},{"c":5,"m":3,"s":5,"x":222,"y":31},{"c":5,"m":3,"s":5,"x":228,"y":31.5},{"c":5,"m":3,"s":5,"x":234,"y":32.5},{"c":5,"m":3,"s":5,"x":240,"y":33},{"c":5,"m":3,"s":5,"x":246,"y":33.5},{"c":5,"m":3,"s":5,"x":252,"y":34},{"c":5,"m":3,"s":5,"x":258,"y":34},{"c":5,"m":3,"s":5,"x":266.2,"y":31.9},{"c":5,"m":3,"s":5,"x":272.5,"y":32.9},{"c":5,"m":3,"s":5,"x":280.3,"y":34.8},{"c":5,"m":3,"s":5,"x":286,"y":35},
{"c":5,"m":3,"s":6,"x":200,"y":25.5},{"c":5,"m":3,"s":6,"x":206,"y":26.5},{"c":5,"m":3,"s":6,"x":212,"y":27},{"c":5,"m":3,"s":6,"x":218,"y":28},{"c":5,"m":3,"s":6,"x":224,"y":29},{"c":5,"m":3,"s":6,"x":230,"y":30},{"c":5,"m":3,"s":6,"x":236,"y":31},{"c":5,"m":3,"s":6,"x":242,"y":32},{"c":5,"m":3,"s":6,"x":248,"y":33},{"c":5,"m":3,"s":6,"x":254,"y":33.5},{"c":5,"m":3,"s":6,"x":260,"y":34.5},{"c":5,"m":3,"s":6,"x":266,"y":35},{"c":5,"m":3,"s":6,"x":272,"y":35.5},{"c":5,"m":3,"s":6,"x":278,"y":36},{"c":5,"m":3,"s":6,"x":284,"y":36},
{"c":5,"m":3,"s":7,"x":208,"y":26},{"c":5,"m":3,"s":7,"x":214,"y":27.5},{"c":5,"m":3,"s":7,"x":220,"y":28.5},{"c":5,"m":3,"s":7,"x":226,"y":30},{"c":5,"m":3,"s":7,"x":232,"y":31},{"c":5,"m":3,"s":7,"x":238,"y":32},{"c":5,"m":3,"s":7,"x":244,"y":32.5},{"c":5,"m":3,"s":7,"x":250,"y":33.5},{"c":5,"m":3,"s":7,"x":256,"y":34.5},{"c":5,"m":3,"s":7,"x":262,"y":35.5},{"c":5,"m":3,"s":7,"x":268,"y":36},{"c":5,"m":3,"s":7,"x":274,"y":37},{"c":5,"m":3,"s":7,"x":281,"y":37},{"c":5,"m":3,"s":7,"x":288,"y":36},
{"c":5,"m":3,"s":8,"x":196,"y":27},{"c":5,"m":3,"s":8,"x":202,"y":27.5},{"c":5,"m":3,"s":8,"x":208,"y":28.5},{"c":5,"m":3,"s":8,"x":214,"y":29},{"c":5,"m":3,"s":8,"x":220,"y":29.5},{"c":5,"m":3,"s":8,"x":226,"y":30.5},{"c":5,"m":3,"s":8,"x":232,"y":31},{"c":5,"m":3,"s":8,"x":238,"y":31.5},{"c":5,"m":3,"s":8,"x":244,"y":32.5},{"c":5,"m":3,"s":8,"x":250,"y":33},{"c":5,"m":3,"s":8,"x":256,"y":34},{"c":5,"m":3,"s":8,"x":262,"y":35},{"c":5,"m":3,"s":8,"x":268,"y":35},{"c":5,"m":3,"s":8,"x":274,"y":35.5},{"c":5,"m":3,"s":8,"x":280,"y":36},{"c":5,"m":3,"s":8,"x":287,"y":36},
{"c":5,"m":3,"s":9,"x":205,"y":27},{"c":5,"m":3,"s":9,"x":211,"y":28},{"c":5,"m":3,"s":9,"x":217,"y":29},{"c":5,"m":3,"s":9,"x":223,"y":30},{"c":5,"m":3,"s":9,"x":229,"y":30.5},{"c":5,"m":3,"s":9,"x":235,"y":31.5},{"c":5,"m":3,"s":9,"x":241,"y":32.5},{"c":5,"m":3,"s":9,"x":247,"y":33},{"c":5,"m":3,"s":9,"x":253,"y":34},{"c":5,"m":3,"s":9,"x":259,"y":34.5},{"c":5,"m":3,"s":9,"x":265,"y":35},{"c":5,"m":3,"s":9,"x":271,"y":35},{"c":5,"m":3,"s":9,"x":277,"y":35.5},{"c":5,"m":3,"s":9,"x":284,"y":35.5},
{"c":5,"m":3,"s":10,"x":199,"y":26.5},{"c":5,"m":3,"s":10,"x":205,"y":27.5},{"c":5,"m":3,"s":10,"x":211,"y":28},{"c":5,"m":3,"s":10,"x":217,"y":28.5},{"c":5,"m":3,"s":10,"x":223,"y":29.5},{"c":5,"m":3,"s":10,"x":229,"y":30.5},{"c":5,"m":3,"s":10,"x":235,"y":31.5},{"c":5,"m":3,"s":10,"x":241,"y":32},{"c":5,"m":3,"s":10,"x":247,"y":33},{"c":5,"m":3,"s":10,"x":253,"y":33.5},{"c":5,"m":3,"s":10,"x":259,"y":34},{"c":5,"m":3,"s":10,"x":265,"y":34.5},{"c":5,"m":3,"s":10,"x":271,"y":35},{"c":5,"m":3,"s":10,"x":278,"y":35}
]},
"spacing":16,
"vconcat":[
{"spacing":0,"vconcat":[
{"data":{"name":"top"},"facet":{"column":{"field":"c","type":"ordinal","header":null}},"spacing":{"column":23.5},
"spec":{"width":433,"height":107,"layer":[
{"mark":{"type":"rect","fill":"#d9d9d9","stroke":"#333333","strokeWidth":2.5},"encoding":{}},
{"transform":[{"filter":"indexof(datum.lab, '\\n') >= 0"}],"mark":{"type":"text","fontSize":36,"font":"Liberation Sans","color":"#1a1a1a","lineBreak":"\n","lineHeight":42,"dy":-21},"encoding":{"text":{"field":"lab","type":"nominal"}}},
{"transform":[{"filter":"indexof(datum.lab, '\\n') < 0"}],"mark":{"type":"text","fontSize":36,"font":"Liberation Sans","color":"#1a1a1a"},"encoding":{"text":{"field":"lab","type":"nominal"}}},
{"mark":{"type":"point","opacity":0},"encoding":{"y":{"datum":1.5,"type":"quantitative","scale":{"domain":[1,2]},"axis":{"values":[1.5],"labelExpr":"'4000'","labelOpacity":0,"tickOpacity":0,"grid":false,"domain":false,"minExtent":100,"maxExtent":100,"title":null}}}}
]}},
{"spacing":0,"hconcat":[
{"data":{"name":"pts"},"transform":[{"filter":"datum.m === 1"}],"facet":{"column":{"field":"c","type":"ordinal","header":null}},"spacing":{"column":23.5},
"spec":{"width":433,"height":1067,
"encoding":{
"x":{"field":"x","type":"quantitative","scale":{"domain":[177.55,295.95],"nice":false,"zero":false},"axis":{"values":[180,195,210,225,240,255,270,285],"labels":false,"ticks":false,"domain":false,"gridWidth":{"condition":{"test":"datum.value % 30 === 0","value":3.2},"value":1.6},"title":null}},
"y":{"field":"y","type":"quantitative","scale":{"domain":[360,4198],"nice":false,"zero":false},"axis":{"values":[500,1000,1500,2000,2500,3000,3500,4000],"format":"d","labelExpr":"datum.value % 1000 === 0 ? datum.label : ''","tickOpacity":{"condition":{"test":"datum.value % 1000 === 0","value":1},"value":0},"gridWidth":{"condition":{"test":"datum.value % 1000 === 0","value":3.2},"value":1.6},"minExtent":100,"maxExtent":100,"title":null}}},
"layer":[
{"mark":{"type":"line","stroke":"#000000","strokeOpacity":0.42,"strokeWidth":2.6},"encoding":{"detail":{"field":"s","type":"nominal"}}},
{"mark":{"type":"point","shape":"circle","filled":true,"fill":"#000000","fillOpacity":0.4,"stroke":"#000000","strokeOpacity":0.4,"strokeWidth":1.5,"size":200}}
]}},
{"data":{"name":"side"},"transform":[{"filter":"datum.m === 1"}],"width":72,"height":1067,"layer":[
{"mark":{"type":"rect","fill":"#d9d9d9","stroke":"#333333","strokeWidth":2.5},"encoding":{}},
{"mark":{"type":"text","angle":90,"fontSize":36,"font":"Liberation Sans","color":"#1a1a1a"},"encoding":{"text":{"field":"lab","type":"nominal"}}}
]}
]}
]},
{"spacing":0,"hconcat":[
{"data":{"name":"pts"},"transform":[{"filter":"datum.m === 2"}],"facet":{"column":{"field":"c","type":"ordinal","header":null}},"spacing":{"column":23.5},
"spec":{"width":433,"height":1067,
"encoding":{
"x":{"field":"x","type":"quantitative","scale":{"domain":[177.55,295.95],"nice":false,"zero":false},"axis":{"values":[180,195,210,225,240,255,270,285],"labels":false,"ticks":false,"domain":false,"gridWidth":{"condition":{"test":"datum.value % 30 === 0","value":3.2},"value":1.6},"title":null}},
"y":{"field":"y","type":"quantitative","scale":{"domain":[27.48,60.28],"nice":false,"zero":false},"axis":{"values":[30,35,40,45,50,55,60],"format":"d","labelExpr":"datum.value % 10 === 0 ? datum.label : ''","tickOpacity":{"condition":{"test":"datum.value % 10 === 0","value":1},"value":0},"gridWidth":{"condition":{"test":"datum.value % 10 === 0","value":3.2},"value":1.6},"minExtent":100,"maxExtent":100,"title":null}}},
"layer":[
{"mark":{"type":"line","stroke":"#000000","strokeOpacity":0.42,"strokeWidth":2.6},"encoding":{"detail":{"field":"s","type":"nominal"}}},
{"mark":{"type":"point","shape":"circle","filled":true,"fill":"#000000","fillOpacity":0.4,"stroke":"#000000","strokeOpacity":0.4,"strokeWidth":1.5,"size":200}}
]}},
{"data":{"name":"side"},"transform":[{"filter":"datum.m === 2"}],"width":72,"height":1067,"layer":[
{"mark":{"type":"rect","fill":"#d9d9d9","stroke":"#333333","strokeWidth":2.5},"encoding":{}},
{"mark":{"type":"text","angle":90,"fontSize":36,"font":"Liberation Sans","color":"#1a1a1a"},"encoding":{"text":{"field":"lab","type":"nominal"}}}
]}
]},
{"spacing":0,"hconcat":[
{"data":{"name":"pts"},"transform":[{"filter":"datum.m === 3"}],"facet":{"column":{"field":"c","type":"ordinal","header":null}},"spacing":{"column":23.5},
"spec":{"width":433,"height":1067,
"encoding":{
"x":{"field":"x","type":"quantitative","scale":{"domain":[177.55,295.95],"nice":false,"zero":false},"axis":{"values":[180,195,210,225,240,255,270,285],"format":"d","labelPadding":8,"labelExpr":"datum.value % 30 === 0 ? datum.label : ''","tickOpacity":{"condition":{"test":"datum.value % 30 === 0","value":1},"value":0},"gridWidth":{"condition":{"test":"datum.value % 30 === 0","value":3.2},"value":1.6},"title":null}},
"y":{"field":"y","type":"quantitative","scale":{"domain":[18.49,51.39],"nice":false,"zero":false},"axis":{"values":[20,25,30,35,40,45,50],"format":"d","labelExpr":"datum.value % 10 === 0 ? datum.label : ''","tickOpacity":{"condition":{"test":"datum.value % 10 === 0","value":1},"value":0},"gridWidth":{"condition":{"test":"datum.value % 10 === 0","value":3.2},"value":1.6},"minExtent":100,"maxExtent":100,"title":null}}},
"layer":[
{"mark":{"type":"line","stroke":"#000000","strokeOpacity":0.42,"strokeWidth":2.6},"encoding":{"detail":{"field":"s","type":"nominal"}}},
{"mark":{"type":"point","shape":"circle","filled":true,"fill":"#000000","fillOpacity":0.4,"stroke":"#000000","strokeOpacity":0.4,"strokeWidth":1.5,"size":200}}
]}},
{"data":{"name":"side"},"transform":[{"filter":"datum.m === 3"}],"width":72,"height":1067,"layer":[
{"mark":{"type":"rect","fill":"#d9d9d9","stroke":"#333333","strokeWidth":2.5},"encoding":{}},
{"mark":{"type":"text","angle":90,"fontSize":36,"font":"Liberation Sans","color":"#1a1a1a"},"encoding":{"text":{"field":"lab","type":"nominal"}}}
]}
]}
]
}
